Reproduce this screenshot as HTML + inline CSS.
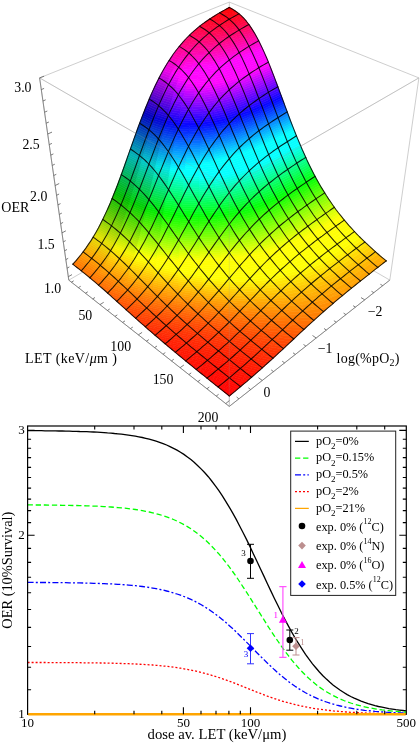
<!DOCTYPE html>
<html><head><meta charset="utf-8"><title>OER</title>
<style>html,body{margin:0;padding:0;background:#fff}svg{display:block}text{font-family:"Liberation Serif",serif}</style>
</head><body>
<svg width="420" height="745" viewBox="0 0 420 745">
<defs><clipPath id="cp"><rect x="27.6" y="426" width="378.7" height="289.3"/></clipPath></defs>
<rect width="420" height="745" fill="#fff"/>
<path d="M229.3 406.4L229.3 187.4M229.3 187.4L39.6 77.9M229.3 187.4L418.9 77.9M68.8 280.1L229.3 406.4M229.3 406.4L389.8 280.1M68.8 280.1L229.3 187.4M229.3 187.4L389.8 280.1M68.8 280.1L39.6 77.9M389.8 280.1L418.9 77.9M229.3 187.4L229.3 2.1M39.6 77.9L229.3 2.1M229.3 2.1L418.9 77.9" stroke="#c2c2c2" stroke-width="0.8" fill="none"/>
<path d="M68.8 280.1L229.3 406.4M229.3 406.4L389.8 280.1M68.8 280.1L39.6 77.9" stroke="#777" stroke-width="0.8" fill="none"/>
<g stroke-width="0.6" stroke-linejoin="round">
<path d="M229.3 396L225 392.3L224.4 392.1Z" fill="#ff0404" stroke="#ff0404"/>
<path d="M229.3 396L225.6 392.5L225 392.3Z" fill="#ff0404" stroke="#ff0404"/>
<path d="M229.3 396L226.1 392.7L225.6 392.5Z" fill="#ff0404" stroke="#ff0404"/>
<path d="M229.3 396L226.7 392.9L226.1 392.7Z" fill="#ff0404" stroke="#ff0404"/>
<path d="M229.3 396L227.3 393.1L226.7 392.9Z" fill="#ff0404" stroke="#ff0404"/>
<path d="M229.3 396L227.9 393.2L227.3 393.1Z" fill="#ff0404" stroke="#ff0404"/>
<path d="M229.3 396L228.4 393.4L227.9 393.2Z" fill="#ff0404" stroke="#ff0404"/>
<path d="M229.3 396L229 393.6L228.4 393.4Z" fill="#ff0404" stroke="#ff0404"/>
<path d="M229.3 396L229.6 393.8L229 393.6Z" fill="#ff0404" stroke="#ff0404"/>
<path d="M229.3 396L230.1 394L229.6 393.8Z" fill="#ff0404" stroke="#ff0404"/>
<path d="M229.3 396L230.7 394.2L230.1 394Z" fill="#ff0404" stroke="#ff0404"/>
<path d="M229.3 396L231.3 394.4L230.7 394.2Z" fill="#ff0404" stroke="#ff0404"/>
<path d="M224.4 392.1L225 392.3L220.8 388.7L219.7 388.4Z" fill="#ff0504" stroke="#ff0504"/>
<path d="M225 392.3L225.6 392.5L222 389.1L220.8 388.7Z" fill="#ff0504" stroke="#ff0504"/>
<path d="M225.6 392.5L226.1 392.7L223.1 389.4L222 389.1Z" fill="#ff0504" stroke="#ff0504"/>
<path d="M226.1 392.7L226.7 392.9L224.2 389.8L223.1 389.4Z" fill="#ff0504" stroke="#ff0504"/>
<path d="M226.7 392.9L227.3 393.1L225.4 390.2L224.2 389.8Z" fill="#ff0504" stroke="#ff0504"/>
<path d="M227.3 393.1L227.9 393.2L226.5 390.5L225.4 390.2Z" fill="#ff0504" stroke="#ff0504"/>
<path d="M227.9 393.2L228.4 393.4L227.6 390.9L226.5 390.5Z" fill="#ff0504" stroke="#ff0504"/>
<path d="M228.4 393.4L229 393.6L228.8 391.2L227.6 390.9Z" fill="#ff0504" stroke="#ff0504"/>
<path d="M229 393.6L229.6 393.8L229.9 391.6L228.8 391.2Z" fill="#ff0504" stroke="#ff0504"/>
<path d="M229.6 393.8L230.1 394L231 392L229.9 391.6Z" fill="#ff0504" stroke="#ff0504"/>
<path d="M230.1 394L230.7 394.2L232.1 392.3L231 392Z" fill="#ff0504" stroke="#ff0504"/>
<path d="M230.7 394.2L231.3 394.4L233.3 392.7L232.1 392.3Z" fill="#ff0504" stroke="#ff0504"/>
<path d="M219.7 388.4L220.8 388.7L216.8 385.2L215.1 384.7Z" fill="#ff0604" stroke="#ff0604"/>
<path d="M220.8 388.7L222 389.1L218.5 385.7L216.8 385.2Z" fill="#ff0604" stroke="#ff0604"/>
<path d="M222 389.1L223.1 389.4L220.1 386.2L218.5 385.7Z" fill="#ff0604" stroke="#ff0604"/>
<path d="M223.1 389.4L224.2 389.8L221.8 386.8L220.1 386.2Z" fill="#ff0604" stroke="#ff0604"/>
<path d="M224.2 389.8L225.4 390.2L223.5 387.3L221.8 386.8Z" fill="#ff0604" stroke="#ff0604"/>
<path d="M225.4 390.2L226.5 390.5L225.2 387.8L223.5 387.3Z" fill="#ff0604" stroke="#ff0604"/>
<path d="M226.5 390.5L227.6 390.9L226.9 388.4L225.2 387.8Z" fill="#ff0604" stroke="#ff0604"/>
<path d="M227.6 390.9L228.8 391.2L228.6 388.9L226.9 388.4Z" fill="#ff0604" stroke="#ff0604"/>
<path d="M228.8 391.2L229.9 391.6L230.2 389.4L228.6 388.9Z" fill="#ff0604" stroke="#ff0604"/>
<path d="M229.9 391.6L231 392L231.9 390L230.2 389.4Z" fill="#ff0604" stroke="#ff0604"/>
<path d="M231 392L232.1 392.3L233.6 390.5L231.9 390Z" fill="#ff0604" stroke="#ff0604"/>
<path d="M232.1 392.3L233.3 392.7L235.3 391L233.6 390.5Z" fill="#ff0604" stroke="#ff0604"/>
<path d="M215.1 384.7L216.8 385.2L212.8 381.7L210.6 381.1Z" fill="#ff0704" stroke="#ff0704"/>
<path d="M216.8 385.2L218.5 385.7L215 382.4L212.8 381.7Z" fill="#ff0704" stroke="#ff0704"/>
<path d="M218.5 385.7L220.1 386.2L217.3 383.1L215 382.4Z" fill="#ff0704" stroke="#ff0704"/>
<path d="M220.1 386.2L221.8 386.8L219.5 383.8L217.3 383.1Z" fill="#ff0704" stroke="#ff0704"/>
<path d="M221.8 386.8L223.5 387.3L221.7 384.5L219.5 383.8Z" fill="#ff0704" stroke="#ff0704"/>
<path d="M223.5 387.3L225.2 387.8L224 385.2L221.7 384.5Z" fill="#ff0704" stroke="#ff0704"/>
<path d="M225.2 387.8L226.9 388.4L226.2 385.9L224 385.2Z" fill="#ff0704" stroke="#ff0704"/>
<path d="M226.9 388.4L228.6 388.9L228.4 386.6L226.2 385.9Z" fill="#ff0704" stroke="#ff0704"/>
<path d="M228.6 388.9L230.2 389.4L230.6 387.3L228.4 386.6Z" fill="#ff0704" stroke="#ff0704"/>
<path d="M230.2 389.4L231.9 390L232.8 388L230.6 387.3Z" fill="#ff0704" stroke="#ff0704"/>
<path d="M231.9 390L233.6 390.5L235.1 388.7L232.8 388Z" fill="#ff0704" stroke="#ff0704"/>
<path d="M233.6 390.5L235.3 391L237.3 389.4L235.1 388.7Z" fill="#ff0704" stroke="#ff0704"/>
<path d="M210.6 381.1L212.8 381.7L209 378.4L206.2 377.5Z" fill="#ff0904" stroke="#ff0904"/>
<path d="M212.8 381.7L215 382.4L211.7 379.2L209 378.4Z" fill="#ff0904" stroke="#ff0904"/>
<path d="M215 382.4L217.3 383.1L214.5 380L211.7 379.2Z" fill="#ff0904" stroke="#ff0904"/>
<path d="M217.3 383.1L219.5 383.8L217.3 380.9L214.5 380Z" fill="#ff0904" stroke="#ff0904"/>
<path d="M219.5 383.8L221.7 384.5L220 381.7L217.3 380.9Z" fill="#ff0904" stroke="#ff0904"/>
<path d="M221.7 384.5L224 385.2L222.8 382.6L220 381.7Z" fill="#ff0904" stroke="#ff0904"/>
<path d="M224 385.2L226.2 385.9L225.5 383.4L222.8 382.6Z" fill="#ff0904" stroke="#ff0904"/>
<path d="M226.2 385.9L228.4 386.6L228.3 384.3L225.5 383.4Z" fill="#ff0904" stroke="#ff0904"/>
<path d="M228.4 386.6L230.6 387.3L231 385.1L228.3 384.3Z" fill="#ff0904" stroke="#ff0904"/>
<path d="M230.6 387.3L232.8 388L233.8 386L231 385.1Z" fill="#ff0904" stroke="#ff0904"/>
<path d="M232.8 388L235.1 388.7L236.6 386.8L233.8 386Z" fill="#ff0904" stroke="#ff0904"/>
<path d="M235.1 388.7L237.3 389.4L239.3 387.7L236.6 386.8Z" fill="#ff0904" stroke="#ff0904"/>
<path d="M206.2 377.5L209 378.4L205.2 375.1L201.9 374.1Z" fill="#ff0a04" stroke="#ff0a04"/>
<path d="M209 378.4L211.7 379.2L208.5 376L205.2 375.1Z" fill="#ff0a04" stroke="#ff0a04"/>
<path d="M211.7 379.2L214.5 380L211.8 377L208.5 376Z" fill="#ff0a04" stroke="#ff0a04"/>
<path d="M214.5 380L217.3 380.9L215.1 378L211.8 377Z" fill="#ff0a04" stroke="#ff0a04"/>
<path d="M217.3 380.9L220 381.7L218.4 379L215.1 378Z" fill="#ff0a04" stroke="#ff0a04"/>
<path d="M220 381.7L222.8 382.6L221.7 380L218.4 379Z" fill="#ff0a04" stroke="#ff0a04"/>
<path d="M222.8 382.6L225.5 383.4L224.9 381L221.7 380Z" fill="#ff0a04" stroke="#ff0a04"/>
<path d="M225.5 383.4L228.3 384.3L228.2 382L224.9 381Z" fill="#ff0a04" stroke="#ff0a04"/>
<path d="M228.3 384.3L231 385.1L231.5 383L228.2 382Z" fill="#ff0a04" stroke="#ff0a04"/>
<path d="M231 385.1L233.8 386L234.8 384L231.5 383Z" fill="#ff0a04" stroke="#ff0a04"/>
<path d="M233.8 386L236.6 386.8L238.1 385L234.8 384Z" fill="#ff0a04" stroke="#ff0a04"/>
<path d="M236.6 386.8L239.3 387.7L241.3 386L238.1 385Z" fill="#ff0a04" stroke="#ff0a04"/>
<path d="M201.9 374.1L205.2 375.1L201.6 371.8L197.7 370.7Z" fill="#ff0b04" stroke="#ff0b04"/>
<path d="M205.2 375.1L208.5 376L205.4 372.9L201.6 371.8Z" fill="#ff0b04" stroke="#ff0b04"/>
<path d="M208.5 376L211.8 377L209.2 374L205.4 372.9Z" fill="#ff0b04" stroke="#ff0b04"/>
<path d="M211.8 377L215.1 378L213 375.1L209.2 374Z" fill="#ff0b04" stroke="#ff0b04"/>
<path d="M215.1 378L218.4 379L216.8 376.3L213 375.1Z" fill="#ff0b04" stroke="#ff0b04"/>
<path d="M218.4 379L221.7 380L220.6 377.4L216.8 376.3Z" fill="#ff0b04" stroke="#ff0b04"/>
<path d="M221.7 380L224.9 381L224.4 378.5L220.6 377.4Z" fill="#ff0b04" stroke="#ff0b04"/>
<path d="M224.9 381L228.2 382L228.2 379.7L224.4 378.5Z" fill="#ff0b04" stroke="#ff0b04"/>
<path d="M228.2 382L231.5 383L232 380.8L228.2 379.7Z" fill="#ff0b04" stroke="#ff0b04"/>
<path d="M231.5 383L234.8 384L235.8 382L232 380.8Z" fill="#ff0b04" stroke="#ff0b04"/>
<path d="M234.8 384L238.1 385L239.6 383.1L235.8 382Z" fill="#ff0b04" stroke="#ff0b04"/>
<path d="M238.1 385L241.3 386L243.4 384.3L239.6 383.1Z" fill="#ff0b04" stroke="#ff0b04"/>
<path d="M197.7 370.7L201.6 371.8L198 368.6L193.7 367.4Z" fill="#ff0d04" stroke="#ff0d04"/>
<path d="M201.6 371.8L205.4 372.9L202.3 369.9L198 368.6Z" fill="#ff0d04" stroke="#ff0d04"/>
<path d="M205.4 372.9L209.2 374L206.6 371.1L202.3 369.9Z" fill="#ff0d04" stroke="#ff0d04"/>
<path d="M209.2 374L213 375.1L211 372.3L206.6 371.1Z" fill="#ff0d04" stroke="#ff0d04"/>
<path d="M213 375.1L216.8 376.3L215.3 373.6L211 372.3Z" fill="#ff0d04" stroke="#ff0d04"/>
<path d="M216.8 376.3L220.6 377.4L219.6 374.8L215.3 373.6Z" fill="#ff0d04" stroke="#ff0d04"/>
<path d="M220.6 377.4L224.4 378.5L223.9 376.1L219.6 374.8Z" fill="#ff0d04" stroke="#ff0d04"/>
<path d="M224.4 378.5L228.2 379.7L228.2 377.4L223.9 376.1Z" fill="#ff0d04" stroke="#ff0d04"/>
<path d="M228.2 379.7L232 380.8L232.5 378.7L228.2 377.4Z" fill="#ff0d04" stroke="#ff0d04"/>
<path d="M232 380.8L235.8 382L236.8 380L232.5 378.7Z" fill="#ff0d04" stroke="#ff0d04"/>
<path d="M235.8 382L239.6 383.1L241.1 381.2L236.8 380Z" fill="#ff0d04" stroke="#ff0d04"/>
<path d="M239.6 383.1L243.4 384.3L245.4 382.6L241.1 381.2Z" fill="#ff0d04" stroke="#ff0d04"/>
<path d="M193.7 367.4L198 368.6L194.5 365.5L189.7 364.2Z" fill="#ff0e04" stroke="#ff0e04"/>
<path d="M198 368.6L202.3 369.9L199.3 366.9L194.5 365.5Z" fill="#ff0e04" stroke="#ff0e04"/>
<path d="M202.3 369.9L206.6 371.1L204.2 368.2L199.3 366.9Z" fill="#ff0e04" stroke="#ff0e04"/>
<path d="M206.6 371.1L211 372.3L209 369.6L204.2 368.2Z" fill="#ff0e04" stroke="#ff0e04"/>
<path d="M211 372.3L215.3 373.6L213.8 370.9L209 369.6Z" fill="#ff0e04" stroke="#ff0e04"/>
<path d="M215.3 373.6L219.6 374.8L218.6 372.3L213.8 370.9Z" fill="#ff0e04" stroke="#ff0e04"/>
<path d="M219.6 374.8L223.9 376.1L223.4 373.7L218.6 372.3Z" fill="#ff0e04" stroke="#ff0e04"/>
<path d="M223.9 376.1L228.2 377.4L228.3 375.1L223.4 373.7Z" fill="#ff0e04" stroke="#ff0e04"/>
<path d="M228.2 377.4L232.5 378.7L233.1 376.5L228.3 375.1Z" fill="#ff0e04" stroke="#ff0e04"/>
<path d="M232.5 378.7L236.8 380L237.9 377.9L233.1 376.5Z" fill="#ff0e04" stroke="#ff0e04"/>
<path d="M236.8 380L241.1 381.2L242.7 379.4L237.9 377.9Z" fill="#ff0e04" stroke="#ff0e04"/>
<path d="M241.1 381.2L245.4 382.6L247.5 380.8L242.7 379.4Z" fill="#ff0e04" stroke="#ff0e04"/>
<path d="M189.7 364.2L194.5 365.5L191.1 362.4L185.8 361Z" fill="#ff1004" stroke="#ff1004"/>
<path d="M194.5 365.5L199.3 366.9L196.5 363.9L191.1 362.4Z" fill="#ff1004" stroke="#ff1004"/>
<path d="M199.3 366.9L204.2 368.2L201.8 365.4L196.5 363.9Z" fill="#ff1004" stroke="#ff1004"/>
<path d="M204.2 368.2L209 369.6L207.1 366.8L201.8 365.4Z" fill="#ff1004" stroke="#ff1004"/>
<path d="M209 369.6L213.8 370.9L212.4 368.3L207.1 366.8Z" fill="#ff1004" stroke="#ff1004"/>
<path d="M213.8 370.9L218.6 372.3L217.7 369.8L212.4 368.3Z" fill="#ff1004" stroke="#ff1004"/>
<path d="M218.6 372.3L223.4 373.7L223 371.3L217.7 369.8Z" fill="#ff1004" stroke="#ff1004"/>
<path d="M223.4 373.7L228.3 375.1L228.3 372.9L223 371.3Z" fill="#ff1004" stroke="#ff1004"/>
<path d="M228.3 375.1L233.1 376.5L233.6 374.4L228.3 372.9Z" fill="#ff1004" stroke="#ff1004"/>
<path d="M233.1 376.5L237.9 377.9L238.9 375.9L233.6 374.4Z" fill="#ff1004" stroke="#ff1004"/>
<path d="M237.9 377.9L242.7 379.4L244.2 377.5L238.9 375.9Z" fill="#ff1004" stroke="#ff1004"/>
<path d="M242.7 379.4L247.5 380.8L249.5 379L244.2 377.5Z" fill="#ff1004" stroke="#ff1004"/>
<path d="M185.8 361L191.1 362.4L187.8 359.4L182 357.9Z" fill="#ff1204" stroke="#ff1204"/>
<path d="M191.1 362.4L196.5 363.9L193.6 361L187.8 359.4Z" fill="#ff1204" stroke="#ff1204"/>
<path d="M196.5 363.9L201.8 365.4L199.4 362.6L193.6 361Z" fill="#ff1204" stroke="#ff1204"/>
<path d="M201.8 365.4L207.1 366.8L205.3 364.1L199.4 362.6Z" fill="#ff1204" stroke="#ff1204"/>
<path d="M207.1 366.8L212.4 368.3L211.1 365.7L205.3 364.1Z" fill="#ff1204" stroke="#ff1204"/>
<path d="M212.4 368.3L217.7 369.8L216.9 367.4L211.1 365.7Z" fill="#ff1204" stroke="#ff1204"/>
<path d="M217.7 369.8L223 371.3L222.7 369L216.9 367.4Z" fill="#ff1204" stroke="#ff1204"/>
<path d="M223 371.3L228.3 372.9L228.5 370.6L222.7 369Z" fill="#ff1204" stroke="#ff1204"/>
<path d="M228.3 372.9L233.6 374.4L234.3 372.3L228.5 370.6Z" fill="#ff1204" stroke="#ff1204"/>
<path d="M233.6 374.4L238.9 375.9L240 373.9L234.3 372.3Z" fill="#ff1204" stroke="#ff1204"/>
<path d="M238.9 375.9L244.2 377.5L245.8 375.6L240 373.9Z" fill="#ff1204" stroke="#ff1204"/>
<path d="M244.2 377.5L249.5 379L251.6 377.3L245.8 375.6Z" fill="#ff1204" stroke="#ff1204"/>
<path d="M182 357.9L187.8 359.4L184.6 356.5L178.3 354.8Z" fill="#ff1404" stroke="#ff1404"/>
<path d="M187.8 359.4L193.6 361L190.9 358.1L184.6 356.5Z" fill="#ff1404" stroke="#ff1404"/>
<path d="M193.6 361L199.4 362.6L197.2 359.8L190.9 358.1Z" fill="#ff1404" stroke="#ff1404"/>
<path d="M199.4 362.6L205.3 364.1L203.5 361.5L197.2 359.8Z" fill="#ff1404" stroke="#ff1404"/>
<path d="M205.3 364.1L211.1 365.7L209.8 363.2L203.5 361.5Z" fill="#ff1404" stroke="#ff1404"/>
<path d="M211.1 365.7L216.9 367.4L216 364.9L209.8 363.2Z" fill="#ff1404" stroke="#ff1404"/>
<path d="M216.9 367.4L222.7 369L222.3 366.6L216 364.9Z" fill="#ff1404" stroke="#ff1404"/>
<path d="M222.7 369L228.5 370.6L228.6 368.4L222.3 366.6Z" fill="#ff1404" stroke="#ff1404"/>
<path d="M228.5 370.6L234.3 372.3L234.9 370.1L228.6 368.4Z" fill="#ff1404" stroke="#ff1404"/>
<path d="M234.3 372.3L240 373.9L241.2 371.9L234.9 370.1Z" fill="#ff1404" stroke="#ff1404"/>
<path d="M240 373.9L245.8 375.6L247.4 373.7L241.2 371.9Z" fill="#ff1404" stroke="#ff1404"/>
<path d="M245.8 375.6L251.6 377.3L253.7 375.4L247.4 373.7Z" fill="#ff1404" stroke="#ff1404"/>
<path d="M178.3 354.8L184.6 356.5L181.4 353.5L174.6 351.8Z" fill="#ff1604" stroke="#ff1604"/>
<path d="M184.6 356.5L190.9 358.1L188.2 355.3L181.4 353.5Z" fill="#ff1604" stroke="#ff1604"/>
<path d="M190.9 358.1L197.2 359.8L195 357.1L188.2 355.3Z" fill="#ff1604" stroke="#ff1604"/>
<path d="M197.2 359.8L203.5 361.5L201.7 358.9L195 357.1Z" fill="#ff1604" stroke="#ff1604"/>
<path d="M203.5 361.5L209.8 363.2L208.5 360.7L201.7 358.9Z" fill="#ff1604" stroke="#ff1604"/>
<path d="M209.8 363.2L216 364.9L215.3 362.5L208.5 360.7Z" fill="#ff1604" stroke="#ff1604"/>
<path d="M216 364.9L222.3 366.6L222 364.3L215.3 362.5Z" fill="#ff1604" stroke="#ff1604"/>
<path d="M222.3 366.6L228.6 368.4L228.8 366.1L222 364.3Z" fill="#ff1604" stroke="#ff1604"/>
<path d="M228.6 368.4L234.9 370.1L235.6 368L228.8 366.1Z" fill="#ff1604" stroke="#ff1604"/>
<path d="M234.9 370.1L241.2 371.9L242.3 369.9L235.6 368Z" fill="#ff1604" stroke="#ff1604"/>
<path d="M241.2 371.9L247.4 373.7L249.1 371.7L242.3 369.9Z" fill="#ff1604" stroke="#ff1604"/>
<path d="M247.4 373.7L253.7 375.4L255.8 373.6L249.1 371.7Z" fill="#ff1604" stroke="#ff1604"/>
<path d="M174.6 351.8L181.4 353.5L178.3 350.7L171 348.8Z" fill="#ff1804" stroke="#ff1804"/>
<path d="M181.4 353.5L188.2 355.3L185.6 352.5L178.3 350.7Z" fill="#ff1804" stroke="#ff1804"/>
<path d="M188.2 355.3L195 357.1L192.8 354.4L185.6 352.5Z" fill="#ff1804" stroke="#ff1804"/>
<path d="M195 357.1L201.7 358.9L200.1 356.3L192.8 354.4Z" fill="#ff1804" stroke="#ff1804"/>
<path d="M201.7 358.9L208.5 360.7L207.3 358.2L200.1 356.3Z" fill="#ff1804" stroke="#ff1804"/>
<path d="M208.5 360.7L215.3 362.5L214.6 360.1L207.3 358.2Z" fill="#ff1804" stroke="#ff1804"/>
<path d="M215.3 362.5L222 364.3L221.8 362L214.6 360.1Z" fill="#ff1804" stroke="#ff1804"/>
<path d="M222 364.3L228.8 366.1L229 363.9L221.8 362Z" fill="#ff1804" stroke="#ff1804"/>
<path d="M228.8 366.1L235.6 368L236.3 365.9L229 363.9Z" fill="#ff1804" stroke="#ff1804"/>
<path d="M235.6 368L242.3 369.9L243.5 367.8L236.3 365.9Z" fill="#ff1804" stroke="#ff1804"/>
<path d="M242.3 369.9L249.1 371.7L250.7 369.8L243.5 367.8Z" fill="#ff1804" stroke="#ff1804"/>
<path d="M249.1 371.7L255.8 373.6L257.9 371.8L250.7 369.8Z" fill="#ff1804" stroke="#ff1804"/>
<path d="M171 348.8L178.3 350.7L175.3 347.8L167.5 345.9Z" fill="#ff1a04" stroke="#ff1a04"/>
<path d="M178.3 350.7L185.6 352.5L183 349.8L175.3 347.8Z" fill="#ff1a04" stroke="#ff1a04"/>
<path d="M185.6 352.5L192.8 354.4L190.7 351.7L183 349.8Z" fill="#ff1a04" stroke="#ff1a04"/>
<path d="M192.8 354.4L200.1 356.3L198.4 353.7L190.7 351.7Z" fill="#ff1a04" stroke="#ff1a04"/>
<path d="M200.1 356.3L207.3 358.2L206.2 355.7L198.4 353.7Z" fill="#ff1a04" stroke="#ff1a04"/>
<path d="M207.3 358.2L214.6 360.1L213.9 357.7L206.2 355.7Z" fill="#ff1a04" stroke="#ff1a04"/>
<path d="M214.6 360.1L221.8 362L221.6 359.7L213.9 357.7Z" fill="#ff1a04" stroke="#ff1a04"/>
<path d="M221.8 362L229 363.9L229.3 361.7L221.6 359.7Z" fill="#ff1a04" stroke="#ff1a04"/>
<path d="M229 363.9L236.3 365.9L237 363.7L229.3 361.7Z" fill="#ff1a04" stroke="#ff1a04"/>
<path d="M236.3 365.9L243.5 367.8L244.7 365.8L237 363.7Z" fill="#ff1a04" stroke="#ff1a04"/>
<path d="M243.5 367.8L250.7 369.8L252.4 367.8L244.7 365.8Z" fill="#ff1a04" stroke="#ff1a04"/>
<path d="M250.7 369.8L257.9 371.8L260.1 369.9L252.4 367.8Z" fill="#ff1a04" stroke="#ff1a04"/>
<path d="M167.5 345.9L175.3 347.8L172.3 345L164.1 343Z" fill="#ff1d04" stroke="#ff1d04"/>
<path d="M175.3 347.8L183 349.8L180.5 347.1L172.3 345Z" fill="#ff1d04" stroke="#ff1d04"/>
<path d="M183 349.8L190.7 351.7L188.7 349.1L180.5 347.1Z" fill="#ff1d04" stroke="#ff1d04"/>
<path d="M190.7 351.7L198.4 353.7L196.9 351.1L188.7 349.1Z" fill="#ff1d04" stroke="#ff1d04"/>
<path d="M198.4 353.7L206.2 355.7L205 353.2L196.9 351.1Z" fill="#ff1d04" stroke="#ff1d04"/>
<path d="M206.2 355.7L213.9 357.7L213.2 355.3L205 353.2Z" fill="#ff1d04" stroke="#ff1d04"/>
<path d="M213.9 357.7L221.6 359.7L221.4 357.4L213.2 355.3Z" fill="#ff1d04" stroke="#ff1d04"/>
<path d="M221.6 359.7L229.3 361.7L229.6 359.5L221.4 357.4Z" fill="#ff1d04" stroke="#ff1d04"/>
<path d="M229.3 361.7L237 363.7L237.7 361.6L229.6 359.5Z" fill="#ff1d04" stroke="#ff1d04"/>
<path d="M237 363.7L244.7 365.8L245.9 363.7L237.7 361.6Z" fill="#ff1d04" stroke="#ff1d04"/>
<path d="M244.7 365.8L252.4 367.8L254.1 365.9L245.9 363.7Z" fill="#ff1d04" stroke="#ff1d04"/>
<path d="M252.4 367.8L260.1 369.9L262.2 368L254.1 365.9Z" fill="#ff1d04" stroke="#ff1d04"/>
<path d="M164.1 343L172.3 345L169.4 342.2L160.7 340.1Z" fill="#ff2004" stroke="#ff2004"/>
<path d="M172.3 345L180.5 347.1L178 344.4L169.4 342.2Z" fill="#ff2004" stroke="#ff2004"/>
<path d="M180.5 347.1L188.7 349.1L186.7 346.5L178 344.4Z" fill="#ff2004" stroke="#ff2004"/>
<path d="M188.7 349.1L196.9 351.1L195.3 348.6L186.7 346.5Z" fill="#ff2004" stroke="#ff2004"/>
<path d="M196.9 351.1L205 353.2L204 350.8L195.3 348.6Z" fill="#ff2004" stroke="#ff2004"/>
<path d="M205 353.2L213.2 355.3L212.6 352.9L204 350.8Z" fill="#ff1f04" stroke="#ff1f04"/>
<path d="M213.2 355.3L221.4 357.4L221.2 355.1L212.6 352.9Z" fill="#ff1f04" stroke="#ff1f04"/>
<path d="M221.4 357.4L229.6 359.5L229.9 357.3L221.2 355.1Z" fill="#ff1f04" stroke="#ff1f04"/>
<path d="M229.6 359.5L237.7 361.6L238.5 359.5L229.9 357.3Z" fill="#ff1f04" stroke="#ff1f04"/>
<path d="M237.7 361.6L245.9 363.7L247.1 361.7L238.5 359.5Z" fill="#ff1f04" stroke="#ff1f04"/>
<path d="M245.9 363.7L254.1 365.9L255.8 363.9L247.1 361.7Z" fill="#ff1f04" stroke="#ff1f04"/>
<path d="M254.1 365.9L262.2 368L264.4 366L255.8 363.9Z" fill="#ff1f04" stroke="#ff1f04"/>
<path d="M160.7 340.1L169.4 342.2L166.5 339.5L157.4 337.3Z" fill="#ff2205" stroke="#ff2205"/>
<path d="M169.4 342.2L178 344.4L175.6 341.7L166.5 339.5Z" fill="#ff2205" stroke="#ff2205"/>
<path d="M178 344.4L186.7 346.5L184.7 343.9L175.6 341.7Z" fill="#ff2205" stroke="#ff2205"/>
<path d="M186.7 346.5L195.3 348.6L193.8 346.1L184.7 343.9Z" fill="#ff2204" stroke="#ff2204"/>
<path d="M195.3 348.6L204 350.8L202.9 348.4L193.8 346.1Z" fill="#ff2204" stroke="#ff2204"/>
<path d="M204 350.8L212.6 352.9L212 350.6L202.9 348.4Z" fill="#ff2204" stroke="#ff2204"/>
<path d="M212.6 352.9L221.2 355.1L221.1 352.8L212 350.6Z" fill="#ff2204" stroke="#ff2204"/>
<path d="M221.2 355.1L229.9 357.3L230.2 355.1L221.1 352.8Z" fill="#ff2204" stroke="#ff2204"/>
<path d="M229.9 357.3L238.5 359.5L239.3 357.3L230.2 355.1Z" fill="#ff2204" stroke="#ff2204"/>
<path d="M238.5 359.5L247.1 361.7L248.4 359.6L239.3 357.3Z" fill="#ff2204" stroke="#ff2204"/>
<path d="M247.1 361.7L255.8 363.9L257.5 361.8L248.4 359.6Z" fill="#ff2204" stroke="#ff2204"/>
<path d="M255.8 363.9L264.4 366L266.6 364.1L257.5 361.8Z" fill="#ff2204" stroke="#ff2204"/>
<path d="M157.4 337.3L166.5 339.5L163.7 336.8L154.1 334.5Z" fill="#ff2505" stroke="#ff2505"/>
<path d="M166.5 339.5L175.6 341.7L173.2 339.1L163.7 336.8Z" fill="#ff2505" stroke="#ff2505"/>
<path d="M175.6 341.7L184.7 343.9L182.8 341.4L173.2 339.1Z" fill="#ff2505" stroke="#ff2505"/>
<path d="M184.7 343.9L193.8 346.1L192.3 343.7L182.8 341.4Z" fill="#ff2505" stroke="#ff2505"/>
<path d="M193.8 346.1L202.9 348.4L201.9 346L192.3 343.7Z" fill="#ff2505" stroke="#ff2505"/>
<path d="M202.9 348.4L212 350.6L211.5 348.3L201.9 346Z" fill="#ff2505" stroke="#ff2505"/>
<path d="M212 350.6L221.1 352.8L221 350.6L211.5 348.3Z" fill="#ff2505" stroke="#ff2505"/>
<path d="M221.1 352.8L230.2 355.1L230.6 352.9L221 350.6Z" fill="#ff2504" stroke="#ff2504"/>
<path d="M230.2 355.1L239.3 357.3L240.1 355.2L230.6 352.9Z" fill="#ff2504" stroke="#ff2504"/>
<path d="M239.3 357.3L248.4 359.6L249.7 357.5L240.1 355.2Z" fill="#ff2504" stroke="#ff2504"/>
<path d="M248.4 359.6L257.5 361.8L259.3 359.8L249.7 357.5Z" fill="#ff2504" stroke="#ff2504"/>
<path d="M257.5 361.8L266.6 364.1L268.8 362.1L259.3 359.8Z" fill="#ff2504" stroke="#ff2504"/>
<path d="M154.1 334.5L163.7 336.8L160.9 334.1L150.9 331.7Z" fill="#ff2905" stroke="#ff2905"/>
<path d="M163.7 336.8L173.2 339.1L170.9 336.5L160.9 334.1Z" fill="#ff2905" stroke="#ff2905"/>
<path d="M173.2 339.1L182.8 341.4L180.9 338.8L170.9 336.5Z" fill="#ff2905" stroke="#ff2905"/>
<path d="M182.8 341.4L192.3 343.7L190.9 341.2L180.9 338.8Z" fill="#ff2905" stroke="#ff2905"/>
<path d="M192.3 343.7L201.9 346L200.9 343.6L190.9 341.2Z" fill="#ff2905" stroke="#ff2905"/>
<path d="M201.9 346L211.5 348.3L210.9 345.9L200.9 343.6Z" fill="#ff2905" stroke="#ff2905"/>
<path d="M211.5 348.3L221 350.6L221 348.3L210.9 345.9Z" fill="#ff2905" stroke="#ff2905"/>
<path d="M221 350.6L230.6 352.9L231 350.7L221 348.3Z" fill="#ff2805" stroke="#ff2805"/>
<path d="M230.6 352.9L240.1 355.2L241 353L231 350.7Z" fill="#ff2805" stroke="#ff2805"/>
<path d="M240.1 355.2L249.7 357.5L251 355.4L241 353Z" fill="#ff2805" stroke="#ff2805"/>
<path d="M249.7 357.5L259.3 359.8L261 357.7L251 355.4Z" fill="#ff2804" stroke="#ff2804"/>
<path d="M259.3 359.8L268.8 362.1L271.1 360L261 357.7Z" fill="#ff2804" stroke="#ff2804"/>
<path d="M150.9 331.7L160.9 334.1L158.1 331.4L147.6 328.9Z" fill="#ff2c05" stroke="#ff2c05"/>
<path d="M160.9 334.1L170.9 336.5L168.6 333.9L158.1 331.4Z" fill="#ff2c05" stroke="#ff2c05"/>
<path d="M170.9 336.5L180.9 338.8L179 336.3L168.6 333.9Z" fill="#ff2c05" stroke="#ff2c05"/>
<path d="M180.9 338.8L190.9 341.2L189.5 338.8L179 336.3Z" fill="#ff2c05" stroke="#ff2c05"/>
<path d="M190.9 341.2L200.9 343.6L200 341.2L189.5 338.8Z" fill="#ff2c05" stroke="#ff2c05"/>
<path d="M200.9 343.6L210.9 345.9L210.5 343.6L200 341.2Z" fill="#ff2c05" stroke="#ff2c05"/>
<path d="M210.9 345.9L221 348.3L220.9 346.1L210.5 343.6Z" fill="#ff2c05" stroke="#ff2c05"/>
<path d="M221 348.3L231 350.7L231.4 348.5L220.9 346.1Z" fill="#ff2c05" stroke="#ff2c05"/>
<path d="M231 350.7L241 353L241.9 350.9L231.4 348.5Z" fill="#ff2c05" stroke="#ff2c05"/>
<path d="M241 353L251 355.4L252.4 353.3L241.9 350.9Z" fill="#ff2c05" stroke="#ff2c05"/>
<path d="M251 355.4L261 357.7L262.9 355.6L252.4 353.3Z" fill="#ff2c05" stroke="#ff2c05"/>
<path d="M261 357.7L271.1 360L273.4 357.9L262.9 355.6Z" fill="#ff2c05" stroke="#ff2c05"/>
<path d="M147.6 328.9L158.1 331.4L155.4 328.8L144.5 326.1Z" fill="#ff3005" stroke="#ff3005"/>
<path d="M158.1 331.4L168.6 333.9L166.3 331.3L155.4 328.8Z" fill="#ff3005" stroke="#ff3005"/>
<path d="M168.6 333.9L179 336.3L177.2 333.9L166.3 331.3Z" fill="#ff3005" stroke="#ff3005"/>
<path d="M179 336.3L189.5 338.8L188.1 336.4L177.2 333.9Z" fill="#ff3005" stroke="#ff3005"/>
<path d="M189.5 338.8L200 341.2L199.1 338.9L188.1 336.4Z" fill="#ff3005" stroke="#ff3005"/>
<path d="M200 341.2L210.5 343.6L210 341.3L199.1 338.9Z" fill="#ff2f05" stroke="#ff2f05"/>
<path d="M210.5 343.6L220.9 346.1L220.9 343.8L210 341.3Z" fill="#ff2f05" stroke="#ff2f05"/>
<path d="M220.9 346.1L231.4 348.5L231.9 346.3L220.9 343.8Z" fill="#ff2f05" stroke="#ff2f05"/>
<path d="M231.4 348.5L241.9 350.9L242.8 348.7L231.9 346.3Z" fill="#ff2f05" stroke="#ff2f05"/>
<path d="M241.9 350.9L252.4 353.3L253.8 351.1L242.8 348.7Z" fill="#ff2f05" stroke="#ff2f05"/>
<path d="M252.4 353.3L262.9 355.6L264.7 353.5L253.8 351.1Z" fill="#ff2f05" stroke="#ff2f05"/>
<path d="M262.9 355.6L273.4 357.9L275.7 355.8L264.7 353.5Z" fill="#ff2f05" stroke="#ff2f05"/>
<path d="M144.5 326.1L155.4 328.8L152.6 326.1L141.3 323.3Z" fill="#ff3305" stroke="#ff3305"/>
<path d="M155.4 328.8L166.3 331.3L164 328.8L152.6 326.1Z" fill="#ff3305" stroke="#ff3305"/>
<path d="M166.3 331.3L177.2 333.9L175.4 331.4L164 328.8Z" fill="#ff3305" stroke="#ff3305"/>
<path d="M177.2 333.9L188.1 336.4L186.8 334L175.4 331.4Z" fill="#ff3305" stroke="#ff3305"/>
<path d="M188.1 336.4L199.1 338.9L198.2 336.5L186.8 334Z" fill="#ff3305" stroke="#ff3305"/>
<path d="M199.1 338.9L210 341.3L209.5 339.1L198.2 336.5Z" fill="#ff3305" stroke="#ff3305"/>
<path d="M210 341.3L220.9 343.8L220.9 341.6L209.5 339.1Z" fill="#ff3305" stroke="#ff3305"/>
<path d="M220.9 343.8L231.9 346.3L232.3 344.1L220.9 341.6Z" fill="#ff3305" stroke="#ff3305"/>
<path d="M231.9 346.3L242.8 348.7L243.8 346.6L232.3 344.1Z" fill="#ff3305" stroke="#ff3305"/>
<path d="M242.8 348.7L253.8 351.1L255.2 349L243.8 346.6Z" fill="#ff3305" stroke="#ff3305"/>
<path d="M253.8 351.1L264.7 353.5L266.6 351.4L255.2 349Z" fill="#ff3305" stroke="#ff3305"/>
<path d="M264.7 353.5L275.7 355.8L278.1 353.6L266.6 351.4Z" fill="#ff3305" stroke="#ff3305"/>
<path d="M141.3 323.3L152.6 326.1L149.9 323.4L138.1 320.5Z" fill="#ff3705" stroke="#ff3705"/>
<path d="M152.6 326.1L164 328.8L161.7 326.2L149.9 323.4Z" fill="#ff3705" stroke="#ff3705"/>
<path d="M164 328.8L175.4 331.4L173.6 328.9L161.7 326.2Z" fill="#ff3705" stroke="#ff3705"/>
<path d="M175.4 331.4L186.8 334L185.4 331.6L173.6 328.9Z" fill="#ff3705" stroke="#ff3705"/>
<path d="M186.8 334L198.2 336.5L197.3 334.2L185.4 331.6Z" fill="#ff3705" stroke="#ff3705"/>
<path d="M198.2 336.5L209.5 339.1L209.1 336.8L197.3 334.2Z" fill="#ff3705" stroke="#ff3705"/>
<path d="M209.5 339.1L220.9 341.6L221 339.4L209.1 336.8Z" fill="#ff3705" stroke="#ff3705"/>
<path d="M220.9 341.6L232.3 344.1L232.9 341.9L221 339.4Z" fill="#ff3705" stroke="#ff3705"/>
<path d="M232.3 344.1L243.8 346.6L244.7 344.4L232.9 341.9Z" fill="#ff3705" stroke="#ff3705"/>
<path d="M243.8 346.6L255.2 349L256.6 346.8L244.7 344.4Z" fill="#ff3705" stroke="#ff3705"/>
<path d="M255.2 349L266.6 351.4L268.5 349.2L256.6 346.8Z" fill="#ff3705" stroke="#ff3705"/>
<path d="M266.6 351.4L278.1 353.6L280.5 351.4L268.5 349.2Z" fill="#ff3705" stroke="#ff3705"/>
<path d="M138.1 320.5L149.9 323.4L147.2 320.8L135 317.7Z" fill="#ff3b05" stroke="#ff3b05"/>
<path d="M149.9 323.4L161.7 326.2L159.5 323.7L147.2 320.8Z" fill="#ff3b05" stroke="#ff3b05"/>
<path d="M161.7 326.2L173.6 328.9L171.8 326.5L159.5 323.7Z" fill="#ff3b05" stroke="#ff3b05"/>
<path d="M173.6 328.9L185.4 331.6L184.1 329.2L171.8 326.5Z" fill="#ff3b05" stroke="#ff3b05"/>
<path d="M185.4 331.6L197.3 334.2L196.4 331.9L184.1 329.2Z" fill="#ff3b05" stroke="#ff3b05"/>
<path d="M197.3 334.2L209.1 336.8L208.7 334.5L196.4 331.9Z" fill="#ff3b05" stroke="#ff3b05"/>
<path d="M209.1 336.8L221 339.4L221.1 337.1L208.7 334.5Z" fill="#ff3b05" stroke="#ff3b05"/>
<path d="M221 339.4L232.9 341.9L233.4 339.7L221.1 337.1Z" fill="#ff3b05" stroke="#ff3b05"/>
<path d="M232.9 341.9L244.7 344.4L245.8 342.2L233.4 339.7Z" fill="#ff3b05" stroke="#ff3b05"/>
<path d="M244.7 344.4L256.6 346.8L258.1 344.6L245.8 342.2Z" fill="#ff3b05" stroke="#ff3b05"/>
<path d="M256.6 346.8L268.5 349.2L270.5 346.9L258.1 344.6Z" fill="#ff3b05" stroke="#ff3b05"/>
<path d="M268.5 349.2L280.5 351.4L282.9 349.1L270.5 346.9Z" fill="#ff3b05" stroke="#ff3b05"/>
<path d="M135 317.7L147.2 320.8L144.5 318.1L131.8 314.9Z" fill="#ff4005" stroke="#ff4005"/>
<path d="M147.2 320.8L159.5 323.7L157.2 321.2L144.5 318.1Z" fill="#ff4005" stroke="#ff4005"/>
<path d="M159.5 323.7L171.8 326.5L170 324.1L157.2 321.2Z" fill="#ff4005" stroke="#ff4005"/>
<path d="M171.8 326.5L184.1 329.2L182.7 326.9L170 324.1Z" fill="#ff4005" stroke="#ff4005"/>
<path d="M184.1 329.2L196.4 331.9L195.5 329.6L182.7 326.9Z" fill="#ff4005" stroke="#ff4005"/>
<path d="M196.4 331.9L208.7 334.5L208.3 332.3L195.5 329.6Z" fill="#ff4005" stroke="#ff4005"/>
<path d="M208.7 334.5L221.1 337.1L221.1 334.9L208.3 332.3Z" fill="#ff4005" stroke="#ff4005"/>
<path d="M221.1 337.1L233.4 339.7L234 337.5L221.1 334.9Z" fill="#ff4005" stroke="#ff4005"/>
<path d="M233.4 339.7L245.8 342.2L246.8 340L234 337.5Z" fill="#ff4005" stroke="#ff4005"/>
<path d="M245.8 342.2L258.1 344.6L259.7 342.4L246.8 340Z" fill="#ff4005" stroke="#ff4005"/>
<path d="M258.1 344.6L270.5 346.9L272.6 344.7L259.7 342.4Z" fill="#ff4005" stroke="#ff4005"/>
<path d="M270.5 346.9L282.9 349.1L285.5 346.7L272.6 344.7Z" fill="#ff4005" stroke="#ff4005"/>
<path d="M131.8 314.9L144.5 318.1L141.7 315.4L128.6 312Z" fill="#ff4405" stroke="#ff4405"/>
<path d="M144.5 318.1L157.2 321.2L154.9 318.6L141.7 315.4Z" fill="#ff4405" stroke="#ff4405"/>
<path d="M157.2 321.2L170 324.1L168.1 321.6L154.9 318.6Z" fill="#ff4405" stroke="#ff4405"/>
<path d="M170 324.1L182.7 326.9L181.4 324.5L168.1 321.6Z" fill="#ff4405" stroke="#ff4405"/>
<path d="M182.7 326.9L195.5 329.6L194.7 327.3L181.4 324.5Z" fill="#ff4405" stroke="#ff4405"/>
<path d="M195.5 329.6L208.3 332.3L207.9 330L194.7 327.3Z" fill="#ff4405" stroke="#ff4405"/>
<path d="M208.3 332.3L221.1 334.9L221.2 332.7L207.9 330Z" fill="#ff4405" stroke="#ff4405"/>
<path d="M221.1 334.9L234 337.5L234.6 335.3L221.2 332.7Z" fill="#ff4405" stroke="#ff4405"/>
<path d="M234 337.5L246.8 340L247.9 337.8L234.6 335.3Z" fill="#ff4405" stroke="#ff4405"/>
<path d="M246.8 340L259.7 342.4L261.3 340.2L247.9 337.8Z" fill="#ff4405" stroke="#ff4405"/>
<path d="M259.7 342.4L272.6 344.7L274.6 342.4L261.3 340.2Z" fill="#ff4405" stroke="#ff4405"/>
<path d="M272.6 344.7L285.5 346.7L288.1 344.3L274.6 342.4Z" fill="#ff4405" stroke="#ff4405"/>
<path d="M128.6 312L141.7 315.4L138.9 312.7L125.3 309Z" fill="#ff4905" stroke="#ff4905"/>
<path d="M141.7 315.4L154.9 318.6L152.5 316.1L138.9 312.7Z" fill="#ff4905" stroke="#ff4905"/>
<path d="M154.9 318.6L168.1 321.6L166.3 319.2L152.5 316.1Z" fill="#ff4905" stroke="#ff4905"/>
<path d="M168.1 321.6L181.4 324.5L180 322.2L166.3 319.2Z" fill="#ff4905" stroke="#ff4905"/>
<path d="M181.4 324.5L194.7 327.3L193.8 325L180 322.2Z" fill="#ff4905" stroke="#ff4905"/>
<path d="M194.7 327.3L207.9 330L207.6 327.8L193.8 325Z" fill="#ff4905" stroke="#ff4905"/>
<path d="M207.9 330L221.2 332.7L221.4 330.5L207.6 327.8Z" fill="#ff4905" stroke="#ff4905"/>
<path d="M221.2 332.7L234.6 335.3L235.2 333.1L221.4 330.5Z" fill="#ff4905" stroke="#ff4905"/>
<path d="M234.6 335.3L247.9 337.8L249 335.6L235.2 333.1Z" fill="#ff4905" stroke="#ff4905"/>
<path d="M247.9 337.8L261.3 340.2L262.9 337.9L249 335.6Z" fill="#ff4905" stroke="#ff4905"/>
<path d="M261.3 340.2L274.6 342.4L276.8 340L262.9 337.9Z" fill="#ff4905" stroke="#ff4905"/>
<path d="M274.6 342.4L288.1 344.3L290.8 341.8L276.8 340Z" fill="#ff4905" stroke="#ff4905"/>
<path d="M125.3 309L138.9 312.7L136 310L122 306Z" fill="#ff4d05" stroke="#ff4d05"/>
<path d="M138.9 312.7L152.5 316.1L150.1 313.5L136 310Z" fill="#ff4e05" stroke="#ff4e05"/>
<path d="M152.5 316.1L166.3 319.2L164.4 316.7L150.1 313.5Z" fill="#ff4e05" stroke="#ff4e05"/>
<path d="M166.3 319.2L180 322.2L178.6 319.8L164.4 316.7Z" fill="#ff4e05" stroke="#ff4e05"/>
<path d="M180 322.2L193.8 325L192.9 322.7L178.6 319.8Z" fill="#ff4e05" stroke="#ff4e05"/>
<path d="M193.8 325L207.6 327.8L207.2 325.6L192.9 322.7Z" fill="#ff4e05" stroke="#ff4e05"/>
<path d="M207.6 327.8L221.4 330.5L221.5 328.3L207.2 325.6Z" fill="#ff4e05" stroke="#ff4e05"/>
<path d="M221.4 330.5L235.2 333.1L235.9 330.9L221.5 328.3Z" fill="#ff4e05" stroke="#ff4e05"/>
<path d="M235.2 333.1L249 335.6L250.2 333.3L235.9 330.9Z" fill="#ff4e05" stroke="#ff4e05"/>
<path d="M249 335.6L262.9 337.9L264.6 335.6L250.2 333.3Z" fill="#ff4e05" stroke="#ff4e05"/>
<path d="M262.9 337.9L276.8 340L279.1 337.6L264.6 335.6Z" fill="#ff4e05" stroke="#ff4e05"/>
<path d="M276.8 340L290.8 341.8L293.6 339.2L279.1 337.6Z" fill="#ff4e05" stroke="#ff4e05"/>
<path d="M122 306L136 310L133 307.2L118.5 302.9Z" fill="#ff5205" stroke="#ff5205"/>
<path d="M136 310L150.1 313.5L147.6 310.9L133 307.2Z" fill="#ff5305" stroke="#ff5305"/>
<path d="M150.1 313.5L164.4 316.7L162.4 314.3L147.6 310.9Z" fill="#ff5305" stroke="#ff5305"/>
<path d="M164.4 316.7L178.6 319.8L177.1 317.5L162.4 314.3Z" fill="#ff5405" stroke="#ff5405"/>
<path d="M178.6 319.8L192.9 322.7L192 320.5L177.1 317.5Z" fill="#ff5405" stroke="#ff5405"/>
<path d="M192.9 322.7L207.2 325.6L206.8 323.3L192 320.5Z" fill="#ff5405" stroke="#ff5405"/>
<path d="M207.2 325.6L221.5 328.3L221.7 326.1L206.8 323.3Z" fill="#ff5405" stroke="#ff5405"/>
<path d="M221.5 328.3L235.9 330.9L236.5 328.7L221.7 326.1Z" fill="#ff5405" stroke="#ff5405"/>
<path d="M235.9 330.9L250.2 333.3L251.5 331.1L236.5 328.7Z" fill="#ff5405" stroke="#ff5405"/>
<path d="M250.2 333.3L264.6 335.6L266.4 333.2L251.5 331.1Z" fill="#ff5305" stroke="#ff5305"/>
<path d="M264.6 335.6L279.1 337.6L281.4 335.1L266.4 333.2Z" fill="#ff5305" stroke="#ff5305"/>
<path d="M279.1 337.6L293.6 339.2L296.5 336.4L281.4 335.1Z" fill="#ff5305" stroke="#ff5305"/>
<path d="M118.5 302.9L133 307.2L129.8 304.3L114.9 299.6Z" fill="#ff5705" stroke="#ff5705"/>
<path d="M133 307.2L147.6 310.9L145 308.3L129.8 304.3Z" fill="#ff5805" stroke="#ff5805"/>
<path d="M147.6 310.9L162.4 314.3L160.3 311.8L145 308.3Z" fill="#ff5905" stroke="#ff5905"/>
<path d="M162.4 314.3L177.1 317.5L175.6 315.1L160.3 311.8Z" fill="#ff5905" stroke="#ff5905"/>
<path d="M177.1 317.5L192 320.5L191 318.2L175.6 315.1Z" fill="#ff5905" stroke="#ff5905"/>
<path d="M192 320.5L206.8 323.3L206.4 321.1L191 318.2Z" fill="#ff5905" stroke="#ff5905"/>
<path d="M206.8 323.3L221.7 326.1L221.8 323.9L206.4 321.1Z" fill="#ff5905" stroke="#ff5905"/>
<path d="M221.7 326.1L236.5 328.7L237.3 326.5L221.8 323.9Z" fill="#ff5905" stroke="#ff5905"/>
<path d="M236.5 328.7L251.5 331.1L252.8 328.8L237.3 326.5Z" fill="#ff5905" stroke="#ff5905"/>
<path d="M251.5 331.1L266.4 333.2L268.3 330.9L252.8 328.8Z" fill="#ff5905" stroke="#ff5905"/>
<path d="M266.4 333.2L281.4 335.1L283.9 332.5L268.3 330.9Z" fill="#ff5905" stroke="#ff5905"/>
<path d="M281.4 335.1L296.5 336.4L299.5 333.6L283.9 332.5Z" fill="#ff5905" stroke="#ff5905"/>
<path d="M114.9 299.6L129.8 304.3L126.4 301.3L111 296.1Z" fill="#ff5d05" stroke="#ff5d05"/>
<path d="M129.8 304.3L145 308.3L142.2 305.6L126.4 301.3Z" fill="#ff5d05" stroke="#ff5d05"/>
<path d="M145 308.3L160.3 311.8L158 309.3L142.2 305.6Z" fill="#ff5e06" stroke="#ff5e06"/>
<path d="M160.3 311.8L175.6 315.1L173.9 312.7L158 309.3Z" fill="#ff5e06" stroke="#ff5e06"/>
<path d="M175.6 315.1L191 318.2L189.9 315.9L173.9 312.7Z" fill="#ff5f06" stroke="#ff5f06"/>
<path d="M191 318.2L206.4 321.1L205.9 318.9L189.9 315.9Z" fill="#ff5f06" stroke="#ff5f06"/>
<path d="M206.4 321.1L221.8 323.9L221.9 321.7L205.9 318.9Z" fill="#ff5f06" stroke="#ff5f06"/>
<path d="M221.8 323.9L237.3 326.5L238 324.2L221.9 321.7Z" fill="#ff5f05" stroke="#ff5f05"/>
<path d="M237.3 326.5L252.8 328.8L254.1 326.5L238 324.2Z" fill="#ff5f05" stroke="#ff5f05"/>
<path d="M252.8 328.8L268.3 330.9L270.3 328.4L254.1 326.5Z" fill="#ff5f05" stroke="#ff5f05"/>
<path d="M268.3 330.9L283.9 332.5L286.5 329.8L270.3 328.4Z" fill="#ff5f05" stroke="#ff5f05"/>
<path d="M283.9 332.5L299.5 333.6L302.8 330.6L286.5 329.8Z" fill="#ff5f05" stroke="#ff5f05"/>
<path d="M111 296.1L126.4 301.3L122.7 298.1L106.8 292.3Z" fill="#ff6205" stroke="#ff6205"/>
<path d="M126.4 301.3L142.2 305.6L139 302.7L122.7 298.1Z" fill="#ff6305" stroke="#ff6305"/>
<path d="M142.2 305.6L158 309.3L155.5 306.7L139 302.7Z" fill="#ff6406" stroke="#ff6406"/>
<path d="M158 309.3L173.9 312.7L172 310.3L155.5 306.7Z" fill="#ff6406" stroke="#ff6406"/>
<path d="M173.9 312.7L189.9 315.9L188.6 313.6L172 310.3Z" fill="#ff6506" stroke="#ff6506"/>
<path d="M189.9 315.9L205.9 318.9L205.3 316.6L188.6 313.6Z" fill="#ff6506" stroke="#ff6506"/>
<path d="M205.9 318.9L221.9 321.7L222 319.4L205.3 316.6Z" fill="#ff6506" stroke="#ff6506"/>
<path d="M221.9 321.7L238 324.2L238.8 322L222 319.4Z" fill="#ff6506" stroke="#ff6506"/>
<path d="M238 324.2L254.1 326.5L255.5 324.2L238.8 322Z" fill="#ff6505" stroke="#ff6505"/>
<path d="M254.1 326.5L270.3 328.4L272.4 326L255.5 324.2Z" fill="#ff6505" stroke="#ff6505"/>
<path d="M270.3 328.4L286.5 329.8L289.3 327.1L272.4 326Z" fill="#ff6505" stroke="#ff6505"/>
<path d="M286.5 329.8L302.8 330.6L306.2 327.3L289.3 327.1Z" fill="#ff6505" stroke="#ff6505"/>
<path d="M106.8 292.3L122.7 298.1L118.4 294.6L102 288.1Z" fill="#ff6705" stroke="#ff6705"/>
<path d="M122.7 298.1L139 302.7L135.3 299.7L118.4 294.6Z" fill="#ff6805" stroke="#ff6805"/>
<path d="M139 302.7L155.5 306.7L152.5 304.1L135.3 299.7Z" fill="#ff6906" stroke="#ff6906"/>
<path d="M155.5 306.7L172 310.3L169.8 307.8L152.5 304.1Z" fill="#ff6a06" stroke="#ff6a06"/>
<path d="M172 310.3L188.6 313.6L187.1 311.2L169.8 307.8Z" fill="#ff6b06" stroke="#ff6b06"/>
<path d="M188.6 313.6L205.3 316.6L204.5 314.3L187.1 311.2Z" fill="#ff6b06" stroke="#ff6b06"/>
<path d="M205.3 316.6L222 319.4L222 317.2L204.5 314.3Z" fill="#ff6b06" stroke="#ff6b06"/>
<path d="M222 319.4L238.8 322L239.5 319.7L222 317.2Z" fill="#ff6b06" stroke="#ff6b06"/>
<path d="M238.8 322L255.5 324.2L257 321.9L239.5 319.7Z" fill="#ff6b06" stroke="#ff6b06"/>
<path d="M255.5 324.2L272.4 326L274.6 323.4L257 321.9Z" fill="#ff6b05" stroke="#ff6b05"/>
<path d="M272.4 326L289.3 327.1L292.3 324.2L274.6 323.4Z" fill="#ff6b05" stroke="#ff6b05"/>
<path d="M289.3 327.1L306.2 327.3L310 323.9L292.3 324.2Z" fill="#ff6b05" stroke="#ff6b05"/>
<path d="M102 288.1L118.4 294.6L113.1 290.6L96.1 283.1Z" fill="#ff6c05" stroke="#ff6c05"/>
<path d="M118.4 294.6L135.3 299.7L130.7 296.4L113.1 290.6Z" fill="#ff6e05" stroke="#ff6e05"/>
<path d="M135.3 299.7L152.5 304.1L148.6 301.1L130.7 296.4Z" fill="#ff6f06" stroke="#ff6f06"/>
<path d="M152.5 304.1L169.8 307.8L166.8 305.2L148.6 301.1Z" fill="#ff7006" stroke="#ff7006"/>
<path d="M169.8 307.8L187.1 311.2L185 308.8L166.8 305.2Z" fill="#ff7106" stroke="#ff7106"/>
<path d="M187.1 311.2L204.5 314.3L203.3 312L185 308.8Z" fill="#ff7206" stroke="#ff7206"/>
<path d="M204.5 314.3L222 317.2L221.6 314.9L203.3 312Z" fill="#ff7206" stroke="#ff7206"/>
<path d="M222 317.2L239.5 319.7L240 317.4L221.6 314.9Z" fill="#ff7206" stroke="#ff7206"/>
<path d="M239.5 319.7L257 321.9L258.4 319.5L240 317.4Z" fill="#ff7206" stroke="#ff7206"/>
<path d="M257 321.9L274.6 323.4L277 320.8L258.4 319.5Z" fill="#ff7206" stroke="#ff7206"/>
<path d="M274.6 323.4L292.3 324.2L295.5 321.2L277 320.8Z" fill="#ff7205" stroke="#ff7205"/>
<path d="M292.3 324.2L310 323.9L314 320.2L295.5 321.2Z" fill="#ff7205" stroke="#ff7205"/>
<path d="M96.1 283.1L113.1 290.6L105 285.1L87.6 275.9Z" fill="#ff7005" stroke="#ff7005"/>
<path d="M113.1 290.6L130.7 296.4L123.5 292.2L105 285.1Z" fill="#ff7305" stroke="#ff7305"/>
<path d="M130.7 296.4L148.6 301.1L142.5 297.6L123.5 292.2Z" fill="#ff7506" stroke="#ff7506"/>
<path d="M148.6 301.1L166.8 305.2L161.8 302.1L142.5 297.6Z" fill="#ff7606" stroke="#ff7606"/>
<path d="M166.8 305.2L185 308.8L181.1 306L161.8 302.1Z" fill="#ff7706" stroke="#ff7706"/>
<path d="M185 308.8L203.3 312L200.6 309.4L181.1 306Z" fill="#ff7806" stroke="#ff7806"/>
<path d="M203.3 312L221.6 314.9L220.2 312.5L200.6 309.4Z" fill="#ff7806" stroke="#ff7806"/>
<path d="M221.6 314.9L240 317.4L239.8 315L220.2 312.5Z" fill="#ff7806" stroke="#ff7806"/>
<path d="M240 317.4L258.4 319.5L259.4 317L239.8 315Z" fill="#ff7806" stroke="#ff7806"/>
<path d="M258.4 319.5L277 320.8L279.2 318.1L259.4 317Z" fill="#ff7806" stroke="#ff7806"/>
<path d="M277 320.8L295.5 321.2L298.9 318L279.2 318.1Z" fill="#ff7806" stroke="#ff7806"/>
<path d="M295.5 321.2L314 320.2L318.6 316.1L298.9 318Z" fill="#ff7805" stroke="#ff7805"/>
<path d="M87.6 275.9L105 285.1L91.3 275.8L73.3 263.7L72.8 264.2Z" fill="#ff7404" stroke="#ff7404"/>
<path d="M105 285.1L123.5 292.2L110.7 285.4L91.3 275.8Z" fill="#ff7805" stroke="#ff7805"/>
<path d="M123.5 292.2L142.5 297.6L131.1 292.5L110.7 285.4Z" fill="#ff7b05" stroke="#ff7b05"/>
<path d="M142.5 297.6L161.8 302.1L152.1 298L131.1 292.5Z" fill="#ff7c06" stroke="#ff7c06"/>
<path d="M161.8 302.1L181.1 306L173.3 302.5L152.1 298Z" fill="#ff7e06" stroke="#ff7e06"/>
<path d="M181.1 306L200.6 309.4L194.6 306.3L173.3 302.5Z" fill="#ff7f06" stroke="#ff7f06"/>
<path d="M200.6 309.4L220.2 312.5L216 309.6L194.6 306.3Z" fill="#ff7f06" stroke="#ff7f06"/>
<path d="M220.2 312.5L239.8 315L237.5 312.4L216 309.6Z" fill="#ff7f06" stroke="#ff7f06"/>
<path d="M239.8 315L259.4 317L259.1 314.4L237.5 312.4Z" fill="#ff8006" stroke="#ff8006"/>
<path d="M259.4 317L279.2 318.1L280.8 315.3L259.1 314.4Z" fill="#ff8006" stroke="#ff8006"/>
<path d="M279.2 318.1L298.9 318L302.4 314.5L280.8 315.3Z" fill="#ff8006" stroke="#ff8006"/>
<path d="M298.9 318L318.6 316.1L323.8 311.5L302.4 314.5Z" fill="#ff8005" stroke="#ff8005"/>
<path d="M73.3 263.7L91.3 275.8L93 274.5L74.6 262.2Z" fill="#ff7704" stroke="#ff7704"/>
<path d="M91.3 275.8L110.7 285.4L112.8 284.1L93 274.5Z" fill="#ff7c05" stroke="#ff7c05"/>
<path d="M110.7 285.4L131.1 292.5L133.7 291.2L112.8 284.1Z" fill="#ff8005" stroke="#ff8005"/>
<path d="M131.1 292.5L152.1 298L155.1 296.7L133.7 291.2Z" fill="#ff8206" stroke="#ff8206"/>
<path d="M152.1 298L173.3 302.5L176.8 301.1L155.1 296.7Z" fill="#ff8406" stroke="#ff8406"/>
<path d="M173.3 302.5L194.6 306.3L198.5 304.8L176.8 301.1Z" fill="#ff8606" stroke="#ff8606"/>
<path d="M194.6 306.3L216 309.6L220.4 308L198.5 304.8Z" fill="#ff8706" stroke="#ff8706"/>
<path d="M216 309.6L237.5 312.4L242.3 310.6L220.4 308Z" fill="#ff8706" stroke="#ff8706"/>
<path d="M237.5 312.4L259.1 314.4L264.4 312.1L242.3 310.6Z" fill="#ff8706" stroke="#ff8706"/>
<path d="M259.1 314.4L280.8 315.3L286.4 312.3L264.4 312.1Z" fill="#ff8706" stroke="#ff8706"/>
<path d="M280.8 315.3L302.4 314.5L308.5 310.6L286.4 312.3Z" fill="#ff8706" stroke="#ff8706"/>
<path d="M302.4 314.5L323.8 311.5L330.1 306.1L308.5 310.6Z" fill="#ff8705" stroke="#ff8705"/>
<path d="M74.6 262.2L93 274.5L94.8 273.2L76 260.7Z" fill="#ff7d04" stroke="#ff7d04"/>
<path d="M93 274.5L112.8 284.1L115.3 283L94.8 273.2Z" fill="#ff8205" stroke="#ff8205"/>
<path d="M112.8 284.1L133.7 291.2L136.8 290.1L115.3 283Z" fill="#ff8705" stroke="#ff8705"/>
<path d="M133.7 291.2L155.1 296.7L158.8 295.5L136.8 290.1Z" fill="#ff8906" stroke="#ff8906"/>
<path d="M155.1 296.7L176.8 301.1L181.1 299.8L158.8 295.5Z" fill="#ff8b06" stroke="#ff8b06"/>
<path d="M176.8 301.1L198.5 304.8L203.4 303.5L181.1 299.8Z" fill="#ff8d06" stroke="#ff8d06"/>
<path d="M198.5 304.8L220.4 308L225.9 306.5L203.4 303.5Z" fill="#ff8e06" stroke="#ff8e06"/>
<path d="M220.4 308L242.3 310.6L248.5 308.7L225.9 306.5Z" fill="#ff8e06" stroke="#ff8e06"/>
<path d="M242.3 310.6L264.4 312.1L271.1 309.7L248.5 308.7Z" fill="#ff8f06" stroke="#ff8f06"/>
<path d="M264.4 312.1L286.4 312.3L293.7 308.9L271.1 309.7Z" fill="#ff8f06" stroke="#ff8f06"/>
<path d="M286.4 312.3L308.5 310.6L316.2 305.7L293.7 308.9Z" fill="#ff8f06" stroke="#ff8f06"/>
<path d="M308.5 310.6L330.1 306.1L337.9 299.4L316.2 305.7Z" fill="#ff8f05" stroke="#ff8f05"/>
<path d="M76 260.7L94.8 273.2L97 272.1L77.3 259.2Z" fill="#ff8304" stroke="#ff8304"/>
<path d="M94.8 273.2L115.3 283L118.3 282L97 272.1Z" fill="#ff8905" stroke="#ff8905"/>
<path d="M115.3 283L136.8 290.1L140.8 289.1L118.3 282Z" fill="#ff8e05" stroke="#ff8e05"/>
<path d="M136.8 290.1L158.8 295.5L163.8 294.5L140.8 289.1Z" fill="#ff9106" stroke="#ff9106"/>
<path d="M158.8 295.5L181.1 299.8L186.9 298.8L163.8 294.5Z" fill="#ff9306" stroke="#ff9306"/>
<path d="M181.1 299.8L203.4 303.5L210.3 302.3L186.9 298.8Z" fill="#ff9506" stroke="#ff9506"/>
<path d="M203.4 303.5L225.9 306.5L233.7 305L210.3 302.3Z" fill="#ff9606" stroke="#ff9606"/>
<path d="M225.9 306.5L248.5 308.7L257.2 306.7L233.7 305Z" fill="#ff9606" stroke="#ff9606"/>
<path d="M248.5 308.7L271.1 309.7L280.8 306.7L257.2 306.7Z" fill="#ff9606" stroke="#ff9606"/>
<path d="M271.1 309.7L293.7 308.9L304.2 304.5L280.8 306.7Z" fill="#ff9706" stroke="#ff9706"/>
<path d="M293.7 308.9L316.2 305.7L327.1 299.1L304.2 304.5Z" fill="#ff9706" stroke="#ff9706"/>
<path d="M316.2 305.7L337.9 299.4L349 290.2L327.1 299.1Z" fill="#ff9605" stroke="#ff9605"/>
<path d="M77.3 259.2L97 272.1L99.9 271.5L78.5 257.7Z" fill="#ff8904" stroke="#ff8904"/>
<path d="M97 272.1L118.3 282L123.3 281.7L99.9 271.5Z" fill="#ff9005" stroke="#ff9005"/>
<path d="M118.3 282L140.8 289.1L147.7 288.9L123.3 281.7Z" fill="#ff9506" stroke="#ff9506"/>
<path d="M140.8 289.1L163.8 294.5L172.7 294.2L147.7 288.9Z" fill="#ff9806" stroke="#ff9806"/>
<path d="M163.8 294.5L186.9 298.8L197.8 298.4L172.7 294.2Z" fill="#ff9b06" stroke="#ff9b06"/>
<path d="M186.9 298.8L210.3 302.3L223.1 301.7L197.8 298.4Z" fill="#ff9e06" stroke="#ff9e06"/>
<path d="M210.3 302.3L233.7 305L248.5 303.8L223.1 301.7Z" fill="#ff9e06" stroke="#ff9e06"/>
<path d="M233.7 305L257.2 306.7L274 304.2L248.5 303.8Z" fill="#ff9f06" stroke="#ff9f06"/>
<path d="M257.2 306.7L280.8 306.7L299.4 302L274 304.2Z" fill="#ff9f06" stroke="#ff9f06"/>
<path d="M280.8 306.7L304.2 304.5L324.2 296.2L299.4 302Z" fill="#ffa006" stroke="#ffa006"/>
<path d="M304.2 304.5L327.1 299.1L347.7 286.4L324.2 296.2Z" fill="#ff9f06" stroke="#ff9f06"/>
<path d="M327.1 299.1L349 290.2L369.8 273.7L347.7 286.4Z" fill="#ff9f05" stroke="#ff9f05"/>
<path d="M78.5 257.7L99.9 271.5L102.4 270.6L79.8 256.1Z" fill="#ff8f04" stroke="#ff8f04"/>
<path d="M99.9 271.5L123.3 281.7L127.2 281L102.4 270.6Z" fill="#ff9705" stroke="#ff9705"/>
<path d="M123.3 281.7L147.7 288.9L153.1 288.2L127.2 281Z" fill="#ff9d06" stroke="#ff9d06"/>
<path d="M147.7 288.9L172.7 294.2L179.4 293.4L153.1 288.2Z" fill="#ffa106" stroke="#ffa106"/>
<path d="M172.7 294.2L197.8 298.4L206 297.4L179.4 293.4Z" fill="#ffa406" stroke="#ffa406"/>
<path d="M197.8 298.4L223.1 301.7L232.7 300.3L206 297.4Z" fill="#ffa606" stroke="#ffa606"/>
<path d="M223.1 301.7L248.5 303.8L259.6 301.6L232.7 300.3Z" fill="#ffa706" stroke="#ffa706"/>
<path d="M248.5 303.8L274 304.2L286.4 300.5L259.6 301.6Z" fill="#ffa706" stroke="#ffa706"/>
<path d="M274 304.2L299.4 302L312.8 295.8L286.4 300.5Z" fill="#ffa806" stroke="#ffa806"/>
<path d="M299.4 302L324.2 296.2L338.1 286.8L312.8 295.8Z" fill="#ffa706" stroke="#ffa706"/>
<path d="M324.2 296.2L347.7 286.4L361.8 274L338.1 286.8Z" fill="#ffa605" stroke="#ffa605"/>
<path d="M347.7 286.4L369.8 273.7L386.3 260.9L384.2 259.2L361.8 274Z" fill="#ffa605" stroke="#ffa605"/>
<path d="M79.8 256.1L102.4 270.6L103.4 268.8L81 254.6Z" fill="#ff9504" stroke="#ff9504"/>
<path d="M102.4 270.6L127.2 281L127.8 279.1L103.4 268.8Z" fill="#ff9e05" stroke="#ff9e05"/>
<path d="M127.2 281L153.1 288.2L153.3 286.2L127.8 279.1Z" fill="#ffa406" stroke="#ffa406"/>
<path d="M153.1 288.2L179.4 293.4L179.3 291.3L153.3 286.2Z" fill="#ffa806" stroke="#ffa806"/>
<path d="M179.4 293.4L206 297.4L205.5 295.2L179.3 291.3Z" fill="#ffac06" stroke="#ffac06"/>
<path d="M206 297.4L232.7 300.3L231.8 297.9L205.5 295.2Z" fill="#ffaf06" stroke="#ffaf06"/>
<path d="M232.7 300.3L259.6 301.6L258.3 299L231.8 297.9Z" fill="#ffaf06" stroke="#ffaf06"/>
<path d="M259.6 301.6L286.4 300.5L284.8 297.7L258.3 299Z" fill="#ffaf06" stroke="#ffaf06"/>
<path d="M286.4 300.5L312.8 295.8L310.8 292.9L284.8 297.7Z" fill="#ffaf06" stroke="#ffaf06"/>
<path d="M312.8 295.8L338.1 286.8L335.7 283.8L310.8 292.9Z" fill="#ffaf06" stroke="#ffaf06"/>
<path d="M338.1 286.8L361.8 274L359 271.2L335.7 283.8Z" fill="#ffae06" stroke="#ffae06"/>
<path d="M361.8 274L384.2 259.2L381.1 256.6L359 271.2Z" fill="#ffad05" stroke="#ffad05"/>
<path d="M81 254.6L103.4 268.8L104.3 267.1L82.2 253.1Z" fill="#ff9b04" stroke="#ff9b04"/>
<path d="M103.4 268.8L127.8 279.1L128.3 277.2L104.3 267.1Z" fill="#ffa405" stroke="#ffa405"/>
<path d="M127.8 279.1L153.3 286.2L153.5 284.2L128.3 277.2Z" fill="#ffab06" stroke="#ffab06"/>
<path d="M153.3 286.2L179.3 291.3L179.1 289.3L153.5 284.2Z" fill="#ffb006" stroke="#ffb006"/>
<path d="M179.3 291.3L205.5 295.2L205 293L179.1 289.3Z" fill="#ffb406" stroke="#ffb406"/>
<path d="M205.5 295.2L231.8 297.9L231 295.6L205 293Z" fill="#ffb706" stroke="#ffb706"/>
<path d="M231.8 297.9L258.3 299L257.1 296.5L231 295.6Z" fill="#ffb806" stroke="#ffb806"/>
<path d="M258.3 299L284.8 297.7L283.2 295L257.1 296.5Z" fill="#ffb806" stroke="#ffb806"/>
<path d="M284.8 297.7L310.8 292.9L308.8 290L283.2 295Z" fill="#ffb806" stroke="#ffb806"/>
<path d="M310.8 292.9L335.7 283.8L333.3 280.9L308.8 290Z" fill="#ffb706" stroke="#ffb706"/>
<path d="M335.7 283.8L359 271.2L356.3 268.4L333.3 280.9Z" fill="#ffb706" stroke="#ffb706"/>
<path d="M359 271.2L381.1 256.6L378.1 254L356.3 268.4Z" fill="#ffb605" stroke="#ffb605"/>
<path d="M82.2 253.1L104.3 267.1L105.2 265.3L83.4 251.5Z" fill="#ffa104" stroke="#ffa104"/>
<path d="M104.3 267.1L128.3 277.2L128.9 275.4L105.2 265.3Z" fill="#ffab05" stroke="#ffab05"/>
<path d="M128.3 277.2L153.5 284.2L153.7 282.3L128.9 275.4Z" fill="#ffb206" stroke="#ffb206"/>
<path d="M153.5 284.2L179.1 289.3L179 287.2L153.7 282.3Z" fill="#ffb806" stroke="#ffb806"/>
<path d="M179.1 289.3L205 293L204.5 290.8L179 287.2Z" fill="#ffbc06" stroke="#ffbc06"/>
<path d="M205 293L231 295.6L230.2 293.2L204.5 290.8Z" fill="#ffc006" stroke="#ffc006"/>
<path d="M231 295.6L257.1 296.5L256 293.9L230.2 293.2Z" fill="#ffc107" stroke="#ffc107"/>
<path d="M257.1 296.5L283.2 295L281.7 292.2L256 293.9Z" fill="#ffc106" stroke="#ffc106"/>
<path d="M283.2 295L308.8 290L306.9 287.1L281.7 292.2Z" fill="#ffc106" stroke="#ffc106"/>
<path d="M308.8 290L333.3 280.9L331 278L306.9 287.1Z" fill="#ffc006" stroke="#ffc006"/>
<path d="M333.3 280.9L356.3 268.4L353.7 265.7L331 278Z" fill="#ffbf06" stroke="#ffbf06"/>
<path d="M356.3 268.4L378.1 254L375.2 251.5L353.7 265.7Z" fill="#ffbf06" stroke="#ffbf06"/>
<path d="M83.4 251.5L105.2 265.3L106.1 263.5L84.6 249.9Z" fill="#fca604" stroke="#fca604"/>
<path d="M105.2 265.3L128.9 275.4L129.4 273.5L106.1 263.5Z" fill="#ffb105" stroke="#ffb105"/>
<path d="M128.9 275.4L153.7 282.3L153.9 280.3L129.4 273.5Z" fill="#ffba06" stroke="#ffba06"/>
<path d="M153.7 282.3L179 287.2L178.9 285.2L153.9 280.3Z" fill="#ffbf06" stroke="#ffbf06"/>
<path d="M179 287.2L204.5 290.8L204.1 288.7L178.9 285.2Z" fill="#ffc406" stroke="#ffc406"/>
<path d="M204.5 290.8L230.2 293.2L229.5 290.9L204.1 288.7Z" fill="#ffc907" stroke="#ffc907"/>
<path d="M230.2 293.2L256 293.9L254.9 291.4L229.5 290.9Z" fill="#ffca07" stroke="#ffca07"/>
<path d="M256 293.9L281.7 292.2L280.2 289.5L254.9 291.4Z" fill="#ffca07" stroke="#ffca07"/>
<path d="M281.7 292.2L306.9 287.1L305.1 284.3L280.2 289.5Z" fill="#ffca06" stroke="#ffca06"/>
<path d="M306.9 287.1L331 278L328.8 275.2L305.1 284.3Z" fill="#ffc906" stroke="#ffc906"/>
<path d="M331 278L353.7 265.7L351.2 263L328.8 275.2Z" fill="#ffc806" stroke="#ffc806"/>
<path d="M353.7 265.7L375.2 251.5L372.5 249.1L351.2 263Z" fill="#ffc806" stroke="#ffc806"/>
<path d="M84.6 249.9L106.1 263.5L106.9 261.8L85.7 248.4Z" fill="#faac04" stroke="#faac04"/>
<path d="M106.1 263.5L129.4 273.5L130 271.6L106.9 261.8Z" fill="#ffb805" stroke="#ffb805"/>
<path d="M129.4 273.5L153.9 280.3L154.2 278.3L130 271.6Z" fill="#ffc106" stroke="#ffc106"/>
<path d="M153.9 280.3L178.9 285.2L178.8 283.1L154.2 278.3Z" fill="#ffc706" stroke="#ffc706"/>
<path d="M178.9 285.2L204.1 288.7L203.7 286.5L178.8 283.1Z" fill="#ffcd06" stroke="#ffcd06"/>
<path d="M204.1 288.7L229.5 290.9L228.7 288.6L203.7 286.5Z" fill="#ffd307" stroke="#ffd307"/>
<path d="M229.5 290.9L254.9 291.4L253.8 288.9L228.7 288.6Z" fill="#ffd307" stroke="#ffd307"/>
<path d="M254.9 291.4L280.2 289.5L278.9 286.9L253.8 288.9Z" fill="#ffd307" stroke="#ffd307"/>
<path d="M280.2 289.5L305.1 284.3L303.4 281.5L278.9 286.9Z" fill="#ffd306" stroke="#ffd306"/>
<path d="M305.1 284.3L328.8 275.2L326.7 272.4L303.4 281.5Z" fill="#ffd306" stroke="#ffd306"/>
<path d="M328.8 275.2L351.2 263L348.8 260.3L326.7 272.4Z" fill="#ffd206" stroke="#ffd206"/>
<path d="M351.2 263L372.5 249.1L369.8 246.7L348.8 260.3Z" fill="#ffd106" stroke="#ffd106"/>
<path d="M85.7 248.4L106.9 261.8L107.8 260L86.8 246.8Z" fill="#f7b204" stroke="#f7b204"/>
<path d="M106.9 261.8L130 271.6L130.6 269.7L107.8 260Z" fill="#ffbe05" stroke="#ffbe05"/>
<path d="M130 271.6L154.2 278.3L154.4 276.4L130.6 269.7Z" fill="#ffc806" stroke="#ffc806"/>
<path d="M154.2 278.3L178.8 283.1L178.8 281L154.4 276.4Z" fill="#ffcf06" stroke="#ffcf06"/>
<path d="M178.8 283.1L203.7 286.5L203.3 284.3L178.8 281Z" fill="#ffd506" stroke="#ffd506"/>
<path d="M203.7 286.5L228.7 288.6L228.1 286.2L203.3 284.3Z" fill="#ffdc07" stroke="#ffdc07"/>
<path d="M228.7 288.6L253.8 288.9L252.8 286.5L228.1 286.2Z" fill="#ffdc07" stroke="#ffdc07"/>
<path d="M253.8 288.9L278.9 286.9L277.5 284.2L252.8 286.5Z" fill="#ffdd07" stroke="#ffdd07"/>
<path d="M278.9 286.9L303.4 281.5L301.7 278.7L277.5 284.2Z" fill="#ffdd07" stroke="#ffdd07"/>
<path d="M303.4 281.5L326.7 272.4L324.7 269.6L301.7 278.7Z" fill="#ffdc06" stroke="#ffdc06"/>
<path d="M326.7 272.4L348.8 260.3L346.4 257.7L324.7 269.6Z" fill="#ffdb06" stroke="#ffdb06"/>
<path d="M348.8 260.3L369.8 246.7L367.3 244.3L346.4 257.7Z" fill="#ffda06" stroke="#ffda06"/>
<path d="M86.8 246.8L107.8 260L108.6 258.2L87.9 245.2Z" fill="#f5b804" stroke="#f5b804"/>
<path d="M107.8 260L130.6 269.7L131.1 267.8L108.6 258.2Z" fill="#ffc505" stroke="#ffc505"/>
<path d="M130.6 269.7L154.4 276.4L154.7 274.4L131.1 267.8Z" fill="#ffcf06" stroke="#ffcf06"/>
<path d="M154.4 276.4L178.8 281L178.7 279L154.7 274.4Z" fill="#ffd706" stroke="#ffd706"/>
<path d="M178.8 281L203.3 284.3L203 282.1L178.7 279Z" fill="#ffde06" stroke="#ffde06"/>
<path d="M203.3 284.3L228.1 286.2L227.4 283.9L203 282.1Z" fill="#ffe507" stroke="#ffe507"/>
<path d="M228.1 286.2L252.8 286.5L251.9 284L227.4 283.9Z" fill="#ffe607" stroke="#ffe607"/>
<path d="M252.8 286.5L277.5 284.2L276.2 281.6L251.9 284Z" fill="#ffe707" stroke="#ffe707"/>
<path d="M277.5 284.2L301.7 278.7L300 276L276.2 281.6Z" fill="#ffe607" stroke="#ffe607"/>
<path d="M301.7 278.7L324.7 269.6L322.7 266.9L300 276Z" fill="#ffe606" stroke="#ffe606"/>
<path d="M324.7 269.6L346.4 257.7L344.2 255.2L322.7 266.9Z" fill="#ffe506" stroke="#ffe506"/>
<path d="M346.4 257.7L367.3 244.3L364.8 241.9L344.2 255.2Z" fill="#ffe406" stroke="#ffe406"/>
<path d="M87.9 245.2L108.6 258.2L109.5 256.4L89 243.6Z" fill="#f2be04" stroke="#f2be04"/>
<path d="M108.6 258.2L131.1 267.8L131.7 265.9L109.5 256.4Z" fill="#ffcb05" stroke="#ffcb05"/>
<path d="M131.1 267.8L154.7 274.4L154.9 272.4L131.7 265.9Z" fill="#ffd705" stroke="#ffd705"/>
<path d="M154.7 274.4L178.7 279L178.7 276.9L154.9 272.4Z" fill="#ffdf06" stroke="#ffdf06"/>
<path d="M178.7 279L203 282.1L202.7 280L178.7 276.9Z" fill="#ffe706" stroke="#ffe706"/>
<path d="M203 282.1L227.4 283.9L226.8 281.6L202.7 280Z" fill="#ffef07" stroke="#ffef07"/>
<path d="M227.4 283.9L251.9 284L251 281.6L226.8 281.6Z" fill="#fff007" stroke="#fff007"/>
<path d="M251.9 284L276.2 281.6L275 279L251 281.6Z" fill="#fff007" stroke="#fff007"/>
<path d="M276.2 281.6L300 276L298.5 273.3L275 279Z" fill="#fff007" stroke="#fff007"/>
<path d="M300 276L322.7 266.9L320.8 264.3L298.5 273.3Z" fill="#fff006" stroke="#fff006"/>
<path d="M322.7 266.9L344.2 255.2L342 252.7L320.8 264.3Z" fill="#ffef06" stroke="#ffef06"/>
<path d="M344.2 255.2L364.8 241.9L362.4 239.6L342 252.7Z" fill="#ffee06" stroke="#ffee06"/>
<path d="M89 243.6L109.5 256.4L110.3 254.7L90.1 242Z" fill="#f0c404" stroke="#f0c404"/>
<path d="M109.5 256.4L131.7 265.9L132.2 264.1L110.3 254.7Z" fill="#ffd205" stroke="#ffd205"/>
<path d="M131.7 265.9L154.9 272.4L155.2 270.5L132.2 264.1Z" fill="#ffde05" stroke="#ffde05"/>
<path d="M154.9 272.4L178.7 276.9L178.7 274.9L155.2 270.5Z" fill="#ffe706" stroke="#ffe706"/>
<path d="M178.7 276.9L202.7 280L202.4 277.8L178.7 274.9Z" fill="#fff006" stroke="#fff006"/>
<path d="M202.7 280L226.8 281.6L226.2 279.4L202.4 277.8Z" fill="#fff807" stroke="#fff807"/>
<path d="M226.8 281.6L251 281.6L250.1 279.1L226.2 279.4Z" fill="#fffa07" stroke="#fffa07"/>
<path d="M251 281.6L275 279L273.8 276.5L250.1 279.1Z" fill="#fffb07" stroke="#fffb07"/>
<path d="M275 279L298.5 273.3L296.9 270.7L273.8 276.5Z" fill="#fffa07" stroke="#fffa07"/>
<path d="M298.5 273.3L320.8 264.3L319 261.6L296.9 270.7Z" fill="#fffa07" stroke="#fffa07"/>
<path d="M320.8 264.3L342 252.7L340 250.2L319 261.6Z" fill="#fff906" stroke="#fff906"/>
<path d="M342 252.7L362.4 239.6L360.1 237.3L340 250.2Z" fill="#fff806" stroke="#fff806"/>
<path d="M90.1 242L110.3 254.7L111.1 252.9L91.1 240.4Z" fill="#edca04" stroke="#edca04"/>
<path d="M110.3 254.7L132.2 264.1L132.8 262.2L111.1 252.9Z" fill="#fed905" stroke="#fed905"/>
<path d="M132.2 264.1L155.2 270.5L155.5 268.5L132.8 262.2Z" fill="#ffe605" stroke="#ffe605"/>
<path d="M155.2 270.5L178.7 274.9L178.7 272.8L155.5 268.5Z" fill="#fff006" stroke="#fff006"/>
<path d="M178.7 274.9L202.4 277.8L202.1 275.7L178.7 272.8Z" fill="#fff906" stroke="#fff906"/>
<path d="M202.4 277.8L226.2 279.4L225.6 277.1L202.1 275.7Z" fill="#ffff07" stroke="#ffff07"/>
<path d="M226.2 279.4L250.1 279.1L249.2 276.7L225.6 277.1Z" fill="#ffff07" stroke="#ffff07"/>
<path d="M250.1 279.1L273.8 276.5L272.6 273.9L249.2 276.7Z" fill="#ffff07" stroke="#ffff07"/>
<path d="M273.8 276.5L296.9 270.7L295.5 268L272.6 273.9Z" fill="#ffff07" stroke="#ffff07"/>
<path d="M296.9 270.7L319 261.6L317.3 259.1L295.5 268Z" fill="#ffff07" stroke="#ffff07"/>
<path d="M319 261.6L340 250.2L337.9 247.7L317.3 259.1Z" fill="#ffff06" stroke="#ffff06"/>
<path d="M340 250.2L360.1 237.3L357.9 235L337.9 247.7Z" fill="#ffff06" stroke="#ffff06"/>
<path d="M91.1 240.4L111.1 252.9L111.9 251.1L92.1 238.8Z" fill="#ebd004" stroke="#ebd004"/>
<path d="M111.1 252.9L132.8 262.2L133.3 260.3L111.9 251.1Z" fill="#fcdf04" stroke="#fcdf04"/>
<path d="M132.8 262.2L155.5 268.5L155.7 266.5L133.3 260.3Z" fill="#ffed05" stroke="#ffed05"/>
<path d="M155.5 268.5L178.7 272.8L178.7 270.8L155.7 266.5Z" fill="#fff806" stroke="#fff806"/>
<path d="M178.7 272.8L202.1 275.7L201.8 273.5L178.7 270.8Z" fill="#ffff06" stroke="#ffff06"/>
<path d="M202.1 275.7L225.6 277.1L225.1 274.8L201.8 273.5Z" fill="#ffff07" stroke="#ffff07"/>
<path d="M225.6 277.1L249.2 276.7L248.4 274.3L225.1 274.8Z" fill="#ffff07" stroke="#ffff07"/>
<path d="M249.2 276.7L272.6 273.9L271.5 271.4L248.4 274.3Z" fill="#ffff07" stroke="#ffff07"/>
<path d="M272.6 273.9L295.5 268L294.1 265.5L271.5 271.4Z" fill="#ffff07" stroke="#ffff07"/>
<path d="M295.5 268L317.3 259.1L315.6 256.5L294.1 265.5Z" fill="#ffff07" stroke="#ffff07"/>
<path d="M317.3 259.1L337.9 247.7L336 245.3L315.6 256.5Z" fill="#ffff07" stroke="#ffff07"/>
<path d="M337.9 247.7L357.9 235L355.7 232.8L336 245.3Z" fill="#ffff06" stroke="#ffff06"/>
<path d="M92.1 238.8L111.9 251.1L112.7 249.3L93.1 237.1Z" fill="#e9d504" stroke="#e9d504"/>
<path d="M111.9 251.1L133.3 260.3L133.8 258.4L112.7 249.3Z" fill="#f9e604" stroke="#f9e604"/>
<path d="M133.3 260.3L155.7 266.5L156 264.6L133.8 258.4Z" fill="#fff505" stroke="#fff505"/>
<path d="M155.7 266.5L178.7 270.8L178.7 268.7L156 264.6Z" fill="#ffff06" stroke="#ffff06"/>
<path d="M178.7 270.8L201.8 273.5L201.6 271.4L178.7 268.7Z" fill="#ffff06" stroke="#ffff06"/>
<path d="M201.8 273.5L225.1 274.8L224.6 272.6L201.6 271.4Z" fill="#ffff07" stroke="#ffff07"/>
<path d="M225.1 274.8L248.4 274.3L247.6 271.9L224.6 272.6Z" fill="#ffff07" stroke="#ffff07"/>
<path d="M248.4 274.3L271.5 271.4L270.4 268.9L247.6 271.9Z" fill="#ffff07" stroke="#ffff07"/>
<path d="M271.5 271.4L294.1 265.5L292.7 262.9L270.4 268.9Z" fill="#ffff07" stroke="#ffff07"/>
<path d="M294.1 265.5L315.6 256.5L313.9 254L292.7 262.9Z" fill="#ffff07" stroke="#ffff07"/>
<path d="M315.6 256.5L336 245.3L334.1 242.9L313.9 254Z" fill="#ffff07" stroke="#ffff07"/>
<path d="M336 245.3L355.7 232.8L353.6 230.6L334.1 242.9Z" fill="#ffff06" stroke="#ffff06"/>
<path d="M93.1 237.1L112.7 249.3L113.5 247.5L94.1 235.5Z" fill="#e6db04" stroke="#e6db04"/>
<path d="M112.7 249.3L133.8 258.4L134.4 256.5L113.5 247.5Z" fill="#f7ed04" stroke="#f7ed04"/>
<path d="M133.8 258.4L156 264.6L156.3 262.6L134.4 256.5Z" fill="#fffc05" stroke="#fffc05"/>
<path d="M156 264.6L178.7 268.7L178.7 266.7L156.3 262.6Z" fill="#ffff06" stroke="#ffff06"/>
<path d="M178.7 268.7L201.6 271.4L201.3 269.2L178.7 266.7Z" fill="#ffff06" stroke="#ffff06"/>
<path d="M201.6 271.4L224.6 272.6L224.1 270.3L201.3 269.2Z" fill="#ffff07" stroke="#ffff07"/>
<path d="M224.6 272.6L247.6 271.9L246.9 269.5L224.1 270.3Z" fill="#ffff07" stroke="#ffff07"/>
<path d="M247.6 271.9L270.4 268.9L269.4 266.4L246.9 269.5Z" fill="#ffff07" stroke="#ffff07"/>
<path d="M270.4 268.9L292.7 262.9L291.4 260.3L269.4 266.4Z" fill="#ffff07" stroke="#ffff07"/>
<path d="M292.7 262.9L313.9 254L312.3 251.5L291.4 260.3Z" fill="#ffff07" stroke="#ffff07"/>
<path d="M313.9 254L334.1 242.9L332.3 240.5L312.3 251.5Z" fill="#ffff07" stroke="#ffff07"/>
<path d="M334.1 242.9L353.6 230.6L351.6 228.4L332.3 240.5Z" fill="#ffff07" stroke="#ffff07"/>
<path d="M94.1 235.5L113.5 247.5L114.2 245.7L95.1 233.9Z" fill="#e4e103" stroke="#e4e103"/>
<path d="M113.5 247.5L134.4 256.5L134.9 254.6L114.2 245.7Z" fill="#f5f304" stroke="#f5f304"/>
<path d="M134.4 256.5L156.3 262.6L156.6 260.6L134.9 254.6Z" fill="#ffff05" stroke="#ffff05"/>
<path d="M156.3 262.6L178.7 266.7L178.7 264.6L156.6 260.6Z" fill="#ffff06" stroke="#ffff06"/>
<path d="M178.7 266.7L201.3 269.2L201.1 267.1L178.7 264.6Z" fill="#ffff06" stroke="#ffff06"/>
<path d="M201.3 269.2L224.1 270.3L223.6 268L201.1 267.1Z" fill="#ffff07" stroke="#ffff07"/>
<path d="M224.1 270.3L246.9 269.5L246.1 267.2L223.6 268Z" fill="#ffff07" stroke="#ffff07"/>
<path d="M246.9 269.5L269.4 266.4L268.4 263.9L246.1 267.2Z" fill="#ffff07" stroke="#ffff07"/>
<path d="M269.4 266.4L291.4 260.3L290.1 257.8L268.4 263.9Z" fill="#ffff07" stroke="#ffff07"/>
<path d="M291.4 260.3L312.3 251.5L310.8 249L290.1 257.8Z" fill="#ffff07" stroke="#ffff07"/>
<path d="M312.3 251.5L332.3 240.5L330.5 238.2L310.8 249Z" fill="#ffff07" stroke="#ffff07"/>
<path d="M332.3 240.5L351.6 228.4L349.6 226.2L330.5 238.2Z" fill="#ffff07" stroke="#ffff07"/>
<path d="M95.1 233.9L114.2 245.7L115 243.9L96 232.2Z" fill="#dce103" stroke="#dce103"/>
<path d="M114.2 245.7L134.9 254.6L135.4 252.7L115 243.9Z" fill="#ecf304" stroke="#ecf304"/>
<path d="M134.9 254.6L156.6 260.6L156.9 258.6L135.4 252.7Z" fill="#ffff05" stroke="#ffff05"/>
<path d="M156.6 260.6L178.7 264.6L178.8 262.6L156.9 258.6Z" fill="#ffff06" stroke="#ffff06"/>
<path d="M178.7 264.6L201.1 267.1L200.9 265L178.8 262.6Z" fill="#ffff06" stroke="#ffff06"/>
<path d="M201.1 267.1L223.6 268L223.2 265.8L200.9 265Z" fill="#ffff07" stroke="#ffff07"/>
<path d="M223.6 268L246.1 267.2L245.4 264.8L223.2 265.8Z" fill="#ffff07" stroke="#ffff07"/>
<path d="M246.1 267.2L268.4 263.9L267.4 261.5L245.4 264.8Z" fill="#ffff07" stroke="#ffff07"/>
<path d="M268.4 263.9L290.1 257.8L288.8 255.3L267.4 261.5Z" fill="#ffff07" stroke="#ffff07"/>
<path d="M290.1 257.8L310.8 249L309.3 246.5L288.8 255.3Z" fill="#ffff07" stroke="#ffff07"/>
<path d="M310.8 249L330.5 238.2L328.8 235.8L309.3 246.5Z" fill="#ffff07" stroke="#ffff07"/>
<path d="M330.5 238.2L349.6 226.2L347.7 224.1L328.8 235.8Z" fill="#ffff07" stroke="#ffff07"/>
<path d="M96 232.2L115 243.9L115.7 242.1L96.9 230.5Z" fill="#d2df03" stroke="#d2df03"/>
<path d="M115 243.9L135.4 252.7L135.9 250.7L115.7 242.1Z" fill="#e1f104" stroke="#e1f104"/>
<path d="M135.4 252.7L156.9 258.6L157.2 256.7L135.9 250.7Z" fill="#f4ff05" stroke="#f4ff05"/>
<path d="M156.9 258.6L178.8 262.6L178.8 260.5L157.2 256.7Z" fill="#ffff06" stroke="#ffff06"/>
<path d="M178.8 262.6L200.9 265L200.7 262.8L178.8 260.5Z" fill="#ffff06" stroke="#ffff06"/>
<path d="M200.9 265L223.2 265.8L222.8 263.6L200.7 262.8Z" fill="#ffff07" stroke="#ffff07"/>
<path d="M223.2 265.8L245.4 264.8L244.8 262.5L222.8 263.6Z" fill="#ffff07" stroke="#ffff07"/>
<path d="M245.4 264.8L267.4 261.5L266.5 259L244.8 262.5Z" fill="#ffff08" stroke="#ffff08"/>
<path d="M267.4 261.5L288.8 255.3L287.6 252.8L266.5 259Z" fill="#ffff07" stroke="#ffff07"/>
<path d="M288.8 255.3L309.3 246.5L307.9 244.1L287.6 252.8Z" fill="#ffff07" stroke="#ffff07"/>
<path d="M309.3 246.5L328.8 235.8L327.2 233.5L307.9 244.1Z" fill="#ffff07" stroke="#ffff07"/>
<path d="M328.8 235.8L347.7 224.1L345.9 221.9L327.2 233.5Z" fill="#ffff07" stroke="#ffff07"/>
<path d="M96.9 230.5L115.7 242.1L116.4 240.3L97.9 228.9Z" fill="#c7dd03" stroke="#c7dd03"/>
<path d="M115.7 242.1L135.9 250.7L136.5 248.8L116.4 240.3Z" fill="#d6ef04" stroke="#d6ef04"/>
<path d="M135.9 250.7L157.2 256.7L157.4 254.7L136.5 248.8Z" fill="#e8ff05" stroke="#e8ff05"/>
<path d="M157.2 256.7L178.8 260.5L178.9 258.5L157.4 254.7Z" fill="#f8ff06" stroke="#f8ff06"/>
<path d="M178.8 260.5L200.7 262.8L200.6 260.7L178.9 258.5Z" fill="#ffff06" stroke="#ffff06"/>
<path d="M200.7 262.8L222.8 263.6L222.4 261.3L200.6 260.7Z" fill="#ffff07" stroke="#ffff07"/>
<path d="M222.8 263.6L244.8 262.5L244.1 260.1L222.4 261.3Z" fill="#ffff07" stroke="#ffff07"/>
<path d="M244.8 262.5L266.5 259L265.6 256.6L244.1 260.1Z" fill="#ffff08" stroke="#ffff08"/>
<path d="M266.5 259L287.6 252.8L286.5 250.4L265.6 256.6Z" fill="#ffff07" stroke="#ffff07"/>
<path d="M287.6 252.8L307.9 244.1L306.5 241.7L286.5 250.4Z" fill="#ffff07" stroke="#ffff07"/>
<path d="M307.9 244.1L327.2 233.5L325.6 231.2L306.5 241.7Z" fill="#ffff07" stroke="#ffff07"/>
<path d="M327.2 233.5L345.9 221.9L344.1 219.8L325.6 231.2Z" fill="#ffff07" stroke="#ffff07"/>
<path d="M97.9 228.9L116.4 240.3L117.2 238.4L98.8 227.2Z" fill="#bddb03" stroke="#bddb03"/>
<path d="M116.4 240.3L136.5 248.8L137 246.9L117.2 238.4Z" fill="#cced04" stroke="#cced04"/>
<path d="M136.5 248.8L157.4 254.7L157.7 252.7L137 246.9Z" fill="#ddff05" stroke="#ddff05"/>
<path d="M157.4 254.7L178.9 258.5L179 256.4L157.7 252.7Z" fill="#ecff06" stroke="#ecff06"/>
<path d="M178.9 258.5L200.6 260.7L200.4 258.5L179 256.4Z" fill="#f9ff06" stroke="#f9ff06"/>
<path d="M200.6 260.7L222.4 261.3L222 259.1L200.4 258.5Z" fill="#ffff07" stroke="#ffff07"/>
<path d="M222.4 261.3L244.1 260.1L243.5 257.8L222 259.1Z" fill="#ffff07" stroke="#ffff07"/>
<path d="M244.1 260.1L265.6 256.6L264.7 254.2L243.5 257.8Z" fill="#ffff08" stroke="#ffff08"/>
<path d="M265.6 256.6L286.5 250.4L285.3 247.9L264.7 254.2Z" fill="#ffff07" stroke="#ffff07"/>
<path d="M286.5 250.4L306.5 241.7L305.1 239.3L285.3 247.9Z" fill="#ffff07" stroke="#ffff07"/>
<path d="M306.5 241.7L325.6 231.2L324 229L305.1 239.3Z" fill="#ffff07" stroke="#ffff07"/>
<path d="M325.6 231.2L344.1 219.8L342.4 217.7L324 229Z" fill="#ffff07" stroke="#ffff07"/>
<path d="M98.8 227.2L117.2 238.4L117.9 236.6L99.7 225.5Z" fill="#b3d903" stroke="#b3d903"/>
<path d="M117.2 238.4L137 246.9L137.5 245L117.9 236.6Z" fill="#c1eb04" stroke="#c1eb04"/>
<path d="M137 246.9L157.7 252.7L158 250.7L137.5 245Z" fill="#d2fe05" stroke="#d2fe05"/>
<path d="M157.7 252.7L179 256.4L179 254.4L158 250.7Z" fill="#e1ff06" stroke="#e1ff06"/>
<path d="M179 256.4L200.4 258.5L200.3 256.4L179 254.4Z" fill="#eeff06" stroke="#eeff06"/>
<path d="M200.4 258.5L222 259.1L221.6 256.9L200.3 256.4Z" fill="#faff07" stroke="#faff07"/>
<path d="M222 259.1L243.5 257.8L242.9 255.5L221.6 256.9Z" fill="#ffff07" stroke="#ffff07"/>
<path d="M243.5 257.8L264.7 254.2L263.9 251.8L242.9 255.5Z" fill="#ffff08" stroke="#ffff08"/>
<path d="M264.7 254.2L285.3 247.9L284.3 245.5L263.9 251.8Z" fill="#ffff08" stroke="#ffff08"/>
<path d="M285.3 247.9L305.1 239.3L303.8 236.9L284.3 245.5Z" fill="#ffff07" stroke="#ffff07"/>
<path d="M305.1 239.3L324 229L322.5 226.7L303.8 236.9Z" fill="#ffff07" stroke="#ffff07"/>
<path d="M324 229L342.4 217.7L340.7 215.6L322.5 226.7Z" fill="#ffff07" stroke="#ffff07"/>
<path d="M99.7 225.5L117.9 236.6L118.6 234.8L100.5 223.8Z" fill="#a9d703" stroke="#a9d703"/>
<path d="M117.9 236.6L137.5 245L138 243.1L118.6 234.8Z" fill="#b6e904" stroke="#b6e904"/>
<path d="M137.5 245L158 250.7L158.3 248.7L138 243.1Z" fill="#c7fd05" stroke="#c7fd05"/>
<path d="M158 250.7L179 254.4L179.1 252.3L158.3 248.7Z" fill="#d5ff06" stroke="#d5ff06"/>
<path d="M179 254.4L200.3 256.4L200.1 254.3L179.1 252.3Z" fill="#e2ff06" stroke="#e2ff06"/>
<path d="M200.3 256.4L221.6 256.9L221.2 254.6L200.1 254.3Z" fill="#eeff07" stroke="#eeff07"/>
<path d="M221.6 256.9L242.9 255.5L242.3 253.1L221.2 254.6Z" fill="#f4ff07" stroke="#f4ff07"/>
<path d="M242.9 255.5L263.9 251.8L263 249.4L242.3 253.1Z" fill="#f4ff08" stroke="#f4ff08"/>
<path d="M263.9 251.8L284.3 245.5L283.2 243.1L263 249.4Z" fill="#f4ff08" stroke="#f4ff08"/>
<path d="M284.3 245.5L303.8 236.9L302.5 234.6L283.2 243.1Z" fill="#f5ff07" stroke="#f5ff07"/>
<path d="M303.8 236.9L322.5 226.7L321 224.5L302.5 234.6Z" fill="#f5ff07" stroke="#f5ff07"/>
<path d="M322.5 226.7L340.7 215.6L339.1 213.5L321 224.5Z" fill="#f6ff07" stroke="#f6ff07"/>
<path d="M100.5 223.8L118.6 234.8L119.3 232.9L101.4 222.1Z" fill="#9fd503" stroke="#9fd503"/>
<path d="M118.6 234.8L138 243.1L138.5 241.1L119.3 232.9Z" fill="#ace704" stroke="#ace704"/>
<path d="M138 243.1L158.3 248.7L158.6 246.7L138.5 241.1Z" fill="#bcfb05" stroke="#bcfb05"/>
<path d="M158.3 248.7L179.1 252.3L179.2 250.2L158.6 246.7Z" fill="#caff06" stroke="#caff06"/>
<path d="M179.1 252.3L200.1 254.3L200 252.1L179.2 250.2Z" fill="#d6ff06" stroke="#d6ff06"/>
<path d="M200.1 254.3L221.2 254.6L220.9 252.4L200 252.1Z" fill="#e2ff07" stroke="#e2ff07"/>
<path d="M221.2 254.6L242.3 253.1L241.7 250.8L220.9 252.4Z" fill="#e8ff07" stroke="#e8ff07"/>
<path d="M242.3 253.1L263 249.4L262.3 247L241.7 250.8Z" fill="#e8ff08" stroke="#e8ff08"/>
<path d="M263 249.4L283.2 243.1L282.2 240.7L262.3 247Z" fill="#e9ff08" stroke="#e9ff08"/>
<path d="M283.2 243.1L302.5 234.6L301.3 232.3L282.2 240.7Z" fill="#e9ff07" stroke="#e9ff07"/>
<path d="M302.5 234.6L321 224.5L319.6 222.3L301.3 232.3Z" fill="#eaff07" stroke="#eaff07"/>
<path d="M321 224.5L339.1 213.5L337.5 211.4L319.6 222.3Z" fill="#eaff07" stroke="#eaff07"/>
<path d="M101.4 222.1L119.3 232.9L120 231.1L102.3 220.4Z" fill="#95d303" stroke="#95d303"/>
<path d="M119.3 232.9L138.5 241.1L139 239.2L120 231.1Z" fill="#a2e504" stroke="#a2e504"/>
<path d="M138.5 241.1L158.6 246.7L158.9 244.7L139 239.2Z" fill="#b1fa05" stroke="#b1fa05"/>
<path d="M158.6 246.7L179.2 250.2L179.3 248.2L158.9 244.7Z" fill="#beff06" stroke="#beff06"/>
<path d="M179.2 250.2L200 252.1L199.9 250L179.3 248.2Z" fill="#caff06" stroke="#caff06"/>
<path d="M200 252.1L220.9 252.4L220.6 250.2L199.9 250Z" fill="#d6ff07" stroke="#d6ff07"/>
<path d="M220.9 252.4L241.7 250.8L241.2 248.5L220.6 250.2Z" fill="#dcff07" stroke="#dcff07"/>
<path d="M241.7 250.8L262.3 247L261.5 244.6L241.2 248.5Z" fill="#dcff08" stroke="#dcff08"/>
<path d="M262.3 247L282.2 240.7L281.2 238.4L261.5 244.6Z" fill="#dcff08" stroke="#dcff08"/>
<path d="M282.2 240.7L301.3 232.3L300.1 230L281.2 238.4Z" fill="#ddff07" stroke="#ddff07"/>
<path d="M301.3 232.3L319.6 222.3L318.2 220.1L300.1 230Z" fill="#ddff07" stroke="#ddff07"/>
<path d="M319.6 222.3L337.5 211.4L335.9 209.4L318.2 220.1Z" fill="#deff07" stroke="#deff07"/>
<path d="M102.3 220.4L120 231.1L120.7 229.3L103.1 218.7Z" fill="#8cd103" stroke="#8cd103"/>
<path d="M120 231.1L139 239.2L139.5 237.3L120.7 229.3Z" fill="#97e404" stroke="#97e404"/>
<path d="M139 239.2L158.9 244.7L159.2 242.7L139.5 237.3Z" fill="#a6f805" stroke="#a6f805"/>
<path d="M158.9 244.7L179.3 248.2L179.4 246.1L159.2 242.7Z" fill="#b3ff06" stroke="#b3ff06"/>
<path d="M179.3 248.2L199.9 250L199.8 247.9L179.4 246.1Z" fill="#bfff06" stroke="#bfff06"/>
<path d="M199.9 250L220.6 250.2L220.3 248L199.8 247.9Z" fill="#caff07" stroke="#caff07"/>
<path d="M220.6 250.2L241.2 248.5L240.6 246.2L220.3 248Z" fill="#d0ff07" stroke="#d0ff07"/>
<path d="M241.2 248.5L261.5 244.6L260.7 242.3L240.6 246.2Z" fill="#d0ff08" stroke="#d0ff08"/>
<path d="M261.5 244.6L281.2 238.4L280.2 236L260.7 242.3Z" fill="#d0ff08" stroke="#d0ff08"/>
<path d="M281.2 238.4L300.1 230L298.9 227.7L280.2 236Z" fill="#d1ff07" stroke="#d1ff07"/>
<path d="M300.1 230L318.2 220.1L316.9 217.9L298.9 227.7Z" fill="#d1ff07" stroke="#d1ff07"/>
<path d="M318.2 220.1L335.9 209.4L334.4 207.3L316.9 217.9Z" fill="#d2ff07" stroke="#d2ff07"/>
<path d="M103.1 218.7L120.7 229.3L121.3 227.4L103.9 217Z" fill="#82cf03" stroke="#82cf03"/>
<path d="M120.7 229.3L139.5 237.3L140 235.3L121.3 227.4Z" fill="#8de204" stroke="#8de204"/>
<path d="M139.5 237.3L159.2 242.7L159.5 240.7L140 235.3Z" fill="#9bf705" stroke="#9bf705"/>
<path d="M159.2 242.7L179.4 246.1L179.5 244L159.5 240.7Z" fill="#a8ff06" stroke="#a8ff06"/>
<path d="M179.4 246.1L199.8 247.9L199.7 245.7L179.5 244Z" fill="#b3ff06" stroke="#b3ff06"/>
<path d="M199.8 247.9L220.3 248L219.9 245.8L199.7 245.7Z" fill="#beff07" stroke="#beff07"/>
<path d="M220.3 248L240.6 246.2L240.1 243.9L219.9 245.8Z" fill="#c4ff07" stroke="#c4ff07"/>
<path d="M240.6 246.2L260.7 242.3L260 239.9L240.1 243.9Z" fill="#c4ff08" stroke="#c4ff08"/>
<path d="M260.7 242.3L280.2 236L279.3 233.6L260 239.9Z" fill="#c4ff08" stroke="#c4ff08"/>
<path d="M280.2 236L298.9 227.7L297.8 225.4L279.3 233.6Z" fill="#c4ff07" stroke="#c4ff07"/>
<path d="M298.9 227.7L316.9 217.9L315.6 215.7L297.8 225.4Z" fill="#c5ff07" stroke="#c5ff07"/>
<path d="M316.9 217.9L334.4 207.3L332.9 205.3L315.6 215.7Z" fill="#c5ff07" stroke="#c5ff07"/>
<path d="M103.9 217L121.3 227.4L122 225.6L104.8 215.3Z" fill="#79ce03" stroke="#79ce03"/>
<path d="M121.3 227.4L140 235.3L140.4 233.4L122 225.6Z" fill="#83e004" stroke="#83e004"/>
<path d="M140 235.3L159.5 240.7L159.8 238.7L140.4 233.4Z" fill="#90f505" stroke="#90f505"/>
<path d="M159.5 240.7L179.5 244L179.6 242L159.8 238.7Z" fill="#9cff06" stroke="#9cff06"/>
<path d="M179.5 244L199.7 245.7L199.6 243.6L179.6 242Z" fill="#a7ff06" stroke="#a7ff06"/>
<path d="M199.7 245.7L219.9 245.8L219.7 243.5L199.6 243.6Z" fill="#b1ff07" stroke="#b1ff07"/>
<path d="M219.9 245.8L240.1 243.9L239.6 241.6L219.7 243.5Z" fill="#b7ff08" stroke="#b7ff08"/>
<path d="M240.1 243.9L260 239.9L259.3 237.6L239.6 241.6Z" fill="#b7ff08" stroke="#b7ff08"/>
<path d="M260 239.9L279.3 233.6L278.3 231.3L259.3 237.6Z" fill="#b8ff08" stroke="#b8ff08"/>
<path d="M279.3 233.6L297.8 225.4L296.6 223.1L278.3 231.3Z" fill="#b8ff07" stroke="#b8ff07"/>
<path d="M297.8 225.4L315.6 215.7L314.3 213.6L296.6 223.1Z" fill="#b9ff07" stroke="#b9ff07"/>
<path d="M315.6 215.7L332.9 205.3L331.5 203.2L314.3 213.6Z" fill="#b9ff07" stroke="#b9ff07"/>
<path d="M104.8 215.3L122 225.6L122.6 223.7L105.6 213.5Z" fill="#6fcc03" stroke="#6fcc03"/>
<path d="M122 225.6L140.4 233.4L140.9 231.4L122.6 223.7Z" fill="#79df04" stroke="#79df04"/>
<path d="M140.4 233.4L159.8 238.7L160.1 236.7L140.9 231.4Z" fill="#85f405" stroke="#85f405"/>
<path d="M159.8 238.7L179.6 242L179.7 239.9L160.1 236.7Z" fill="#91ff05" stroke="#91ff05"/>
<path d="M179.6 242L199.6 243.6L199.5 241.4L179.7 239.9Z" fill="#9bff06" stroke="#9bff06"/>
<path d="M199.6 243.6L219.7 243.5L219.4 241.3L199.5 241.4Z" fill="#a5ff07" stroke="#a5ff07"/>
<path d="M219.7 243.5L239.6 241.6L239.2 239.4L219.4 241.3Z" fill="#aaff08" stroke="#aaff08"/>
<path d="M239.6 241.6L259.3 237.6L258.6 235.3L239.2 239.4Z" fill="#abff08" stroke="#abff08"/>
<path d="M259.3 237.6L278.3 231.3L277.4 229L258.6 235.3Z" fill="#abff08" stroke="#abff08"/>
<path d="M278.3 231.3L296.6 223.1L295.6 220.8L277.4 229Z" fill="#acff07" stroke="#acff07"/>
<path d="M296.6 223.1L314.3 213.6L313.1 211.4L295.6 220.8Z" fill="#acff07" stroke="#acff07"/>
<path d="M314.3 213.6L331.5 203.2L330.1 201.2L313.1 211.4Z" fill="#acff07" stroke="#acff07"/>
<path d="M105.6 213.5L122.6 223.7L123.3 221.8L106.4 211.8Z" fill="#66ca03" stroke="#66ca03"/>
<path d="M122.6 223.7L140.9 231.4L141.4 229.5L123.3 221.8Z" fill="#6fdd04" stroke="#6fdd04"/>
<path d="M140.9 231.4L160.1 236.7L160.4 234.7L141.4 229.5Z" fill="#7af305" stroke="#7af305"/>
<path d="M160.1 236.7L179.7 239.9L179.8 237.8L160.4 234.7Z" fill="#85ff05" stroke="#85ff05"/>
<path d="M179.7 239.9L199.5 241.4L199.4 239.3L179.8 237.8Z" fill="#8fff06" stroke="#8fff06"/>
<path d="M199.5 241.4L219.4 241.3L219.1 239.1L199.4 239.3Z" fill="#98ff07" stroke="#98ff07"/>
<path d="M219.4 241.3L239.2 239.4L238.7 237.1L219.1 239.1Z" fill="#9eff08" stroke="#9eff08"/>
<path d="M239.2 239.4L258.6 235.3L257.9 233L238.7 237.1Z" fill="#9eff08" stroke="#9eff08"/>
<path d="M258.6 235.3L277.4 229L276.6 226.7L257.9 233Z" fill="#9eff08" stroke="#9eff08"/>
<path d="M277.4 229L295.6 220.8L294.5 218.6L276.6 226.7Z" fill="#9fff07" stroke="#9fff07"/>
<path d="M295.6 220.8L313.1 211.4L311.8 209.3L294.5 218.6Z" fill="#9fff07" stroke="#9fff07"/>
<path d="M313.1 211.4L330.1 201.2L328.8 199.2L311.8 209.3Z" fill="#a0ff07" stroke="#a0ff07"/>
<path d="M106.4 211.8L123.3 221.8L123.9 220L107.2 210.1Z" fill="#5dc903" stroke="#5dc903"/>
<path d="M123.3 221.8L141.4 229.5L141.9 227.5L123.9 220Z" fill="#65dc04" stroke="#65dc04"/>
<path d="M141.4 229.5L160.4 234.7L160.7 232.7L141.9 227.5Z" fill="#70f205" stroke="#70f205"/>
<path d="M160.4 234.7L179.8 237.8L179.9 235.8L160.7 232.7Z" fill="#7aff05" stroke="#7aff05"/>
<path d="M179.8 237.8L199.4 239.3L199.4 237.2L179.9 235.8Z" fill="#83ff06" stroke="#83ff06"/>
<path d="M199.4 239.3L219.1 239.1L218.9 236.9L199.4 237.2Z" fill="#8cff07" stroke="#8cff07"/>
<path d="M219.1 239.1L238.7 237.1L238.2 234.8L218.9 236.9Z" fill="#91ff08" stroke="#91ff08"/>
<path d="M238.7 237.1L257.9 233L257.3 230.6L238.2 234.8Z" fill="#91ff08" stroke="#91ff08"/>
<path d="M257.9 233L276.6 226.7L275.7 224.4L257.3 230.6Z" fill="#92ff08" stroke="#92ff08"/>
<path d="M276.6 226.7L294.5 218.6L293.5 216.4L275.7 224.4Z" fill="#92ff07" stroke="#92ff07"/>
<path d="M294.5 218.6L311.8 209.3L310.7 207.1L293.5 216.4Z" fill="#93ff07" stroke="#93ff07"/>
<path d="M311.8 209.3L328.8 199.2L327.4 197.2L310.7 207.1Z" fill="#93ff07" stroke="#93ff07"/>
<path d="M107.2 210.1L123.9 220L124.6 218.1L107.9 208.3Z" fill="#54c703" stroke="#54c703"/>
<path d="M123.9 220L141.9 227.5L142.4 225.6L124.6 218.1Z" fill="#5bda03" stroke="#5bda03"/>
<path d="M141.9 227.5L160.7 232.7L161 230.6L142.4 225.6Z" fill="#65f004" stroke="#65f004"/>
<path d="M160.7 232.7L179.9 235.8L180.1 233.7L161 230.6Z" fill="#6eff05" stroke="#6eff05"/>
<path d="M179.9 235.8L199.4 237.2L199.3 235L180.1 233.7Z" fill="#77ff06" stroke="#77ff06"/>
<path d="M199.4 237.2L218.9 236.9L218.6 234.7L199.3 235Z" fill="#7fff07" stroke="#7fff07"/>
<path d="M218.9 236.9L238.2 234.8L237.8 232.5L218.6 234.7Z" fill="#84ff08" stroke="#84ff08"/>
<path d="M238.2 234.8L257.3 230.6L256.6 228.3L237.8 232.5Z" fill="#84ff08" stroke="#84ff08"/>
<path d="M257.3 230.6L275.7 224.4L274.9 222.1L256.6 228.3Z" fill="#85ff08" stroke="#85ff08"/>
<path d="M275.7 224.4L293.5 216.4L292.5 214.1L274.9 222.1Z" fill="#85ff07" stroke="#85ff07"/>
<path d="M293.5 216.4L310.7 207.1L309.5 205L292.5 214.1Z" fill="#86ff07" stroke="#86ff07"/>
<path d="M310.7 207.1L327.4 197.2L326.2 195.2L309.5 205Z" fill="#86ff07" stroke="#86ff07"/>
<path d="M107.9 208.3L124.6 218.1L125.2 216.2L108.7 206.5Z" fill="#4ac603" stroke="#4ac603"/>
<path d="M124.6 218.1L142.4 225.6L142.8 223.6L125.2 216.2Z" fill="#51d903" stroke="#51d903"/>
<path d="M142.4 225.6L161 230.6L161.3 228.6L142.8 223.6Z" fill="#5aef04" stroke="#5aef04"/>
<path d="M161 230.6L180.1 233.7L180.2 231.6L161.3 228.6Z" fill="#63ff05" stroke="#63ff05"/>
<path d="M180.1 233.7L199.3 235L199.3 232.9L180.2 231.6Z" fill="#6bff06" stroke="#6bff06"/>
<path d="M199.3 235L218.6 234.7L218.4 232.5L199.3 232.9Z" fill="#72ff07" stroke="#72ff07"/>
<path d="M218.6 234.7L237.8 232.5L237.4 230.3L218.4 232.5Z" fill="#77ff07" stroke="#77ff07"/>
<path d="M237.8 232.5L256.6 228.3L256 226L237.4 230.3Z" fill="#77ff08" stroke="#77ff08"/>
<path d="M256.6 228.3L274.9 222.1L274.1 219.8L256 226Z" fill="#78ff08" stroke="#78ff08"/>
<path d="M274.9 222.1L292.5 214.1L291.5 211.9L274.1 219.8Z" fill="#78ff07" stroke="#78ff07"/>
<path d="M292.5 214.1L309.5 205L308.4 202.9L291.5 211.9Z" fill="#79ff07" stroke="#79ff07"/>
<path d="M309.5 205L326.2 195.2L324.9 193.2L308.4 202.9Z" fill="#79ff07" stroke="#79ff07"/>
<path d="M108.7 206.5L125.2 216.2L125.8 214.3L109.5 204.8Z" fill="#42c403" stroke="#42c403"/>
<path d="M125.2 216.2L142.8 223.6L143.3 221.7L125.8 214.3Z" fill="#47d803" stroke="#47d803"/>
<path d="M142.8 223.6L161.3 228.6L161.6 226.6L143.3 221.7Z" fill="#50ee04" stroke="#50ee04"/>
<path d="M161.3 228.6L180.2 231.6L180.3 229.5L161.6 226.6Z" fill="#58ff05" stroke="#58ff05"/>
<path d="M180.2 231.6L199.3 232.9L199.2 230.7L180.3 229.5Z" fill="#5fff06" stroke="#5fff06"/>
<path d="M199.3 232.9L218.4 232.5L218.2 230.3L199.2 230.7Z" fill="#66ff07" stroke="#66ff07"/>
<path d="M218.4 232.5L237.4 230.3L237 228L218.2 230.3Z" fill="#6aff07" stroke="#6aff07"/>
<path d="M237.4 230.3L256 226L255.4 223.7L237 228Z" fill="#6aff08" stroke="#6aff08"/>
<path d="M256 226L274.1 219.8L273.3 217.5L255.4 223.7Z" fill="#6bff08" stroke="#6bff08"/>
<path d="M274.1 219.8L291.5 211.9L290.6 209.7L273.3 217.5Z" fill="#6bff07" stroke="#6bff07"/>
<path d="M291.5 211.9L308.4 202.9L307.3 200.8L290.6 209.7Z" fill="#6cff07" stroke="#6cff07"/>
<path d="M308.4 202.9L324.9 193.2L323.7 191.2L307.3 200.8Z" fill="#6cff07" stroke="#6cff07"/>
<path d="M109.5 204.8L125.8 214.3L126.4 212.4L110.2 203Z" fill="#39c303" stroke="#39c303"/>
<path d="M125.8 214.3L143.3 221.7L143.8 219.7L126.4 212.4Z" fill="#3ed603" stroke="#3ed603"/>
<path d="M143.3 221.7L161.6 226.6L161.9 224.5L143.8 219.7Z" fill="#45ed04" stroke="#45ed04"/>
<path d="M161.6 226.6L180.3 229.5L180.4 227.4L161.9 224.5Z" fill="#4cff05" stroke="#4cff05"/>
<path d="M180.3 229.5L199.2 230.7L199.2 228.6L180.4 227.4Z" fill="#53ff06" stroke="#53ff06"/>
<path d="M199.2 230.7L218.2 230.3L217.9 228.1L199.2 228.6Z" fill="#59ff07" stroke="#59ff07"/>
<path d="M218.2 230.3L237 228L236.6 225.7L217.9 228.1Z" fill="#5dff07" stroke="#5dff07"/>
<path d="M237 228L255.4 223.7L254.8 221.5L236.6 225.7Z" fill="#5dff08" stroke="#5dff08"/>
<path d="M255.4 223.7L273.3 217.5L272.6 215.3L254.8 221.5Z" fill="#5dff08" stroke="#5dff08"/>
<path d="M273.3 217.5L290.6 209.7L289.6 207.5L272.6 215.3Z" fill="#5eff07" stroke="#5eff07"/>
<path d="M290.6 209.7L307.3 200.8L306.2 198.7L289.6 207.5Z" fill="#5eff07" stroke="#5eff07"/>
<path d="M307.3 200.8L323.7 191.2L322.4 189.2L306.2 198.7Z" fill="#5fff07" stroke="#5fff07"/>
<path d="M110.2 203L126.4 212.4L127.1 210.6L111 201.2Z" fill="#30c203" stroke="#30c203"/>
<path d="M126.4 212.4L143.8 219.7L144.2 217.7L127.1 210.6Z" fill="#34d503" stroke="#34d503"/>
<path d="M143.8 219.7L161.9 224.5L162.2 222.5L144.2 217.7Z" fill="#3aec04" stroke="#3aec04"/>
<path d="M161.9 224.5L180.4 227.4L180.6 225.3L162.2 222.5Z" fill="#41ff05" stroke="#41ff05"/>
<path d="M180.4 227.4L199.2 228.6L199.1 226.4L180.6 225.3Z" fill="#47ff06" stroke="#47ff06"/>
<path d="M199.2 228.6L217.9 228.1L217.7 225.9L199.1 226.4Z" fill="#4cff07" stroke="#4cff07"/>
<path d="M217.9 228.1L236.6 225.7L236.2 223.5L217.7 225.9Z" fill="#4fff07" stroke="#4fff07"/>
<path d="M236.6 225.7L254.8 221.5L254.3 219.2L236.2 223.5Z" fill="#50ff08" stroke="#50ff08"/>
<path d="M254.8 221.5L272.6 215.3L271.8 213L254.3 219.2Z" fill="#50ff08" stroke="#50ff08"/>
<path d="M272.6 215.3L289.6 207.5L288.7 205.3L271.8 213Z" fill="#51ff07" stroke="#51ff07"/>
<path d="M289.6 207.5L306.2 198.7L305.2 196.6L288.7 205.3Z" fill="#51ff07" stroke="#51ff07"/>
<path d="M306.2 198.7L322.4 189.2L321.3 187.3L305.2 196.6Z" fill="#52ff07" stroke="#52ff07"/>
<path d="M111 201.2L127.1 210.6L127.7 208.7L111.7 199.4Z" fill="#27c103" stroke="#27c103"/>
<path d="M127.1 210.6L144.2 217.7L144.7 215.7L127.7 208.7Z" fill="#2ad403" stroke="#2ad403"/>
<path d="M144.2 217.7L162.2 222.5L162.5 220.5L144.7 215.7Z" fill="#30eb04" stroke="#30eb04"/>
<path d="M162.2 222.5L180.6 225.3L180.7 223.2L162.5 220.5Z" fill="#35ff05" stroke="#35ff05"/>
<path d="M180.6 225.3L199.1 226.4L199.1 224.3L180.7 223.2Z" fill="#3aff06" stroke="#3aff06"/>
<path d="M199.1 226.4L217.7 225.9L217.5 223.6L199.1 224.3Z" fill="#3fff07" stroke="#3fff07"/>
<path d="M217.7 225.9L236.2 223.5L235.8 221.2L217.5 223.6Z" fill="#42ff07" stroke="#42ff07"/>
<path d="M236.2 223.5L254.3 219.2L253.7 216.9L235.8 221.2Z" fill="#42ff08" stroke="#42ff08"/>
<path d="M254.3 219.2L271.8 213L271.1 210.8L253.7 216.9Z" fill="#43ff08" stroke="#43ff08"/>
<path d="M271.8 213L288.7 205.3L287.9 203.1L271.1 210.8Z" fill="#43ff07" stroke="#43ff07"/>
<path d="M288.7 205.3L305.2 196.6L304.1 194.5L287.9 203.1Z" fill="#44ff07" stroke="#44ff07"/>
<path d="M305.2 196.6L321.3 187.3L320.1 185.3L304.1 194.5Z" fill="#44ff07" stroke="#44ff07"/>
<path d="M111.7 199.4L127.7 208.7L128.3 206.8L112.5 197.6Z" fill="#1ebf02" stroke="#1ebf02"/>
<path d="M127.7 208.7L144.7 215.7L145.1 213.7L128.3 206.8Z" fill="#21d303" stroke="#21d303"/>
<path d="M144.7 215.7L162.5 220.5L162.8 218.4L145.1 213.7Z" fill="#25ea04" stroke="#25ea04"/>
<path d="M162.5 220.5L180.7 223.2L180.8 221.1L162.8 218.4Z" fill="#2aff05" stroke="#2aff05"/>
<path d="M180.7 223.2L199.1 224.3L199.1 222.1L180.8 221.1Z" fill="#2eff06" stroke="#2eff06"/>
<path d="M199.1 224.3L217.5 223.6L217.3 221.4L199.1 222.1Z" fill="#32ff07" stroke="#32ff07"/>
<path d="M217.5 223.6L235.8 221.2L235.4 219L217.3 221.4Z" fill="#34ff07" stroke="#34ff07"/>
<path d="M235.8 221.2L253.7 216.9L253.2 214.6L235.4 219Z" fill="#35ff08" stroke="#35ff08"/>
<path d="M253.7 216.9L271.1 210.8L270.4 208.5L253.2 214.6Z" fill="#35ff08" stroke="#35ff08"/>
<path d="M271.1 210.8L287.9 203.1L287 201L270.4 208.5Z" fill="#36ff07" stroke="#36ff07"/>
<path d="M287.9 203.1L304.1 194.5L303.1 192.4L287 201Z" fill="#36ff07" stroke="#36ff07"/>
<path d="M304.1 194.5L320.1 185.3L319 183.3L303.1 192.4Z" fill="#37ff07" stroke="#37ff07"/>
<path d="M112.5 197.6L128.3 206.8L128.9 204.9L113.2 195.8Z" fill="#16be02" stroke="#16be02"/>
<path d="M128.3 206.8L145.1 213.7L145.6 211.8L128.9 204.9Z" fill="#17d203" stroke="#17d203"/>
<path d="M145.1 213.7L162.8 218.4L163.1 216.4L145.6 211.8Z" fill="#1be904" stroke="#1be904"/>
<path d="M162.8 218.4L180.8 221.1L181 219L163.1 216.4Z" fill="#1fff05" stroke="#1fff05"/>
<path d="M180.8 221.1L199.1 222.1L199.1 220L181 219Z" fill="#22ff06" stroke="#22ff06"/>
<path d="M199.1 222.1L217.3 221.4L217.1 219.2L199.1 220Z" fill="#25ff07" stroke="#25ff07"/>
<path d="M217.3 221.4L235.4 219L235.1 216.7L217.1 219.2Z" fill="#27ff07" stroke="#27ff07"/>
<path d="M235.4 219L253.2 214.6L252.6 212.4L235.1 216.7Z" fill="#27ff08" stroke="#27ff08"/>
<path d="M253.2 214.6L270.4 208.5L269.7 206.3L252.6 212.4Z" fill="#28ff08" stroke="#28ff08"/>
<path d="M270.4 208.5L287 201L286.1 198.8L269.7 206.3Z" fill="#28ff07" stroke="#28ff07"/>
<path d="M287 201L303.1 192.4L302.2 190.3L286.1 198.8Z" fill="#29ff07" stroke="#29ff07"/>
<path d="M303.1 192.4L319 183.3L317.9 181.3L302.2 190.3Z" fill="#29ff07" stroke="#29ff07"/>
<path d="M113.2 195.8L128.9 204.9L129.5 202.9L113.9 194Z" fill="#0dbd02" stroke="#0dbd02"/>
<path d="M128.9 204.9L145.6 211.8L146.1 209.8L129.5 202.9Z" fill="#0ed103" stroke="#0ed103"/>
<path d="M145.6 211.8L163.1 216.4L163.4 214.3L146.1 209.8Z" fill="#10e904" stroke="#10e904"/>
<path d="M163.1 216.4L181 219L181.1 216.9L163.4 214.3Z" fill="#13ff05" stroke="#13ff05"/>
<path d="M181 219L199.1 220L199 217.8L181.1 216.9Z" fill="#16ff06" stroke="#16ff06"/>
<path d="M199.1 220L217.1 219.2L217 217L199 217.8Z" fill="#18ff07" stroke="#18ff07"/>
<path d="M217.1 219.2L235.1 216.7L234.7 214.5L217 217Z" fill="#19ff07" stroke="#19ff07"/>
<path d="M235.1 216.7L252.6 212.4L252.1 210.1L234.7 214.5Z" fill="#1aff08" stroke="#1aff08"/>
<path d="M252.6 212.4L269.7 206.3L269 204.1L252.1 210.1Z" fill="#1aff08" stroke="#1aff08"/>
<path d="M269.7 206.3L286.1 198.8L285.3 196.6L269 204.1Z" fill="#1bff07" stroke="#1bff07"/>
<path d="M286.1 198.8L302.2 190.3L301.2 188.3L285.3 196.6Z" fill="#1bff07" stroke="#1bff07"/>
<path d="M302.2 190.3L317.9 181.3L316.8 179.4L301.2 188.3Z" fill="#1cff07" stroke="#1cff07"/>
<path d="M113.9 194L129.5 202.9L130.1 201L114.6 192.2Z" fill="#05bc02" stroke="#05bc02"/>
<path d="M129.5 202.9L146.1 209.8L146.5 207.8L130.1 201Z" fill="#05d003" stroke="#05d003"/>
<path d="M146.1 209.8L163.4 214.3L163.7 212.3L146.5 207.8Z" fill="#06e804" stroke="#06e804"/>
<path d="M163.4 214.3L181.1 216.9L181.3 214.8L163.7 212.3Z" fill="#08fe05" stroke="#08fe05"/>
<path d="M181.1 216.9L199 217.8L199 215.6L181.3 214.8Z" fill="#09ff06" stroke="#09ff06"/>
<path d="M199 217.8L217 217L216.8 214.8L199 215.6Z" fill="#0bff07" stroke="#0bff07"/>
<path d="M217 217L234.7 214.5L234.4 212.2L216.8 214.8Z" fill="#0bff07" stroke="#0bff07"/>
<path d="M234.7 214.5L252.1 210.1L251.6 207.9L234.4 212.2Z" fill="#0cff08" stroke="#0cff08"/>
<path d="M252.1 210.1L269 204.1L268.3 201.8L251.6 207.9Z" fill="#0cff08" stroke="#0cff08"/>
<path d="M269 204.1L285.3 196.6L284.5 194.5L268.3 201.8Z" fill="#0dff07" stroke="#0dff07"/>
<path d="M285.3 196.6L301.2 188.3L300.3 186.2L284.5 194.5Z" fill="#0dff07" stroke="#0dff07"/>
<path d="M301.2 188.3L316.8 179.4L315.7 177.4L300.3 186.2Z" fill="#0eff07" stroke="#0eff07"/>
<path d="M114.6 192.2L130.1 201L130.7 199.1L115.3 190.4Z" fill="#02bb09" stroke="#02bb09"/>
<path d="M130.1 201L146.5 207.8L147 205.8L130.7 199.1Z" fill="#03cf0b" stroke="#03cf0b"/>
<path d="M146.5 207.8L163.7 212.3L164 210.2L147 205.8Z" fill="#04e70d" stroke="#04e70d"/>
<path d="M163.7 212.3L181.3 214.8L181.4 212.7L164 210.2Z" fill="#05fe0e" stroke="#05fe0e"/>
<path d="M181.3 214.8L199 215.6L199 213.5L181.4 212.7Z" fill="#06ff0f" stroke="#06ff0f"/>
<path d="M199 215.6L216.8 214.8L216.6 212.6L199 213.5Z" fill="#07ff10" stroke="#07ff10"/>
<path d="M216.8 214.8L234.4 212.2L234 210L216.6 212.6Z" fill="#07ff11" stroke="#07ff11"/>
<path d="M234.4 212.2L251.6 207.9L251.1 205.6L234 210Z" fill="#08ff11" stroke="#08ff11"/>
<path d="M251.6 207.9L268.3 201.8L267.7 199.6L251.1 205.6Z" fill="#07ff10" stroke="#07ff10"/>
<path d="M268.3 201.8L284.5 194.5L283.7 192.3L267.7 199.6Z" fill="#07ff0f" stroke="#07ff0f"/>
<path d="M284.5 194.5L300.3 186.2L299.3 184.2L283.7 192.3Z" fill="#07ff0f" stroke="#07ff0f"/>
<path d="M300.3 186.2L315.7 177.4L314.7 175.5L299.3 184.2Z" fill="#07ff0e" stroke="#07ff0e"/>
<path d="M115.3 190.4L130.7 199.1L131.2 197.2L116 188.6Z" fill="#02bb11" stroke="#02bb11"/>
<path d="M130.7 199.1L147 205.8L147.4 203.8L131.2 197.2Z" fill="#03ce14" stroke="#03ce14"/>
<path d="M147 205.8L164 210.2L164.3 208.1L147.4 203.8Z" fill="#04e717" stroke="#04e717"/>
<path d="M164 210.2L181.4 212.7L181.6 210.6L164.3 208.1Z" fill="#05fe19" stroke="#05fe19"/>
<path d="M181.4 212.7L199 213.5L199 211.3L181.6 210.6Z" fill="#06ff1c" stroke="#06ff1c"/>
<path d="M199 213.5L216.6 212.6L216.5 210.4L199 211.3Z" fill="#07ff1e" stroke="#07ff1e"/>
<path d="M216.6 212.6L234 210L233.7 207.7L216.5 210.4Z" fill="#07ff1f" stroke="#07ff1f"/>
<path d="M234 210L251.1 205.6L250.6 203.4L233.7 207.7Z" fill="#08ff1f" stroke="#08ff1f"/>
<path d="M251.1 205.6L267.7 199.6L267 197.4L250.6 203.4Z" fill="#07ff1e" stroke="#07ff1e"/>
<path d="M267.7 199.6L283.7 192.3L282.9 190.2L267 197.4Z" fill="#07ff1d" stroke="#07ff1d"/>
<path d="M283.7 192.3L299.3 184.2L298.4 182.1L282.9 190.2Z" fill="#07ff1c" stroke="#07ff1c"/>
<path d="M299.3 184.2L314.7 175.5L313.6 173.5L298.4 182.1Z" fill="#07ff1c" stroke="#07ff1c"/>
<path d="M116 188.6L131.2 197.2L131.8 195.3L116.7 186.8Z" fill="#02ba1a" stroke="#02ba1a"/>
<path d="M131.2 197.2L147.4 203.8L147.9 201.8L131.8 195.3Z" fill="#03ce1e" stroke="#03ce1e"/>
<path d="M147.4 203.8L164.3 208.1L164.6 206.1L147.9 201.8Z" fill="#04e622" stroke="#04e622"/>
<path d="M164.3 208.1L181.6 210.6L181.7 208.5L164.6 206.1Z" fill="#05fd25" stroke="#05fd25"/>
<path d="M181.6 210.6L199 211.3L199 209.1L181.7 208.5Z" fill="#06ff28" stroke="#06ff28"/>
<path d="M199 211.3L216.5 210.4L216.3 208.2L199 209.1Z" fill="#07ff2b" stroke="#07ff2b"/>
<path d="M216.5 210.4L233.7 207.7L233.4 205.5L216.3 208.2Z" fill="#07ff2d" stroke="#07ff2d"/>
<path d="M233.7 207.7L250.6 203.4L250.2 201.1L233.4 205.5Z" fill="#08ff2d" stroke="#08ff2d"/>
<path d="M250.6 203.4L267 197.4L266.4 195.2L250.2 201.1Z" fill="#07ff2c" stroke="#07ff2c"/>
<path d="M267 197.4L282.9 190.2L282.2 188L266.4 195.2Z" fill="#07ff2b" stroke="#07ff2b"/>
<path d="M282.9 190.2L298.4 182.1L297.5 180L282.2 188Z" fill="#07ff2a" stroke="#07ff2a"/>
<path d="M298.4 182.1L313.6 173.5L312.6 171.6L297.5 180Z" fill="#07ff2a" stroke="#07ff2a"/>
<path d="M116.7 186.8L131.8 195.3L132.4 193.3L117.4 184.9Z" fill="#02b922" stroke="#02b922"/>
<path d="M131.8 195.3L147.9 201.8L148.3 199.7L132.4 193.3Z" fill="#03cd27" stroke="#03cd27"/>
<path d="M147.9 201.8L164.6 206.1L164.9 204L148.3 199.7Z" fill="#04e52c" stroke="#04e52c"/>
<path d="M164.6 206.1L181.7 208.5L181.9 206.3L164.9 204Z" fill="#05fd30" stroke="#05fd30"/>
<path d="M181.7 208.5L199 209.1L199 207L181.9 206.3Z" fill="#06ff34" stroke="#06ff34"/>
<path d="M199 209.1L216.3 208.2L216.2 206L199 207Z" fill="#07ff38" stroke="#07ff38"/>
<path d="M216.3 208.2L233.4 205.5L233.1 203.3L216.2 206Z" fill="#07ff3b" stroke="#07ff3b"/>
<path d="M233.4 205.5L250.2 201.1L249.7 198.9L233.1 203.3Z" fill="#08ff3b" stroke="#08ff3b"/>
<path d="M250.2 201.1L266.4 195.2L265.8 193L249.7 198.9Z" fill="#07ff3a" stroke="#07ff3a"/>
<path d="M266.4 195.2L282.2 188L281.4 185.9L265.8 193Z" fill="#07ff39" stroke="#07ff39"/>
<path d="M282.2 188L297.5 180L296.7 178L281.4 185.9Z" fill="#07ff38" stroke="#07ff38"/>
<path d="M297.5 180L312.6 171.6L311.6 169.6L296.7 178Z" fill="#07ff37" stroke="#07ff37"/>
<path d="M117.4 184.9L132.4 193.3L133 191.4L118.1 183.1Z" fill="#02b82a" stroke="#02b82a"/>
<path d="M132.4 193.3L148.3 199.7L148.7 197.7L133 191.4Z" fill="#03cc30" stroke="#03cc30"/>
<path d="M148.3 199.7L164.9 204L165.2 201.9L148.7 197.7Z" fill="#04e536" stroke="#04e536"/>
<path d="M164.9 204L181.9 206.3L182.1 204.2L165.2 201.9Z" fill="#05fd3c" stroke="#05fd3c"/>
<path d="M181.9 206.3L199 207L199.1 204.8L182.1 204.2Z" fill="#06ff41" stroke="#06ff41"/>
<path d="M199 207L216.2 206L216 203.8L199.1 204.8Z" fill="#07ff46" stroke="#07ff46"/>
<path d="M216.2 206L233.1 203.3L232.8 201L216 203.8Z" fill="#07ff49" stroke="#07ff49"/>
<path d="M233.1 203.3L249.7 198.9L249.2 196.6L232.8 201Z" fill="#07ff49" stroke="#07ff49"/>
<path d="M249.7 198.9L265.8 193L265.2 190.8L249.2 196.6Z" fill="#07ff48" stroke="#07ff48"/>
<path d="M265.8 193L281.4 185.9L280.7 183.8L265.2 190.8Z" fill="#07ff47" stroke="#07ff47"/>
<path d="M281.4 185.9L296.7 178L295.8 175.9L280.7 183.8Z" fill="#07ff46" stroke="#07ff46"/>
<path d="M296.7 178L311.6 169.6L310.7 167.7L295.8 175.9Z" fill="#07ff45" stroke="#07ff45"/>
<path d="M118.1 183.1L133 191.4L133.6 189.4L118.8 181.3Z" fill="#02b833" stroke="#02b833"/>
<path d="M133 191.4L148.7 197.7L149.2 195.7L133.6 189.4Z" fill="#03cc39" stroke="#03cc39"/>
<path d="M148.7 197.7L165.2 201.9L165.5 199.9L149.2 195.7Z" fill="#04e441" stroke="#04e441"/>
<path d="M165.2 201.9L182.1 204.2L182.2 202.1L165.5 199.9Z" fill="#05fc47" stroke="#05fc47"/>
<path d="M182.1 204.2L199.1 204.8L199.1 202.6L182.2 202.1Z" fill="#06ff4d" stroke="#06ff4d"/>
<path d="M199.1 204.8L216 203.8L215.9 201.5L199.1 202.6Z" fill="#07ff53" stroke="#07ff53"/>
<path d="M216 203.8L232.8 201L232.5 198.8L215.9 201.5Z" fill="#07ff57" stroke="#07ff57"/>
<path d="M232.8 201L249.2 196.6L248.8 194.4L232.5 198.8Z" fill="#07ff57" stroke="#07ff57"/>
<path d="M249.2 196.6L265.2 190.8L264.6 188.6L248.8 194.4Z" fill="#07ff56" stroke="#07ff56"/>
<path d="M265.2 190.8L280.7 183.8L280 181.6L264.6 188.6Z" fill="#07ff55" stroke="#07ff55"/>
<path d="M280.7 183.8L295.8 175.9L295 173.9L280 181.6Z" fill="#07ff54" stroke="#07ff54"/>
<path d="M295.8 175.9L310.7 167.7L309.7 165.7L295 173.9Z" fill="#07ff54" stroke="#07ff54"/>
<path d="M118.8 181.3L133.6 189.4L134.1 187.5L119.5 179.4Z" fill="#02b73b" stroke="#02b73b"/>
<path d="M133.6 189.4L149.2 195.7L149.6 193.7L134.1 187.5Z" fill="#03cb43" stroke="#03cb43"/>
<path d="M149.2 195.7L165.5 199.9L165.8 197.8L149.6 193.7Z" fill="#04e44b" stroke="#04e44b"/>
<path d="M165.5 199.9L182.2 202.1L182.4 200L165.8 197.8Z" fill="#05fc53" stroke="#05fc53"/>
<path d="M182.2 202.1L199.1 202.6L199.1 200.5L182.4 200Z" fill="#06ff5a" stroke="#06ff5a"/>
<path d="M199.1 202.6L215.9 201.5L215.8 199.3L199.1 200.5Z" fill="#07ff61" stroke="#07ff61"/>
<path d="M215.9 201.5L232.5 198.8L232.2 196.6L215.8 199.3Z" fill="#07ff65" stroke="#07ff65"/>
<path d="M232.5 198.8L248.8 194.4L248.4 192.2L232.2 196.6Z" fill="#07ff65" stroke="#07ff65"/>
<path d="M248.8 194.4L264.6 188.6L264 186.4L248.4 192.2Z" fill="#07ff64" stroke="#07ff64"/>
<path d="M264.6 188.6L280 181.6L279.3 179.5L264 186.4Z" fill="#07ff63" stroke="#07ff63"/>
<path d="M280 181.6L295 173.9L294.1 171.9L279.3 179.5Z" fill="#07ff62" stroke="#07ff62"/>
<path d="M295 173.9L309.7 165.7L308.8 163.8L294.1 171.9Z" fill="#07ff62" stroke="#07ff62"/>
<path d="M119.5 179.4L134.1 187.5L134.7 185.5L120.2 177.5Z" fill="#02b643" stroke="#02b643"/>
<path d="M134.1 187.5L149.6 193.7L150.1 191.7L134.7 185.5Z" fill="#03cb4c" stroke="#03cb4c"/>
<path d="M149.6 193.7L165.8 197.8L166.1 195.7L150.1 191.7Z" fill="#04e456" stroke="#04e456"/>
<path d="M165.8 197.8L182.4 200L182.6 197.8L166.1 195.7Z" fill="#05fc5f" stroke="#05fc5f"/>
<path d="M182.4 200L199.1 200.5L199.1 198.3L182.6 197.8Z" fill="#06ff67" stroke="#06ff67"/>
<path d="M199.1 200.5L215.8 199.3L215.6 197.1L199.1 198.3Z" fill="#07ff6e" stroke="#07ff6e"/>
<path d="M215.8 199.3L232.2 196.6L232 194.3L215.6 197.1Z" fill="#07ff73" stroke="#07ff73"/>
<path d="M232.2 196.6L248.4 192.2L247.9 190L232 194.3Z" fill="#07ff73" stroke="#07ff73"/>
<path d="M248.4 192.2L264 186.4L263.5 184.2L247.9 190Z" fill="#07ff72" stroke="#07ff72"/>
<path d="M264 186.4L279.3 179.5L278.6 177.4L263.5 184.2Z" fill="#07ff71" stroke="#07ff71"/>
<path d="M279.3 179.5L294.1 171.9L293.3 169.8L278.6 177.4Z" fill="#07ff70" stroke="#07ff70"/>
<path d="M294.1 171.9L308.8 163.8L307.8 161.8L293.3 169.8Z" fill="#07ff70" stroke="#07ff70"/>
<path d="M120.2 177.5L134.7 185.5L135.3 183.6L120.9 175.7Z" fill="#02b64b" stroke="#02b64b"/>
<path d="M134.7 185.5L150.1 191.7L150.5 189.6L135.3 183.6Z" fill="#03ca55" stroke="#03ca55"/>
<path d="M150.1 191.7L166.1 195.7L166.5 193.6L150.5 189.6Z" fill="#04e360" stroke="#04e360"/>
<path d="M166.1 195.7L182.6 197.8L182.7 195.7L166.5 193.6Z" fill="#05fc6a" stroke="#05fc6a"/>
<path d="M182.6 197.8L199.1 198.3L199.1 196.1L182.7 195.7Z" fill="#06ff73" stroke="#06ff73"/>
<path d="M199.1 198.3L215.6 197.1L215.5 194.9L199.1 196.1Z" fill="#07ff7c" stroke="#07ff7c"/>
<path d="M215.6 197.1L232 194.3L231.7 192.1L215.5 194.9Z" fill="#07ff82" stroke="#07ff82"/>
<path d="M232 194.3L247.9 190L247.5 187.7L231.7 192.1Z" fill="#07ff81" stroke="#07ff81"/>
<path d="M247.9 190L263.5 184.2L262.9 182L247.5 187.7Z" fill="#07ff80" stroke="#07ff80"/>
<path d="M263.5 184.2L278.6 177.4L277.9 175.3L262.9 182Z" fill="#07ff7f" stroke="#07ff7f"/>
<path d="M278.6 177.4L293.3 169.8L292.5 167.8L277.9 175.3Z" fill="#07ff7f" stroke="#07ff7f"/>
<path d="M293.3 169.8L307.8 161.8L306.9 159.9L292.5 167.8Z" fill="#07ff7e" stroke="#07ff7e"/>
<path d="M120.9 175.7L135.3 183.6L135.8 181.6L121.6 173.8Z" fill="#02b554" stroke="#02b554"/>
<path d="M135.3 183.6L150.5 189.6L151 187.6L135.8 181.6Z" fill="#03ca5e" stroke="#03ca5e"/>
<path d="M150.5 189.6L166.5 193.6L166.8 191.5L151 187.6Z" fill="#04e36b" stroke="#04e36b"/>
<path d="M166.5 193.6L182.7 195.7L182.9 193.5L166.8 191.5Z" fill="#05fc76" stroke="#05fc76"/>
<path d="M182.7 195.7L199.1 196.1L199.2 193.9L182.9 193.5Z" fill="#06ff80" stroke="#06ff80"/>
<path d="M199.1 196.1L215.5 194.9L215.4 192.7L199.2 193.9Z" fill="#07ff89" stroke="#07ff89"/>
<path d="M215.5 194.9L231.7 192.1L231.4 189.8L215.4 192.7Z" fill="#07ff90" stroke="#07ff90"/>
<path d="M231.7 192.1L247.5 187.7L247.1 185.5L231.4 189.8Z" fill="#07ff90" stroke="#07ff90"/>
<path d="M247.5 187.7L262.9 182L262.4 179.8L247.1 185.5Z" fill="#07ff8f" stroke="#07ff8f"/>
<path d="M262.9 182L277.9 175.3L277.2 173.1L262.4 179.8Z" fill="#07ff8e" stroke="#07ff8e"/>
<path d="M277.9 175.3L292.5 167.8L291.7 165.8L277.2 173.1Z" fill="#07ff8d" stroke="#07ff8d"/>
<path d="M292.5 167.8L306.9 159.9L306 158L291.7 165.8Z" fill="#07ff8c" stroke="#07ff8c"/>
<path d="M121.6 173.8L135.8 181.6L136.4 179.7L122.2 171.9Z" fill="#02b55c" stroke="#02b55c"/>
<path d="M135.8 181.6L151 187.6L151.4 185.5L136.4 179.7Z" fill="#03c968" stroke="#03c968"/>
<path d="M151 187.6L166.8 191.5L167.1 189.4L151.4 185.5Z" fill="#04e375" stroke="#04e375"/>
<path d="M166.8 191.5L182.9 193.5L183.1 191.4L167.1 189.4Z" fill="#05fc82" stroke="#05fc82"/>
<path d="M182.9 193.5L199.2 193.9L199.2 191.7L183.1 191.4Z" fill="#06ff8d" stroke="#06ff8d"/>
<path d="M199.2 193.9L215.4 192.7L215.3 190.4L199.2 191.7Z" fill="#07ff97" stroke="#07ff97"/>
<path d="M215.4 192.7L231.4 189.8L231.2 187.6L215.3 190.4Z" fill="#07ff9e" stroke="#07ff9e"/>
<path d="M231.4 189.8L247.1 185.5L246.7 183.3L231.2 187.6Z" fill="#07ff9e" stroke="#07ff9e"/>
<path d="M247.1 185.5L262.4 179.8L261.8 177.6L246.7 183.3Z" fill="#07ff9d" stroke="#07ff9d"/>
<path d="M262.4 179.8L277.2 173.1L276.5 171L261.8 177.6Z" fill="#07ff9c" stroke="#07ff9c"/>
<path d="M277.2 173.1L291.7 165.8L290.9 163.7L276.5 171Z" fill="#07ff9b" stroke="#07ff9b"/>
<path d="M291.7 165.8L306 158L305.1 156L290.9 163.7Z" fill="#07ff9b" stroke="#07ff9b"/>
<path d="M122.2 171.9L136.4 179.7L137 177.7L122.9 170.1Z" fill="#02b564" stroke="#02b564"/>
<path d="M136.4 179.7L151.4 185.5L151.9 183.5L137 177.7Z" fill="#03c971" stroke="#03c971"/>
<path d="M151.4 185.5L167.1 189.4L167.4 187.3L151.9 183.5Z" fill="#04e380" stroke="#04e380"/>
<path d="M167.1 189.4L183.1 191.4L183.3 189.2L167.4 187.3Z" fill="#05fc8d" stroke="#05fc8d"/>
<path d="M183.1 191.4L199.2 191.7L199.3 189.5L183.3 189.2Z" fill="#06ff9a" stroke="#06ff9a"/>
<path d="M199.2 191.7L215.3 190.4L215.2 188.2L199.3 189.5Z" fill="#07ffa5" stroke="#07ffa5"/>
<path d="M215.3 190.4L231.2 187.6L230.9 185.4L215.2 188.2Z" fill="#07ffad" stroke="#07ffad"/>
<path d="M231.2 187.6L246.7 183.3L246.3 181.1L230.9 185.4Z" fill="#07ffac" stroke="#07ffac"/>
<path d="M246.7 183.3L261.8 177.6L261.3 175.5L246.3 181.1Z" fill="#07ffab" stroke="#07ffab"/>
<path d="M261.8 177.6L276.5 171L275.9 168.9L261.3 175.5Z" fill="#07ffaa" stroke="#07ffaa"/>
<path d="M276.5 171L290.9 163.7L290.2 161.7L275.9 168.9Z" fill="#07ffaa" stroke="#07ffaa"/>
<path d="M290.9 163.7L305.1 156L304.2 154.1L290.2 161.7Z" fill="#07ffa9" stroke="#07ffa9"/>
<path d="M122.9 170.1L137 177.7L137.5 175.7L123.6 168.2Z" fill="#02b46d" stroke="#02b46d"/>
<path d="M137 177.7L151.9 183.5L152.3 181.5L137.5 175.7Z" fill="#03c97a" stroke="#03c97a"/>
<path d="M151.9 183.5L167.4 187.3L167.7 185.2L152.3 181.5Z" fill="#04e28a" stroke="#04e28a"/>
<path d="M167.4 187.3L183.3 189.2L183.4 187.1L167.7 185.2Z" fill="#05fc99" stroke="#05fc99"/>
<path d="M183.3 189.2L199.3 189.5L199.3 187.3L183.4 187.1Z" fill="#06ffa7" stroke="#06ffa7"/>
<path d="M199.3 189.5L215.2 188.2L215.1 186L199.3 187.3Z" fill="#07ffb3" stroke="#07ffb3"/>
<path d="M215.2 188.2L230.9 185.4L230.7 183.1L215.1 186Z" fill="#07ffbb" stroke="#07ffbb"/>
<path d="M230.9 185.4L246.3 181.1L245.9 178.8L230.7 183.1Z" fill="#07ffbb" stroke="#07ffbb"/>
<path d="M246.3 181.1L261.3 175.5L260.8 173.3L245.9 178.8Z" fill="#07ffba" stroke="#07ffba"/>
<path d="M261.3 175.5L275.9 168.9L275.3 166.8L260.8 173.3Z" fill="#07ffb9" stroke="#07ffb9"/>
<path d="M275.9 168.9L290.2 161.7L289.4 159.7L275.3 166.8Z" fill="#07ffb8" stroke="#07ffb8"/>
<path d="M290.2 161.7L304.2 154.1L303.4 152.2L289.4 159.7Z" fill="#07ffb7" stroke="#07ffb7"/>
<path d="M123.6 168.2L137.5 175.7L138.1 173.7L124.3 166.3Z" fill="#02b475" stroke="#02b475"/>
<path d="M137.5 175.7L152.3 181.5L152.8 179.4L138.1 173.7Z" fill="#03c984" stroke="#03c984"/>
<path d="M152.3 181.5L167.7 185.2L168 183.1L152.8 179.4Z" fill="#04e295" stroke="#04e295"/>
<path d="M167.7 185.2L183.4 187.1L183.6 184.9L168 183.1Z" fill="#05fca5" stroke="#05fca5"/>
<path d="M183.4 187.1L199.3 187.3L199.3 185.1L183.6 184.9Z" fill="#06ffb4" stroke="#06ffb4"/>
<path d="M199.3 187.3L215.1 186L215 183.8L199.3 185.1Z" fill="#07ffc1" stroke="#07ffc1"/>
<path d="M215.1 186L230.7 183.1L230.4 180.9L215 183.8Z" fill="#07ffc9" stroke="#07ffc9"/>
<path d="M230.7 183.1L245.9 178.8L245.6 176.6L230.4 180.9Z" fill="#07ffc9" stroke="#07ffc9"/>
<path d="M245.9 178.8L260.8 173.3L260.3 171.1L245.6 176.6Z" fill="#07ffc8" stroke="#07ffc8"/>
<path d="M260.8 173.3L275.3 166.8L274.6 164.7L260.3 171.1Z" fill="#07ffc7" stroke="#07ffc7"/>
<path d="M275.3 166.8L289.4 159.7L288.7 157.6L274.6 164.7Z" fill="#07ffc6" stroke="#07ffc6"/>
<path d="M289.4 159.7L303.4 152.2L302.5 150.2L288.7 157.6Z" fill="#07ffc6" stroke="#07ffc6"/>
<path d="M124.3 166.3L138.1 173.7L138.7 171.7L124.9 164.4Z" fill="#02b47d" stroke="#02b47d"/>
<path d="M138.1 173.7L152.8 179.4L153.2 177.3L138.7 171.7Z" fill="#03c88d" stroke="#03c88d"/>
<path d="M152.8 179.4L168 183.1L168.4 181L153.2 177.3Z" fill="#04e29f" stroke="#04e29f"/>
<path d="M168 183.1L183.6 184.9L183.8 182.8L168.4 181Z" fill="#05fcb1" stroke="#05fcb1"/>
<path d="M183.6 184.9L199.3 185.1L199.4 182.9L183.8 182.8Z" fill="#06ffc1" stroke="#06ffc1"/>
<path d="M199.3 185.1L215 183.8L214.9 181.6L199.4 182.9Z" fill="#07ffcf" stroke="#07ffcf"/>
<path d="M215 183.8L230.4 180.9L230.2 178.7L214.9 181.6Z" fill="#07ffd8" stroke="#07ffd8"/>
<path d="M230.4 180.9L245.6 176.6L245.2 174.4L230.2 178.7Z" fill="#07ffd7" stroke="#07ffd7"/>
<path d="M245.6 176.6L260.3 171.1L259.8 168.9L245.2 174.4Z" fill="#07ffd7" stroke="#07ffd7"/>
<path d="M260.3 171.1L274.6 164.7L274 162.6L259.8 168.9Z" fill="#07ffd6" stroke="#07ffd6"/>
<path d="M274.6 164.7L288.7 157.6L287.9 155.6L274 162.6Z" fill="#07ffd5" stroke="#07ffd5"/>
<path d="M288.7 157.6L302.5 150.2L301.7 148.3L287.9 155.6Z" fill="#07ffd4" stroke="#07ffd4"/>
<path d="M124.9 164.4L138.7 171.7L139.3 169.8L125.6 162.5Z" fill="#02b486" stroke="#02b486"/>
<path d="M138.7 171.7L153.2 177.3L153.7 175.3L139.3 169.8Z" fill="#03c896" stroke="#03c896"/>
<path d="M153.2 177.3L168.4 181L168.7 178.8L153.7 175.3Z" fill="#04e2aa" stroke="#04e2aa"/>
<path d="M168.4 181L183.8 182.8L184 180.6L168.7 178.8Z" fill="#05fcbd" stroke="#05fcbd"/>
<path d="M183.8 182.8L199.4 182.9L199.4 180.7L184 180.6Z" fill="#06ffce" stroke="#06ffce"/>
<path d="M199.4 182.9L214.9 181.6L214.8 179.3L199.4 180.7Z" fill="#07ffdd" stroke="#07ffdd"/>
<path d="M214.9 181.6L230.2 178.7L230 176.4L214.8 179.3Z" fill="#07ffe6" stroke="#07ffe6"/>
<path d="M230.2 178.7L245.2 174.4L244.8 172.2L230 176.4Z" fill="#07ffe6" stroke="#07ffe6"/>
<path d="M245.2 174.4L259.8 168.9L259.3 166.8L244.8 172.2Z" fill="#07ffe5" stroke="#07ffe5"/>
<path d="M259.8 168.9L274 162.6L273.4 160.5L259.3 166.8Z" fill="#07ffe4" stroke="#07ffe4"/>
<path d="M274 162.6L287.9 155.6L287.2 153.6L273.4 160.5Z" fill="#07ffe3" stroke="#07ffe3"/>
<path d="M287.9 155.6L301.7 148.3L300.8 146.3L287.2 153.6Z" fill="#06ffe3" stroke="#06ffe3"/>
<path d="M125.6 162.5L139.3 169.8L139.8 167.8L126.3 160.6Z" fill="#02b38e" stroke="#02b38e"/>
<path d="M139.3 169.8L153.7 175.3L154.1 173.2L139.8 167.8Z" fill="#03c8a0" stroke="#03c8a0"/>
<path d="M153.7 175.3L168.7 178.8L169 176.7L154.1 173.2Z" fill="#04e2b5" stroke="#04e2b5"/>
<path d="M168.7 178.8L184 180.6L184.2 178.4L169 176.7Z" fill="#05fcc9" stroke="#05fcc9"/>
<path d="M184 180.6L199.4 180.7L199.5 178.5L184.2 178.4Z" fill="#06ffdb" stroke="#06ffdb"/>
<path d="M199.4 180.7L214.8 179.3L214.7 177.1L199.5 178.5Z" fill="#07ffeb" stroke="#07ffeb"/>
<path d="M214.8 179.3L230 176.4L229.8 174.2L214.7 177.1Z" fill="#07fff5" stroke="#07fff5"/>
<path d="M230 176.4L244.8 172.2L244.5 170L229.8 174.2Z" fill="#07fff4" stroke="#07fff4"/>
<path d="M244.8 172.2L259.3 166.8L258.8 164.6L244.5 170Z" fill="#07fff4" stroke="#07fff4"/>
<path d="M259.3 166.8L273.4 160.5L272.8 158.4L258.8 164.6Z" fill="#07fff3" stroke="#07fff3"/>
<path d="M273.4 160.5L287.2 153.6L286.5 151.6L272.8 158.4Z" fill="#07fff2" stroke="#07fff2"/>
<path d="M287.2 153.6L300.8 146.3L300 144.4L286.5 151.6Z" fill="#06fff1" stroke="#06fff1"/>
<path d="M126.3 160.6L139.8 167.8L140.4 165.8L127 158.7Z" fill="#02b397" stroke="#02b397"/>
<path d="M139.8 167.8L154.1 173.2L154.6 171.1L140.4 165.8Z" fill="#03c8a9" stroke="#03c8a9"/>
<path d="M154.1 173.2L169 176.7L169.3 174.6L154.6 171.1Z" fill="#04e2c0" stroke="#04e2c0"/>
<path d="M169 176.7L184.2 178.4L184.4 176.3L169.3 174.6Z" fill="#05fcd5" stroke="#05fcd5"/>
<path d="M184.2 178.4L199.5 178.5L199.6 176.3L184.4 176.3Z" fill="#06ffe8" stroke="#06ffe8"/>
<path d="M199.5 178.5L214.7 177.1L214.7 174.9L199.6 176.3Z" fill="#07fff9" stroke="#07fff9"/>
<path d="M214.7 177.1L229.8 174.2L229.5 172L214.7 174.9Z" fill="#07ffff" stroke="#07ffff"/>
<path d="M229.8 174.2L244.5 170L244.1 167.8L229.5 172Z" fill="#07ffff" stroke="#07ffff"/>
<path d="M244.5 170L258.8 164.6L258.3 162.4L244.1 167.8Z" fill="#07ffff" stroke="#07ffff"/>
<path d="M258.8 164.6L272.8 158.4L272.2 156.3L258.3 162.4Z" fill="#07ffff" stroke="#07ffff"/>
<path d="M272.8 158.4L286.5 151.6L285.8 149.6L272.2 156.3Z" fill="#07ffff" stroke="#07ffff"/>
<path d="M286.5 151.6L300 144.4L299.2 142.5L285.8 149.6Z" fill="#06ffff" stroke="#06ffff"/>
<path d="M127 158.7L140.4 165.8L141 163.8L127.6 156.8Z" fill="#02b39f" stroke="#02b39f"/>
<path d="M140.4 165.8L154.6 171.1L155 169.1L141 163.8Z" fill="#03c8b3" stroke="#03c8b3"/>
<path d="M154.6 171.1L169.3 174.6L169.7 172.5L155 169.1Z" fill="#04e2cb" stroke="#04e2cb"/>
<path d="M169.3 174.6L184.4 176.3L184.6 174.1L169.7 172.5Z" fill="#05fce1" stroke="#05fce1"/>
<path d="M184.4 176.3L199.6 176.3L199.6 174.1L184.6 174.1Z" fill="#06fff6" stroke="#06fff6"/>
<path d="M199.6 176.3L214.7 174.9L214.6 172.6L199.6 174.1Z" fill="#07ffff" stroke="#07ffff"/>
<path d="M214.7 174.9L229.5 172L229.3 169.7L214.6 172.6Z" fill="#07ffff" stroke="#07ffff"/>
<path d="M229.5 172L244.1 167.8L243.8 165.5L229.3 169.7Z" fill="#07ffff" stroke="#07ffff"/>
<path d="M244.1 167.8L258.3 162.4L257.8 160.3L243.8 165.5Z" fill="#07ffff" stroke="#07ffff"/>
<path d="M258.3 162.4L272.2 156.3L271.6 154.2L257.8 160.3Z" fill="#07ffff" stroke="#07ffff"/>
<path d="M272.2 156.3L285.8 149.6L285.1 147.5L271.6 154.2Z" fill="#07ffff" stroke="#07ffff"/>
<path d="M285.8 149.6L299.2 142.5L298.4 140.5L285.1 147.5Z" fill="#06ffff" stroke="#06ffff"/>
<path d="M127.6 156.8L141 163.8L141.5 161.8L128.3 154.9Z" fill="#02b3a8" stroke="#02b3a8"/>
<path d="M141 163.8L155 169.1L155.5 167L141.5 161.8Z" fill="#03c8bd" stroke="#03c8bd"/>
<path d="M155 169.1L169.7 172.5L170 170.3L155.5 167Z" fill="#04e3d6" stroke="#04e3d6"/>
<path d="M169.7 172.5L184.6 174.1L184.8 171.9L170 170.3Z" fill="#05fdee" stroke="#05fdee"/>
<path d="M184.6 174.1L199.6 174.1L199.7 171.9L184.8 171.9Z" fill="#06ffff" stroke="#06ffff"/>
<path d="M199.6 174.1L214.6 172.6L214.5 170.4L199.7 171.9Z" fill="#07ffff" stroke="#07ffff"/>
<path d="M214.6 172.6L229.3 169.7L229.1 167.5L214.5 170.4Z" fill="#07ffff" stroke="#07ffff"/>
<path d="M229.3 169.7L243.8 165.5L243.4 163.3L229.1 167.5Z" fill="#07ffff" stroke="#07ffff"/>
<path d="M243.8 165.5L257.8 160.3L257.4 158.1L243.4 163.3Z" fill="#07ffff" stroke="#07ffff"/>
<path d="M257.8 160.3L271.6 154.2L271 152.1L257.4 158.1Z" fill="#07ffff" stroke="#07ffff"/>
<path d="M271.6 154.2L285.1 147.5L284.4 145.5L271 152.1Z" fill="#07ffff" stroke="#07ffff"/>
<path d="M285.1 147.5L298.4 140.5L297.6 138.6L284.4 145.5Z" fill="#06ffff" stroke="#06ffff"/>
<path d="M128.3 154.9L141.5 161.8L142.1 159.8L129 153Z" fill="#02b3b1" stroke="#02b3b1"/>
<path d="M141.5 161.8L155.5 167L155.9 164.9L142.1 159.8Z" fill="#03c8c6" stroke="#03c8c6"/>
<path d="M155.5 167L170 170.3L170.3 168.2L155.9 164.9Z" fill="#04e3e1" stroke="#04e3e1"/>
<path d="M170 170.3L184.8 171.9L185 169.7L170.3 168.2Z" fill="#05fdfa" stroke="#05fdfa"/>
<path d="M184.8 171.9L199.7 171.9L199.8 169.7L185 169.7Z" fill="#06ffff" stroke="#06ffff"/>
<path d="M199.7 171.9L214.5 170.4L214.5 168.2L199.8 169.7Z" fill="#07ffff" stroke="#07ffff"/>
<path d="M214.5 170.4L229.1 167.5L228.9 165.3L214.5 168.2Z" fill="#07ffff" stroke="#07ffff"/>
<path d="M229.1 167.5L243.4 163.3L243.1 161.1L228.9 165.3Z" fill="#07ffff" stroke="#07ffff"/>
<path d="M243.4 163.3L257.4 158.1L256.9 155.9L243.1 161.1Z" fill="#07ffff" stroke="#07ffff"/>
<path d="M257.4 158.1L271 152.1L270.4 150L256.9 155.9Z" fill="#07ffff" stroke="#07ffff"/>
<path d="M271 152.1L284.4 145.5L283.7 143.5L270.4 150Z" fill="#06ffff" stroke="#06ffff"/>
<path d="M284.4 145.5L297.6 138.6L296.8 136.7L283.7 143.5Z" fill="#06ffff" stroke="#06ffff"/>
<path d="M129 153L142.1 159.8L142.7 157.7L129.7 151Z" fill="#02adb3" stroke="#02adb3"/>
<path d="M142.1 159.8L155.9 164.9L156.4 162.8L142.7 157.7Z" fill="#03c1c8" stroke="#03c1c8"/>
<path d="M155.9 164.9L170.3 168.2L170.7 166.1L156.4 162.8Z" fill="#04dae3" stroke="#04dae3"/>
<path d="M170.3 168.2L185 169.7L185.2 167.6L170.7 166.1Z" fill="#05f4fd" stroke="#05f4fd"/>
<path d="M185 169.7L199.8 169.7L199.8 167.5L185.2 167.6Z" fill="#06ffff" stroke="#06ffff"/>
<path d="M199.8 169.7L214.5 168.2L214.4 165.9L199.8 167.5Z" fill="#07ffff" stroke="#07ffff"/>
<path d="M214.5 168.2L228.9 165.3L228.7 163L214.4 165.9Z" fill="#07ffff" stroke="#07ffff"/>
<path d="M228.9 165.3L243.1 161.1L242.8 158.9L228.7 163Z" fill="#07ffff" stroke="#07ffff"/>
<path d="M243.1 161.1L256.9 155.9L256.5 153.8L242.8 158.9Z" fill="#07ffff" stroke="#07ffff"/>
<path d="M256.9 155.9L270.4 150L269.9 147.9L256.5 153.8Z" fill="#07ffff" stroke="#07ffff"/>
<path d="M270.4 150L283.7 143.5L283 141.5L269.9 147.9Z" fill="#06ffff" stroke="#06ffff"/>
<path d="M283.7 143.5L296.8 136.7L296 134.8L283 141.5Z" fill="#06ffff" stroke="#06ffff"/>
<path d="M129.7 151L142.7 157.7L143.2 155.7L130.4 149.1Z" fill="#02a5b3" stroke="#02a5b3"/>
<path d="M142.7 157.7L156.4 162.8L156.8 160.7L143.2 155.7Z" fill="#03b7c8" stroke="#03b7c8"/>
<path d="M156.4 162.8L170.7 166.1L171 163.9L156.8 160.7Z" fill="#04d0e3" stroke="#04d0e3"/>
<path d="M170.7 166.1L185.2 167.6L185.4 165.4L171 163.9Z" fill="#05e8fe" stroke="#05e8fe"/>
<path d="M185.2 167.6L199.8 167.5L199.9 165.3L185.4 165.4Z" fill="#06feff" stroke="#06feff"/>
<path d="M199.8 167.5L214.4 165.9L214.3 163.7L199.9 165.3Z" fill="#07ffff" stroke="#07ffff"/>
<path d="M214.4 165.9L228.7 163L228.5 160.8L214.3 163.7Z" fill="#07ffff" stroke="#07ffff"/>
<path d="M228.7 163L242.8 158.9L242.4 156.7L228.5 160.8Z" fill="#07ffff" stroke="#07ffff"/>
<path d="M242.8 158.9L256.5 153.8L256 151.6L242.4 156.7Z" fill="#07ffff" stroke="#07ffff"/>
<path d="M256.5 153.8L269.9 147.9L269.3 145.8L256 151.6Z" fill="#07ffff" stroke="#07ffff"/>
<path d="M269.9 147.9L283 141.5L282.4 139.5L269.3 145.8Z" fill="#06ffff" stroke="#06ffff"/>
<path d="M283 141.5L296 134.8L295.3 132.8L282.4 139.5Z" fill="#06ffff" stroke="#06ffff"/>
<path d="M130.4 149.1L143.2 155.7L143.8 153.7L131 147.2Z" fill="#029cb3" stroke="#029cb3"/>
<path d="M143.2 155.7L156.8 160.7L157.3 158.6L143.8 153.7Z" fill="#03aec9" stroke="#03aec9"/>
<path d="M156.8 160.7L171 163.9L171.3 161.8L157.3 158.6Z" fill="#04c5e4" stroke="#04c5e4"/>
<path d="M171 163.9L185.4 165.4L185.6 163.2L171.3 161.8Z" fill="#05ddfe" stroke="#05ddfe"/>
<path d="M185.4 165.4L199.9 165.3L200 163L185.6 163.2Z" fill="#06f1ff" stroke="#06f1ff"/>
<path d="M199.9 165.3L214.3 163.7L214.3 161.5L200 163Z" fill="#07ffff" stroke="#07ffff"/>
<path d="M214.3 163.7L228.5 160.8L228.4 158.6L214.3 161.5Z" fill="#07ffff" stroke="#07ffff"/>
<path d="M228.5 160.8L242.4 156.7L242.1 154.5L228.4 158.6Z" fill="#07ffff" stroke="#07ffff"/>
<path d="M242.4 156.7L256 151.6L255.6 149.5L242.1 154.5Z" fill="#07ffff" stroke="#07ffff"/>
<path d="M256 151.6L269.3 145.8L268.8 143.7L255.6 149.5Z" fill="#07ffff" stroke="#07ffff"/>
<path d="M269.3 145.8L282.4 139.5L281.7 137.5L268.8 143.7Z" fill="#06ffff" stroke="#06ffff"/>
<path d="M282.4 139.5L295.3 132.8L294.5 130.9L281.7 137.5Z" fill="#06ffff" stroke="#06ffff"/>
<path d="M131 147.2L143.8 153.7L144.4 151.7L131.7 145.2Z" fill="#0294b4" stroke="#0294b4"/>
<path d="M143.8 153.7L157.3 158.6L157.8 156.5L144.4 151.7Z" fill="#03a4c9" stroke="#03a4c9"/>
<path d="M157.3 158.6L171.3 161.8L171.7 159.6L157.8 156.5Z" fill="#04bae4" stroke="#04bae4"/>
<path d="M171.3 161.8L185.6 163.2L185.8 161L171.7 159.6Z" fill="#05d1ff" stroke="#05d1ff"/>
<path d="M185.6 163.2L200 163L200.1 160.8L185.8 161Z" fill="#06e4ff" stroke="#06e4ff"/>
<path d="M200 163L214.3 161.5L214.2 159.2L200.1 160.8Z" fill="#07f4ff" stroke="#07f4ff"/>
<path d="M214.3 161.5L228.4 158.6L228.2 156.3L214.2 159.2Z" fill="#07feff" stroke="#07feff"/>
<path d="M228.4 158.6L242.1 154.5L241.8 152.3L228.2 156.3Z" fill="#07feff" stroke="#07feff"/>
<path d="M242.1 154.5L255.6 149.5L255.2 147.3L241.8 152.3Z" fill="#07ffff" stroke="#07ffff"/>
<path d="M255.6 149.5L268.8 143.7L268.2 141.6L255.2 147.3Z" fill="#07ffff" stroke="#07ffff"/>
<path d="M268.8 143.7L281.7 137.5L281 135.4L268.2 141.6Z" fill="#06ffff" stroke="#06ffff"/>
<path d="M281.7 137.5L294.5 130.9L293.7 129L281 135.4Z" fill="#06ffff" stroke="#06ffff"/>
<path d="M131.7 145.2L144.4 151.7L145 149.6L132.4 143.3Z" fill="#028bb4" stroke="#028bb4"/>
<path d="M144.4 151.7L157.8 156.5L158.3 154.4L145 149.6Z" fill="#039bc9" stroke="#039bc9"/>
<path d="M157.8 156.5L171.7 159.6L172 157.4L158.3 154.4Z" fill="#04b0e4" stroke="#04b0e4"/>
<path d="M171.7 159.6L185.8 161L186.1 158.8L172 157.4Z" fill="#05c5ff" stroke="#05c5ff"/>
<path d="M185.8 161L200.1 160.8L200.2 158.6L186.1 158.8Z" fill="#06d7ff" stroke="#06d7ff"/>
<path d="M200.1 160.8L214.2 159.2L214.2 157L200.2 158.6Z" fill="#07e6ff" stroke="#07e6ff"/>
<path d="M214.2 159.2L228.2 156.3L228 154.1L214.2 157Z" fill="#07efff" stroke="#07efff"/>
<path d="M228.2 156.3L241.8 152.3L241.5 150.1L228 154.1Z" fill="#07f0ff" stroke="#07f0ff"/>
<path d="M241.8 152.3L255.2 147.3L254.7 145.1L241.5 150.1Z" fill="#07f0ff" stroke="#07f0ff"/>
<path d="M255.2 147.3L268.2 141.6L267.7 139.5L254.7 145.1Z" fill="#07f0ff" stroke="#07f0ff"/>
<path d="M268.2 141.6L281 135.4L280.4 133.4L267.7 139.5Z" fill="#06f1ff" stroke="#06f1ff"/>
<path d="M281 135.4L293.7 129L293 127L280.4 133.4Z" fill="#06f1ff" stroke="#06f1ff"/>
<path d="M132.4 143.3L145 149.6L145.6 147.6L133.1 141.3Z" fill="#0283b4" stroke="#0283b4"/>
<path d="M145 149.6L158.3 154.4L158.7 152.3L145.6 147.6Z" fill="#0391ca" stroke="#0391ca"/>
<path d="M158.3 154.4L172 157.4L172.4 155.3L158.7 152.3Z" fill="#04a5e5" stroke="#04a5e5"/>
<path d="M172 157.4L186.1 158.8L186.3 156.6L172.4 155.3Z" fill="#05b9ff" stroke="#05b9ff"/>
<path d="M186.1 158.8L200.2 158.6L200.3 156.3L186.3 156.6Z" fill="#06caff" stroke="#06caff"/>
<path d="M200.2 158.6L214.2 157L214.1 154.7L200.3 156.3Z" fill="#07d8ff" stroke="#07d8ff"/>
<path d="M214.2 157L228 154.1L227.8 151.9L214.1 154.7Z" fill="#07e0ff" stroke="#07e0ff"/>
<path d="M228 154.1L241.5 150.1L241.2 147.9L227.8 151.9Z" fill="#07e1ff" stroke="#07e1ff"/>
<path d="M241.5 150.1L254.7 145.1L254.3 143L241.2 147.9Z" fill="#07e1ff" stroke="#07e1ff"/>
<path d="M254.7 145.1L267.7 139.5L267.1 137.4L254.3 143Z" fill="#07e2ff" stroke="#07e2ff"/>
<path d="M267.7 139.5L280.4 133.4L279.8 131.4L267.1 137.4Z" fill="#06e2ff" stroke="#06e2ff"/>
<path d="M280.4 133.4L293 127L292.2 125.1L279.8 131.4Z" fill="#06e2ff" stroke="#06e2ff"/>
<path d="M133.1 141.3L145.6 147.6L146.2 145.6L133.8 139.4Z" fill="#027ab5" stroke="#027ab5"/>
<path d="M145.6 147.6L158.7 152.3L159.2 150.2L146.2 145.6Z" fill="#0388ca" stroke="#0388ca"/>
<path d="M158.7 152.3L172.4 155.3L172.7 153.1L159.2 150.2Z" fill="#049be5" stroke="#049be5"/>
<path d="M172.4 155.3L186.3 156.6L186.5 154.4L172.7 153.1Z" fill="#05adff" stroke="#05adff"/>
<path d="M186.3 156.6L200.3 156.3L200.4 154.1L186.5 154.4Z" fill="#06bdff" stroke="#06bdff"/>
<path d="M200.3 156.3L214.1 154.7L214.1 152.5L200.4 154.1Z" fill="#07caff" stroke="#07caff"/>
<path d="M214.1 154.7L227.8 151.9L227.6 149.6L214.1 152.5Z" fill="#07d2ff" stroke="#07d2ff"/>
<path d="M227.8 151.9L241.2 147.9L240.9 145.7L227.6 149.6Z" fill="#07d2ff" stroke="#07d2ff"/>
<path d="M241.2 147.9L254.3 143L253.9 140.8L240.9 145.7Z" fill="#07d3ff" stroke="#07d3ff"/>
<path d="M254.3 143L267.1 137.4L266.6 135.3L253.9 140.8Z" fill="#07d3ff" stroke="#07d3ff"/>
<path d="M267.1 137.4L279.8 131.4L279.1 129.4L266.6 135.3Z" fill="#06d3ff" stroke="#06d3ff"/>
<path d="M279.8 131.4L292.2 125.1L291.5 123.2L279.1 129.4Z" fill="#06d4ff" stroke="#06d4ff"/>
<path d="M133.8 139.4L146.2 145.6L146.8 143.5L134.5 137.4Z" fill="#0272b5" stroke="#0272b5"/>
<path d="M146.2 145.6L159.2 150.2L159.7 148.1L146.8 143.5Z" fill="#037fcb" stroke="#037fcb"/>
<path d="M159.2 150.2L172.7 153.1L173.1 150.9L159.7 148.1Z" fill="#0490e6" stroke="#0490e6"/>
<path d="M172.7 153.1L186.5 154.4L186.7 152.2L173.1 150.9Z" fill="#05a1ff" stroke="#05a1ff"/>
<path d="M186.5 154.4L200.4 154.1L200.5 151.9L186.7 152.2Z" fill="#06b0ff" stroke="#06b0ff"/>
<path d="M200.4 154.1L214.1 152.5L214.1 150.2L200.5 151.9Z" fill="#07bcff" stroke="#07bcff"/>
<path d="M214.1 152.5L227.6 149.6L227.5 147.4L214.1 150.2Z" fill="#07c3ff" stroke="#07c3ff"/>
<path d="M227.6 149.6L240.9 145.7L240.6 143.5L227.5 147.4Z" fill="#07c3ff" stroke="#07c3ff"/>
<path d="M240.9 145.7L253.9 140.8L253.5 138.7L240.6 143.5Z" fill="#07c4ff" stroke="#07c4ff"/>
<path d="M253.9 140.8L266.6 135.3L266.1 133.2L253.5 138.7Z" fill="#06c4ff" stroke="#06c4ff"/>
<path d="M266.6 135.3L279.1 129.4L278.5 127.4L266.1 133.2Z" fill="#06c4ff" stroke="#06c4ff"/>
<path d="M279.1 129.4L291.5 123.2L290.7 121.2L278.5 127.4Z" fill="#06c5ff" stroke="#06c5ff"/>
<path d="M134.5 137.4L146.8 143.5L147.4 141.5L135.2 135.5Z" fill="#0269b5" stroke="#0269b5"/>
<path d="M146.8 143.5L159.7 148.1L160.2 146L147.4 141.5Z" fill="#0375cb" stroke="#0375cb"/>
<path d="M159.7 148.1L173.1 150.9L173.5 148.8L160.2 146Z" fill="#0485e6" stroke="#0485e6"/>
<path d="M173.1 150.9L186.7 152.2L187 149.9L173.5 148.8Z" fill="#0595ff" stroke="#0595ff"/>
<path d="M186.7 152.2L200.5 151.9L200.6 149.6L187 149.9Z" fill="#06a3ff" stroke="#06a3ff"/>
<path d="M200.5 151.9L214.1 150.2L214 148L200.6 149.6Z" fill="#07aeff" stroke="#07aeff"/>
<path d="M214.1 150.2L227.5 147.4L227.3 145.1L214 148Z" fill="#07b4ff" stroke="#07b4ff"/>
<path d="M227.5 147.4L240.6 143.5L240.3 141.2L227.3 145.1Z" fill="#07b5ff" stroke="#07b5ff"/>
<path d="M240.6 143.5L253.5 138.7L253.1 136.5L240.3 141.2Z" fill="#07b5ff" stroke="#07b5ff"/>
<path d="M253.5 138.7L266.1 133.2L265.6 131.2L253.1 136.5Z" fill="#06b5ff" stroke="#06b5ff"/>
<path d="M266.1 133.2L278.5 127.4L277.8 125.4L265.6 131.2Z" fill="#06b6ff" stroke="#06b6ff"/>
<path d="M278.5 127.4L290.7 121.2L290 119.3L277.8 125.4Z" fill="#06b6ff" stroke="#06b6ff"/>
<path d="M135.2 135.5L147.4 141.5L148 139.4L135.9 133.5Z" fill="#0261b6" stroke="#0261b6"/>
<path d="M147.4 141.5L160.2 146L160.7 143.9L148 139.4Z" fill="#036ccc" stroke="#036ccc"/>
<path d="M160.2 146L173.5 148.8L173.8 146.6L160.7 143.9Z" fill="#047ae7" stroke="#047ae7"/>
<path d="M173.5 148.8L187 149.9L187.2 147.7L173.8 146.6Z" fill="#0589ff" stroke="#0589ff"/>
<path d="M187 149.9L200.6 149.6L200.7 147.4L187.2 147.7Z" fill="#0696ff" stroke="#0696ff"/>
<path d="M200.6 149.6L214 148L214 145.7L200.7 147.4Z" fill="#07a0ff" stroke="#07a0ff"/>
<path d="M214 148L227.3 145.1L227.2 142.9L214 145.7Z" fill="#07a5ff" stroke="#07a5ff"/>
<path d="M227.3 145.1L240.3 141.2L240 139L227.2 142.9Z" fill="#07a6ff" stroke="#07a6ff"/>
<path d="M240.3 141.2L253.1 136.5L252.7 134.4L240 139Z" fill="#07a6ff" stroke="#07a6ff"/>
<path d="M253.1 136.5L265.6 131.2L265 129.1L252.7 134.4Z" fill="#06a7ff" stroke="#06a7ff"/>
<path d="M265.6 131.2L277.8 125.4L277.2 123.4L265 129.1Z" fill="#06a7ff" stroke="#06a7ff"/>
<path d="M277.8 125.4L290 119.3L289.3 117.4L277.2 123.4Z" fill="#06a7ff" stroke="#06a7ff"/>
<path d="M135.9 133.5L148 139.4L148.6 137.4L136.6 131.5Z" fill="#0258b6" stroke="#0258b6"/>
<path d="M148 139.4L160.7 143.9L161.2 141.7L148.6 137.4Z" fill="#0362cc" stroke="#0362cc"/>
<path d="M160.7 143.9L173.8 146.6L174.2 144.4L161.2 141.7Z" fill="#0470e8" stroke="#0470e8"/>
<path d="M173.8 146.6L187.2 147.7L187.5 145.5L174.2 144.4Z" fill="#057dff" stroke="#057dff"/>
<path d="M187.2 147.7L200.7 147.4L200.8 145.1L187.5 145.5Z" fill="#0689ff" stroke="#0689ff"/>
<path d="M200.7 147.4L214 145.7L214 143.5L200.8 145.1Z" fill="#0792ff" stroke="#0792ff"/>
<path d="M214 145.7L227.2 142.9L227 140.7L214 143.5Z" fill="#0797ff" stroke="#0797ff"/>
<path d="M227.2 142.9L240 139L239.8 136.8L227 140.7Z" fill="#0797ff" stroke="#0797ff"/>
<path d="M240 139L252.7 134.4L252.3 132.2L239.8 136.8Z" fill="#0797ff" stroke="#0797ff"/>
<path d="M252.7 134.4L265 129.1L264.5 127L252.3 132.2Z" fill="#0698ff" stroke="#0698ff"/>
<path d="M265 129.1L277.2 123.4L276.6 121.3L264.5 127Z" fill="#0698ff" stroke="#0698ff"/>
<path d="M277.2 123.4L289.3 117.4L288.5 115.4L276.6 121.3Z" fill="#0698ff" stroke="#0698ff"/>
<path d="M136.6 131.5L148.6 137.4L149.2 135.3L137.3 129.5Z" fill="#024fb7" stroke="#024fb7"/>
<path d="M148.6 137.4L161.2 141.7L161.7 139.6L149.2 135.3Z" fill="#0358cd" stroke="#0358cd"/>
<path d="M161.2 141.7L174.2 144.4L174.6 142.2L161.7 139.6Z" fill="#0465e8" stroke="#0465e8"/>
<path d="M174.2 144.4L187.5 145.5L187.7 143.3L174.6 142.2Z" fill="#0571ff" stroke="#0571ff"/>
<path d="M187.5 145.5L200.8 145.1L200.9 142.9L187.7 143.3Z" fill="#067cff" stroke="#067cff"/>
<path d="M200.8 145.1L214 143.5L214 141.2L200.9 142.9Z" fill="#0784ff" stroke="#0784ff"/>
<path d="M214 143.5L227 140.7L226.9 138.4L214 141.2Z" fill="#0788ff" stroke="#0788ff"/>
<path d="M227 140.7L239.8 136.8L239.5 134.6L226.9 138.4Z" fill="#0788ff" stroke="#0788ff"/>
<path d="M239.8 136.8L252.3 132.2L251.9 130L239.5 134.6Z" fill="#0789ff" stroke="#0789ff"/>
<path d="M252.3 132.2L264.5 127L264 124.9L251.9 130Z" fill="#0689ff" stroke="#0689ff"/>
<path d="M264.5 127L276.6 121.3L276 119.3L264 124.9Z" fill="#0689ff" stroke="#0689ff"/>
<path d="M276.6 121.3L288.5 115.4L287.8 113.5L276 119.3Z" fill="#0689ff" stroke="#0689ff"/>
<path d="M137.3 129.5L149.2 135.3L149.8 133.2L138 127.6Z" fill="#0247b8" stroke="#0247b8"/>
<path d="M149.2 135.3L161.7 139.6L162.2 137.5L149.8 133.2Z" fill="#034fce" stroke="#034fce"/>
<path d="M161.7 139.6L174.6 142.2L175 140L162.2 137.5Z" fill="#045ae9" stroke="#045ae9"/>
<path d="M174.6 142.2L187.7 143.3L188 141L175 140Z" fill="#0565ff" stroke="#0565ff"/>
<path d="M187.7 143.3L200.9 142.9L201 140.6L188 141Z" fill="#066eff" stroke="#066eff"/>
<path d="M200.9 142.9L214 141.2L214 139L201 140.6Z" fill="#0775ff" stroke="#0775ff"/>
<path d="M214 141.2L226.9 138.4L226.7 136.2L214 139Z" fill="#0779ff" stroke="#0779ff"/>
<path d="M226.9 138.4L239.5 134.6L239.2 132.4L226.7 136.2Z" fill="#077aff" stroke="#077aff"/>
<path d="M239.5 134.6L251.9 130L251.5 127.9L239.2 132.4Z" fill="#077aff" stroke="#077aff"/>
<path d="M251.9 130L264 124.9L263.5 122.8L251.5 127.9Z" fill="#067aff" stroke="#067aff"/>
<path d="M264 124.9L276 119.3L275.4 117.3L263.5 122.8Z" fill="#067aff" stroke="#067aff"/>
<path d="M276 119.3L287.8 113.5L287.1 111.6L275.4 117.3Z" fill="#067bff" stroke="#067bff"/>
<path d="M138 127.6L149.8 133.2L150.4 131.2L138.8 125.6Z" fill="#023eb8" stroke="#023eb8"/>
<path d="M149.8 133.2L162.2 137.5L162.7 135.3L150.4 131.2Z" fill="#0345ce" stroke="#0345ce"/>
<path d="M162.2 137.5L175 140L175.3 137.8L162.7 135.3Z" fill="#044fea" stroke="#044fea"/>
<path d="M175 140L188 141L188.2 138.8L175.3 137.8Z" fill="#0659ff" stroke="#0659ff"/>
<path d="M188 141L201 140.6L201.1 138.4L188.2 138.8Z" fill="#0661ff" stroke="#0661ff"/>
<path d="M201 140.6L214 139L214 136.7L201.1 138.4Z" fill="#0767ff" stroke="#0767ff"/>
<path d="M214 139L226.7 136.2L226.6 133.9L214 136.7Z" fill="#076aff" stroke="#076aff"/>
<path d="M226.7 136.2L239.2 132.4L239 130.2L226.6 133.9Z" fill="#076bff" stroke="#076bff"/>
<path d="M239.2 132.4L251.5 127.9L251.1 125.7L239 130.2Z" fill="#076bff" stroke="#076bff"/>
<path d="M251.5 127.9L263.5 122.8L263 120.7L251.1 125.7Z" fill="#066bff" stroke="#066bff"/>
<path d="M263.5 122.8L275.4 117.3L274.7 115.3L263 120.7Z" fill="#066cff" stroke="#066cff"/>
<path d="M275.4 117.3L287.1 111.6L286.4 109.6L274.7 115.3Z" fill="#066cff" stroke="#066cff"/>
<path d="M138.8 125.6L150.4 131.2L151.1 129.1L139.5 123.6Z" fill="#0236b9" stroke="#0236b9"/>
<path d="M150.4 131.2L162.7 135.3L163.2 133.2L151.1 129.1Z" fill="#033bcf" stroke="#033bcf"/>
<path d="M162.7 135.3L175.3 137.8L175.7 135.6L163.2 133.2Z" fill="#0444eb" stroke="#0444eb"/>
<path d="M175.3 137.8L188.2 138.8L188.5 136.6L175.7 135.6Z" fill="#064cff" stroke="#064cff"/>
<path d="M188.2 138.8L201.1 138.4L201.3 136.1L188.5 136.6Z" fill="#0654ff" stroke="#0654ff"/>
<path d="M201.1 138.4L214 136.7L213.9 134.4L201.3 136.1Z" fill="#0759ff" stroke="#0759ff"/>
<path d="M214 136.7L226.6 133.9L226.4 131.7L213.9 134.4Z" fill="#075cff" stroke="#075cff"/>
<path d="M226.6 133.9L239 130.2L238.7 128L226.4 131.7Z" fill="#075cff" stroke="#075cff"/>
<path d="M239 130.2L251.1 125.7L250.7 123.6L238.7 128Z" fill="#075cff" stroke="#075cff"/>
<path d="M251.1 125.7L263 120.7L262.5 118.6L250.7 123.6Z" fill="#065dff" stroke="#065dff"/>
<path d="M263 120.7L274.7 115.3L274.1 113.3L262.5 118.6Z" fill="#065dff" stroke="#065dff"/>
<path d="M274.7 115.3L286.4 109.6L285.7 107.7L274.1 113.3Z" fill="#065dff" stroke="#065dff"/>
<path d="M139.5 123.6L151.1 129.1L151.7 127L140.3 121.6Z" fill="#022dba" stroke="#022dba"/>
<path d="M151.1 129.1L163.2 133.2L163.7 131L151.7 127Z" fill="#0332d0" stroke="#0332d0"/>
<path d="M163.2 133.2L175.7 135.6L176.1 133.4L163.7 131Z" fill="#0439ec" stroke="#0439ec"/>
<path d="M175.7 135.6L188.5 136.6L188.8 134.3L176.1 133.4Z" fill="#0640ff" stroke="#0640ff"/>
<path d="M188.5 136.6L201.3 136.1L201.4 133.9L188.8 134.3Z" fill="#0646ff" stroke="#0646ff"/>
<path d="M201.3 136.1L213.9 134.4L213.9 132.2L201.4 133.9Z" fill="#074bff" stroke="#074bff"/>
<path d="M213.9 134.4L226.4 131.7L226.3 129.4L213.9 132.2Z" fill="#074dff" stroke="#074dff"/>
<path d="M226.4 131.7L238.7 128L238.4 125.8L226.3 129.4Z" fill="#074dff" stroke="#074dff"/>
<path d="M238.7 128L250.7 123.6L250.3 121.4L238.4 125.8Z" fill="#074eff" stroke="#074eff"/>
<path d="M250.7 123.6L262.5 118.6L262 116.5L250.3 121.4Z" fill="#064eff" stroke="#064eff"/>
<path d="M262.5 118.6L274.1 113.3L273.5 111.3L262 116.5Z" fill="#064eff" stroke="#064eff"/>
<path d="M274.1 113.3L285.7 107.7L284.9 105.8L273.5 111.3Z" fill="#064eff" stroke="#064eff"/>
<path d="M140.3 121.6L151.7 127L152.3 124.9L141 119.6Z" fill="#0224bb" stroke="#0224bb"/>
<path d="M151.7 127L163.7 131L164.2 128.9L152.3 124.9Z" fill="#0328d1" stroke="#0328d1"/>
<path d="M163.7 131L176.1 133.4L176.5 131.2L164.2 128.9Z" fill="#042eed" stroke="#042eed"/>
<path d="M176.1 133.4L188.8 134.3L189 132.1L176.5 131.2Z" fill="#0634ff" stroke="#0634ff"/>
<path d="M188.8 134.3L201.4 133.9L201.5 131.6L189 132.1Z" fill="#0639ff" stroke="#0639ff"/>
<path d="M201.4 133.9L213.9 132.2L214 129.9L201.5 131.6Z" fill="#073cff" stroke="#073cff"/>
<path d="M213.9 132.2L226.3 129.4L226.2 127.2L214 129.9Z" fill="#073eff" stroke="#073eff"/>
<path d="M226.3 129.4L238.4 125.8L238.2 123.6L226.2 127.2Z" fill="#073eff" stroke="#073eff"/>
<path d="M238.4 125.8L250.3 121.4L249.9 119.3L238.2 123.6Z" fill="#073fff" stroke="#073fff"/>
<path d="M250.3 121.4L262 116.5L261.5 114.5L249.9 119.3Z" fill="#063fff" stroke="#063fff"/>
<path d="M262 116.5L273.5 111.3L272.9 109.3L261.5 114.5Z" fill="#063fff" stroke="#063fff"/>
<path d="M273.5 111.3L284.9 105.8L284.2 103.9L272.9 109.3Z" fill="#063fff" stroke="#063fff"/>
<path d="M141 119.6L152.3 124.9L153 122.9L141.8 117.6Z" fill="#021bbc" stroke="#021bbc"/>
<path d="M152.3 124.9L164.2 128.9L164.8 126.7L153 122.9Z" fill="#031ed2" stroke="#031ed2"/>
<path d="M164.2 128.9L176.5 131.2L176.9 129L164.8 126.7Z" fill="#0423ee" stroke="#0423ee"/>
<path d="M176.5 131.2L189 132.1L189.3 129.8L176.9 129Z" fill="#0627ff" stroke="#0627ff"/>
<path d="M189 132.1L201.5 131.6L201.7 129.3L189.3 129.8Z" fill="#072bff" stroke="#072bff"/>
<path d="M201.5 131.6L214 129.9L214 127.6L201.7 129.3Z" fill="#072eff" stroke="#072eff"/>
<path d="M214 129.9L226.2 127.2L226.1 124.9L214 127.6Z" fill="#072fff" stroke="#072fff"/>
<path d="M226.2 127.2L238.2 123.6L237.9 121.4L226.1 124.9Z" fill="#0730ff" stroke="#0730ff"/>
<path d="M238.2 123.6L249.9 119.3L249.6 117.1L237.9 121.4Z" fill="#0730ff" stroke="#0730ff"/>
<path d="M249.9 119.3L261.5 114.5L261 112.4L249.6 117.1Z" fill="#0630ff" stroke="#0630ff"/>
<path d="M261.5 114.5L272.9 109.3L272.3 107.3L261 112.4Z" fill="#0631ff" stroke="#0631ff"/>
<path d="M272.9 109.3L284.2 103.9L283.5 101.9L272.3 107.3Z" fill="#0631ff" stroke="#0631ff"/>
<path d="M141.8 117.6L153 122.9L153.7 120.8L142.5 115.6Z" fill="#0212bd" stroke="#0212bd"/>
<path d="M153 122.9L164.8 126.7L165.3 124.6L153.7 120.8Z" fill="#0314d3" stroke="#0314d3"/>
<path d="M164.8 126.7L176.9 129L177.4 126.8L165.3 124.6Z" fill="#0517ef" stroke="#0517ef"/>
<path d="M176.9 129L189.3 129.8L189.6 127.6L177.4 126.8Z" fill="#061bff" stroke="#061bff"/>
<path d="M189.3 129.8L201.7 129.3L201.8 127.1L189.6 127.6Z" fill="#071eff" stroke="#071eff"/>
<path d="M201.7 129.3L214 127.6L214 125.4L201.8 127.1Z" fill="#0720ff" stroke="#0720ff"/>
<path d="M214 127.6L226.1 124.9L225.9 122.7L214 125.4Z" fill="#0721ff" stroke="#0721ff"/>
<path d="M226.1 124.9L237.9 121.4L237.7 119.2L225.9 122.7Z" fill="#0721ff" stroke="#0721ff"/>
<path d="M237.9 121.4L249.6 117.1L249.2 115L237.7 119.2Z" fill="#0721ff" stroke="#0721ff"/>
<path d="M249.6 117.1L261 112.4L260.5 110.3L249.2 115Z" fill="#0622ff" stroke="#0622ff"/>
<path d="M261 112.4L272.3 107.3L271.7 105.3L260.5 110.3Z" fill="#0622ff" stroke="#0622ff"/>
<path d="M272.3 107.3L283.5 101.9L282.8 100L271.7 105.3Z" fill="#0622ff" stroke="#0622ff"/>
<path d="M142.5 115.6L153.7 120.8L154.3 118.7L143.3 113.6Z" fill="#0209be" stroke="#0209be"/>
<path d="M153.7 120.8L165.3 124.6L165.9 122.4L154.3 118.7Z" fill="#030ad4" stroke="#030ad4"/>
<path d="M165.3 124.6L177.4 126.8L177.8 124.6L165.9 122.4Z" fill="#050cf0" stroke="#050cf0"/>
<path d="M177.4 126.8L189.6 127.6L189.9 125.3L177.8 124.6Z" fill="#060eff" stroke="#060eff"/>
<path d="M189.6 127.6L201.8 127.1L202 124.8L189.9 125.3Z" fill="#0710ff" stroke="#0710ff"/>
<path d="M201.8 127.1L214 125.4L214 123.1L202 124.8Z" fill="#0711ff" stroke="#0711ff"/>
<path d="M214 125.4L225.9 122.7L225.8 120.4L214 123.1Z" fill="#0712ff" stroke="#0712ff"/>
<path d="M225.9 122.7L237.7 119.2L237.4 116.9L225.8 120.4Z" fill="#0712ff" stroke="#0712ff"/>
<path d="M237.7 119.2L249.2 115L248.8 112.8L237.4 116.9Z" fill="#0713ff" stroke="#0713ff"/>
<path d="M249.2 115L260.5 110.3L260 108.2L248.8 112.8Z" fill="#0613ff" stroke="#0613ff"/>
<path d="M260.5 110.3L271.7 105.3L271.1 103.3L260 108.2Z" fill="#0613ff" stroke="#0613ff"/>
<path d="M271.7 105.3L282.8 100L282.1 98.1L271.1 103.3Z" fill="#0613ff" stroke="#0613ff"/>
<path d="M143.3 113.6L154.3 118.7L155 116.6L144.1 111.6Z" fill="#0503bf" stroke="#0503bf"/>
<path d="M154.3 118.7L165.9 122.4L166.4 120.2L155 116.6Z" fill="#0703d5" stroke="#0703d5"/>
<path d="M165.9 122.4L177.8 124.6L178.2 122.4L166.4 120.2Z" fill="#0905f1" stroke="#0905f1"/>
<path d="M177.8 124.6L189.9 125.3L190.2 123.1L178.2 122.4Z" fill="#0a06ff" stroke="#0a06ff"/>
<path d="M189.9 125.3L202 124.8L202.1 122.5L190.2 123.1Z" fill="#0b07ff" stroke="#0b07ff"/>
<path d="M202 124.8L214 123.1L214 120.8L202.1 122.5Z" fill="#0b07ff" stroke="#0b07ff"/>
<path d="M214 123.1L225.8 120.4L225.7 118.2L214 120.8Z" fill="#0b07ff" stroke="#0b07ff"/>
<path d="M225.8 120.4L237.4 116.9L237.2 114.7L225.7 118.2Z" fill="#0a07ff" stroke="#0a07ff"/>
<path d="M237.4 116.9L248.8 112.8L248.5 110.7L237.2 114.7Z" fill="#0907ff" stroke="#0907ff"/>
<path d="M248.8 112.8L260 108.2L259.6 106.1L248.5 110.7Z" fill="#0906ff" stroke="#0906ff"/>
<path d="M260 108.2L271.1 103.3L270.5 101.2L259.6 106.1Z" fill="#0806ff" stroke="#0806ff"/>
<path d="M271.1 103.3L282.1 98.1L281.4 96.1L270.5 101.2Z" fill="#0806ff" stroke="#0806ff"/>
<path d="M144.1 111.6L155 116.6L155.7 114.5L144.9 109.6Z" fill="#0e03c0" stroke="#0e03c0"/>
<path d="M155 116.6L166.4 120.2L167 118.1L155.7 114.5Z" fill="#1103d6" stroke="#1103d6"/>
<path d="M166.4 120.2L178.2 122.4L178.6 120.1L167 118.1Z" fill="#1405f2" stroke="#1405f2"/>
<path d="M178.2 122.4L190.2 123.1L190.5 120.8L178.6 120.1Z" fill="#1706ff" stroke="#1706ff"/>
<path d="M190.2 123.1L202.1 122.5L202.3 120.2L190.5 120.8Z" fill="#1907ff" stroke="#1907ff"/>
<path d="M202.1 122.5L214 120.8L214 118.6L202.3 120.2Z" fill="#1a07ff" stroke="#1a07ff"/>
<path d="M214 120.8L225.7 118.2L225.6 115.9L214 118.6Z" fill="#1907ff" stroke="#1907ff"/>
<path d="M225.7 118.2L237.2 114.7L237 112.5L225.6 115.9Z" fill="#1907ff" stroke="#1907ff"/>
<path d="M237.2 114.7L248.5 110.7L248.1 108.5L237 112.5Z" fill="#1807ff" stroke="#1807ff"/>
<path d="M248.5 110.7L259.6 106.1L259.1 104L248.1 108.5Z" fill="#1706ff" stroke="#1706ff"/>
<path d="M259.6 106.1L270.5 101.2L269.9 99.2L259.1 104Z" fill="#1706ff" stroke="#1706ff"/>
<path d="M270.5 101.2L281.4 96.1L280.7 94.2L269.9 99.2Z" fill="#1606ff" stroke="#1606ff"/>
<path d="M144.9 109.6L155.7 114.5L156.4 112.4L145.7 107.5Z" fill="#1803c1" stroke="#1803c1"/>
<path d="M155.7 114.5L167 118.1L167.5 115.9L156.4 112.4Z" fill="#1c03d8" stroke="#1c03d8"/>
<path d="M167 118.1L178.6 120.1L179.1 117.9L167.5 115.9Z" fill="#2005f3" stroke="#2005f3"/>
<path d="M178.6 120.1L190.5 120.8L190.8 118.5L179.1 117.9Z" fill="#2406ff" stroke="#2406ff"/>
<path d="M190.5 120.8L202.3 120.2L202.5 118L190.8 118.5Z" fill="#2707ff" stroke="#2707ff"/>
<path d="M202.3 120.2L214 118.6L214.1 116.3L202.5 118Z" fill="#2807ff" stroke="#2807ff"/>
<path d="M214 118.6L225.6 115.9L225.5 113.7L214.1 116.3Z" fill="#2807ff" stroke="#2807ff"/>
<path d="M225.6 115.9L237 112.5L236.7 110.3L225.5 113.7Z" fill="#2707ff" stroke="#2707ff"/>
<path d="M237 112.5L248.1 108.5L247.7 106.4L236.7 110.3Z" fill="#2707ff" stroke="#2707ff"/>
<path d="M248.1 108.5L259.1 104L258.6 101.9L247.7 106.4Z" fill="#2606ff" stroke="#2606ff"/>
<path d="M259.1 104L269.9 99.2L269.3 97.2L258.6 101.9Z" fill="#2606ff" stroke="#2606ff"/>
<path d="M269.9 99.2L280.7 94.2L280 92.3L269.3 97.2Z" fill="#2506ff" stroke="#2506ff"/>
<path d="M145.7 107.5L156.4 112.4L157.1 110.3L146.5 105.5Z" fill="#2103c2" stroke="#2103c2"/>
<path d="M156.4 112.4L167.5 115.9L168.1 113.7L157.1 110.3Z" fill="#2604d9" stroke="#2604d9"/>
<path d="M167.5 115.9L179.1 117.9L179.5 115.7L168.1 113.7Z" fill="#2c05f5" stroke="#2c05f5"/>
<path d="M179.1 117.9L190.8 118.5L191.1 116.3L179.5 115.7Z" fill="#3106ff" stroke="#3106ff"/>
<path d="M190.8 118.5L202.5 118L202.7 115.7L191.1 116.3Z" fill="#3507ff" stroke="#3507ff"/>
<path d="M202.5 118L214.1 116.3L214.1 114L202.7 115.7Z" fill="#3707ff" stroke="#3707ff"/>
<path d="M214.1 116.3L225.5 113.7L225.4 111.4L214.1 114Z" fill="#3707ff" stroke="#3707ff"/>
<path d="M225.5 113.7L236.7 110.3L236.5 108.1L225.4 111.4Z" fill="#3607ff" stroke="#3607ff"/>
<path d="M236.7 110.3L247.7 106.4L247.4 104.2L236.5 108.1Z" fill="#3507ff" stroke="#3507ff"/>
<path d="M247.7 106.4L258.6 101.9L258.1 99.9L247.4 104.2Z" fill="#3506ff" stroke="#3506ff"/>
<path d="M258.6 101.9L269.3 97.2L268.7 95.2L258.1 99.9Z" fill="#3406ff" stroke="#3406ff"/>
<path d="M269.3 97.2L280 92.3L279.2 90.4L268.7 95.2Z" fill="#3406ff" stroke="#3406ff"/>
<path d="M146.5 105.5L157.1 110.3L157.8 108.1L147.4 103.5Z" fill="#2b03c4" stroke="#2b03c4"/>
<path d="M157.1 110.3L168.1 113.7L168.7 111.5L157.8 108.1Z" fill="#3104da" stroke="#3104da"/>
<path d="M168.1 113.7L179.5 115.7L180 113.4L168.7 111.5Z" fill="#3805f6" stroke="#3805f6"/>
<path d="M179.5 115.7L191.1 116.3L191.4 114L180 113.4Z" fill="#3e06ff" stroke="#3e06ff"/>
<path d="M191.1 116.3L202.7 115.7L202.8 113.4L191.4 114Z" fill="#4307ff" stroke="#4307ff"/>
<path d="M202.7 115.7L214.1 114L214.1 111.7L202.8 113.4Z" fill="#4507ff" stroke="#4507ff"/>
<path d="M214.1 114L225.4 111.4L225.3 109.2L214.1 111.7Z" fill="#4507ff" stroke="#4507ff"/>
<path d="M225.4 111.4L236.5 108.1L236.3 105.9L225.3 109.2Z" fill="#4507ff" stroke="#4507ff"/>
<path d="M236.5 108.1L247.4 104.2L247 102L236.3 105.9Z" fill="#4407ff" stroke="#4407ff"/>
<path d="M247.4 104.2L258.1 99.9L257.6 97.8L247 102Z" fill="#4306ff" stroke="#4306ff"/>
<path d="M258.1 99.9L268.7 95.2L268.1 93.2L257.6 97.8Z" fill="#4306ff" stroke="#4306ff"/>
<path d="M268.7 95.2L279.2 90.4L278.5 88.4L268.1 93.2Z" fill="#4206ff" stroke="#4206ff"/>
<path d="M147.4 103.5L157.8 108.1L158.5 106L148.2 101.5Z" fill="#3503c5" stroke="#3503c5"/>
<path d="M157.8 108.1L168.7 111.5L169.3 109.3L158.5 106Z" fill="#3c04dc" stroke="#3c04dc"/>
<path d="M168.7 111.5L180 113.4L180.5 111.2L169.3 109.3Z" fill="#4405f8" stroke="#4405f8"/>
<path d="M180 113.4L191.4 114L191.7 111.7L180.5 111.2Z" fill="#4b06ff" stroke="#4b06ff"/>
<path d="M191.4 114L202.8 113.4L203 111.1L191.7 111.7Z" fill="#5107ff" stroke="#5107ff"/>
<path d="M202.8 113.4L214.1 111.7L214.2 109.4L203 111.1Z" fill="#5407ff" stroke="#5407ff"/>
<path d="M214.1 111.7L225.3 109.2L225.2 106.9L214.2 109.4Z" fill="#5407ff" stroke="#5407ff"/>
<path d="M225.3 109.2L236.3 105.9L236 103.7L225.2 106.9Z" fill="#5307ff" stroke="#5307ff"/>
<path d="M236.3 105.9L247 102L246.7 99.9L236 103.7Z" fill="#5207ff" stroke="#5207ff"/>
<path d="M247 102L257.6 97.8L257.2 95.7L246.7 99.9Z" fill="#5206ff" stroke="#5206ff"/>
<path d="M257.6 97.8L268.1 93.2L267.5 91.2L257.2 95.7Z" fill="#5106ff" stroke="#5106ff"/>
<path d="M268.1 93.2L278.5 88.4L277.8 86.5L267.5 91.2Z" fill="#5106ff" stroke="#5106ff"/>
<path d="M148.2 101.5L158.5 106L159.3 103.9L149.1 99.4Z" fill="#3e03c7" stroke="#3e03c7"/>
<path d="M158.5 106L169.3 109.3L169.9 107.1L159.3 103.9Z" fill="#4704de" stroke="#4704de"/>
<path d="M169.3 109.3L180.5 111.2L180.9 108.9L169.9 107.1Z" fill="#5005f9" stroke="#5005f9"/>
<path d="M180.5 111.2L191.7 111.7L192.1 109.4L180.9 108.9Z" fill="#5906ff" stroke="#5906ff"/>
<path d="M191.7 111.7L203 111.1L203.2 108.8L192.1 109.4Z" fill="#5f07ff" stroke="#5f07ff"/>
<path d="M203 111.1L214.2 109.4L214.2 107.1L203.2 108.8Z" fill="#6307ff" stroke="#6307ff"/>
<path d="M214.2 109.4L225.2 106.9L225.1 104.6L214.2 107.1Z" fill="#6207ff" stroke="#6207ff"/>
<path d="M225.2 106.9L236 103.7L235.8 101.5L225.1 104.6Z" fill="#6207ff" stroke="#6207ff"/>
<path d="M236 103.7L246.7 99.9L246.3 97.7L235.8 101.5Z" fill="#6107ff" stroke="#6107ff"/>
<path d="M246.7 99.9L257.2 95.7L256.7 93.6L246.3 97.7Z" fill="#6006ff" stroke="#6006ff"/>
<path d="M257.2 95.7L267.5 91.2L266.9 89.2L256.7 93.6Z" fill="#6006ff" stroke="#6006ff"/>
<path d="M267.5 91.2L277.8 86.5L277.1 84.6L266.9 89.2Z" fill="#6006ff" stroke="#6006ff"/>
<path d="M149.1 99.4L159.3 103.9L160 101.8L149.9 97.4Z" fill="#4903c8" stroke="#4903c8"/>
<path d="M159.3 103.9L169.9 107.1L170.6 104.9L160 101.8Z" fill="#5204df" stroke="#5204df"/>
<path d="M169.9 107.1L180.9 108.9L181.4 106.7L170.6 104.9Z" fill="#5c05fb" stroke="#5c05fb"/>
<path d="M180.9 108.9L192.1 109.4L192.4 107.1L181.4 106.7Z" fill="#6606ff" stroke="#6606ff"/>
<path d="M192.1 109.4L203.2 108.8L203.4 106.5L192.4 107.1Z" fill="#6d07ff" stroke="#6d07ff"/>
<path d="M203.2 108.8L214.2 107.1L214.3 104.8L203.4 106.5Z" fill="#7107ff" stroke="#7107ff"/>
<path d="M214.2 107.1L225.1 104.6L225 102.4L214.3 104.8Z" fill="#7107ff" stroke="#7107ff"/>
<path d="M225.1 104.6L235.8 101.5L235.6 99.2L225 102.4Z" fill="#7007ff" stroke="#7007ff"/>
<path d="M235.8 101.5L246.3 97.7L246 95.6L235.6 99.2Z" fill="#7007ff" stroke="#7007ff"/>
<path d="M246.3 97.7L256.7 93.6L256.2 91.5L246 95.6Z" fill="#6f06ff" stroke="#6f06ff"/>
<path d="M256.7 93.6L266.9 89.2L266.3 87.2L256.2 91.5Z" fill="#6f06ff" stroke="#6f06ff"/>
<path d="M266.9 89.2L277.1 84.6L276.4 82.7L266.3 87.2Z" fill="#6e06ff" stroke="#6e06ff"/>
<path d="M149.9 97.4L160 101.8L160.8 99.6L150.8 95.3Z" fill="#5303ca" stroke="#5303ca"/>
<path d="M160 101.8L170.6 104.9L171.2 102.7L160.8 99.6Z" fill="#5d04e1" stroke="#5d04e1"/>
<path d="M170.6 104.9L181.4 106.7L181.9 104.4L171.2 102.7Z" fill="#6905fc" stroke="#6905fc"/>
<path d="M181.4 106.7L192.4 107.1L192.8 104.9L181.9 104.4Z" fill="#7306ff" stroke="#7306ff"/>
<path d="M192.4 107.1L203.4 106.5L203.6 104.2L192.8 104.9Z" fill="#7b07ff" stroke="#7b07ff"/>
<path d="M203.4 106.5L214.3 104.8L214.4 102.5L203.6 104.2Z" fill="#8007ff" stroke="#8007ff"/>
<path d="M214.3 104.8L225 102.4L225 100.1L214.4 102.5Z" fill="#7f07ff" stroke="#7f07ff"/>
<path d="M225 102.4L235.6 99.2L235.4 97L225 100.1Z" fill="#7f07ff" stroke="#7f07ff"/>
<path d="M235.6 99.2L246 95.6L245.6 93.4L235.4 97Z" fill="#7e07ff" stroke="#7e07ff"/>
<path d="M246 95.6L256.2 91.5L255.7 89.4L245.6 93.4Z" fill="#7e06ff" stroke="#7e06ff"/>
<path d="M256.2 91.5L266.3 87.2L265.7 85.2L255.7 89.4Z" fill="#7d06ff" stroke="#7d06ff"/>
<path d="M266.3 87.2L276.4 82.7L275.6 80.7L265.7 85.2Z" fill="#7d06ff" stroke="#7d06ff"/>
<path d="M150.8 95.3L160.8 99.6L161.6 97.5L151.7 93.3Z" fill="#5d03cc" stroke="#5d03cc"/>
<path d="M160.8 99.6L171.2 102.7L171.9 100.5L161.6 97.5Z" fill="#6804e3" stroke="#6804e3"/>
<path d="M171.2 102.7L181.9 104.4L182.4 102.1L171.9 100.5Z" fill="#7505fe" stroke="#7505fe"/>
<path d="M181.9 104.4L192.8 104.9L193.2 102.6L182.4 102.1Z" fill="#8106ff" stroke="#8106ff"/>
<path d="M192.8 104.9L203.6 104.2L203.8 101.9L193.2 102.6Z" fill="#8a07ff" stroke="#8a07ff"/>
<path d="M203.6 104.2L214.4 102.5L214.4 100.3L203.8 101.9Z" fill="#8e07ff" stroke="#8e07ff"/>
<path d="M214.4 102.5L225 100.1L224.9 97.8L214.4 100.3Z" fill="#8e07ff" stroke="#8e07ff"/>
<path d="M225 100.1L235.4 97L235.2 94.8L224.9 97.8Z" fill="#8d07ff" stroke="#8d07ff"/>
<path d="M235.4 97L245.6 93.4L245.3 91.3L235.2 94.8Z" fill="#8d07ff" stroke="#8d07ff"/>
<path d="M245.6 93.4L255.7 89.4L255.3 87.4L245.3 91.3Z" fill="#8c06ff" stroke="#8c06ff"/>
<path d="M255.7 89.4L265.7 85.2L265.1 83.2L255.3 87.4Z" fill="#8c06ff" stroke="#8c06ff"/>
<path d="M265.7 85.2L275.6 80.7L274.9 78.8L265.1 83.2Z" fill="#8b06ff" stroke="#8b06ff"/>
<path d="M151.7 93.3L161.6 97.5L162.4 95.4L152.6 91.2Z" fill="#6803ce" stroke="#6803ce"/>
<path d="M161.6 97.5L171.9 100.5L172.5 98.3L162.4 95.4Z" fill="#7404e5" stroke="#7404e5"/>
<path d="M171.9 100.5L182.4 102.1L183 99.9L172.5 98.3Z" fill="#8205ff" stroke="#8205ff"/>
<path d="M182.4 102.1L193.2 102.6L193.5 100.3L183 99.9Z" fill="#8f06ff" stroke="#8f06ff"/>
<path d="M193.2 102.6L203.8 101.9L204.1 99.6L193.5 100.3Z" fill="#9807ff" stroke="#9807ff"/>
<path d="M203.8 101.9L214.4 100.3L214.5 98L204.1 99.6Z" fill="#9d07ff" stroke="#9d07ff"/>
<path d="M214.4 100.3L224.9 97.8L224.8 95.6L214.5 98Z" fill="#9c07ff" stroke="#9c07ff"/>
<path d="M224.9 97.8L235.2 94.8L235 92.6L224.8 95.6Z" fill="#9c07ff" stroke="#9c07ff"/>
<path d="M235.2 94.8L245.3 91.3L244.9 89.1L235 92.6Z" fill="#9b07ff" stroke="#9b07ff"/>
<path d="M245.3 91.3L255.3 87.4L254.8 85.3L244.9 89.1Z" fill="#9a07ff" stroke="#9a07ff"/>
<path d="M255.3 87.4L265.1 83.2L264.5 81.2L254.8 85.3Z" fill="#9a06ff" stroke="#9a06ff"/>
<path d="M265.1 83.2L274.9 78.8L274.2 76.9L264.5 81.2Z" fill="#9a06ff" stroke="#9a06ff"/>
<path d="M152.6 91.2L162.4 95.4L163.2 93.2L153.6 89.2Z" fill="#7203d0" stroke="#7203d0"/>
<path d="M162.4 95.4L172.5 98.3L173.2 96L163.2 93.2Z" fill="#8004e6" stroke="#8004e6"/>
<path d="M172.5 98.3L183 99.9L183.5 97.6L173.2 96Z" fill="#8f05ff" stroke="#8f05ff"/>
<path d="M183 99.9L193.5 100.3L193.9 97.9L183.5 97.6Z" fill="#9d06ff" stroke="#9d06ff"/>
<path d="M193.5 100.3L204.1 99.6L204.3 97.2L193.9 97.9Z" fill="#a707ff" stroke="#a707ff"/>
<path d="M204.1 99.6L214.5 98L214.6 95.7L204.3 97.2Z" fill="#ab07ff" stroke="#ab07ff"/>
<path d="M214.5 98L224.8 95.6L224.8 93.3L214.6 95.7Z" fill="#ab07ff" stroke="#ab07ff"/>
<path d="M224.8 95.6L235 92.6L234.8 90.4L224.8 93.3Z" fill="#aa07ff" stroke="#aa07ff"/>
<path d="M235 92.6L244.9 89.1L244.6 87L234.8 90.4Z" fill="#a907ff" stroke="#a907ff"/>
<path d="M244.9 89.1L254.8 85.3L254.3 83.2L244.6 87Z" fill="#a907ff" stroke="#a907ff"/>
<path d="M254.8 85.3L264.5 81.2L263.9 79.2L254.3 83.2Z" fill="#a806ff" stroke="#a806ff"/>
<path d="M264.5 81.2L274.2 76.9L273.5 75L263.9 79.2Z" fill="#a806ff" stroke="#a806ff"/>
<path d="M153.6 89.2L163.2 93.2L164 91L154.5 87.1Z" fill="#7d03d2" stroke="#7d03d2"/>
<path d="M163.2 93.2L173.2 96L173.9 93.8L164 91Z" fill="#8c04e8" stroke="#8c04e8"/>
<path d="M173.2 96L183.5 97.6L184.1 95.3L173.9 93.8Z" fill="#9c05ff" stroke="#9c05ff"/>
<path d="M183.5 97.6L193.9 97.9L194.3 95.6L184.1 95.3Z" fill="#ab06ff" stroke="#ab06ff"/>
<path d="M193.9 97.9L204.3 97.2L204.5 94.9L194.3 95.6Z" fill="#b507ff" stroke="#b507ff"/>
<path d="M204.3 97.2L214.6 95.7L214.7 93.3L204.5 94.9Z" fill="#b907ff" stroke="#b907ff"/>
<path d="M214.6 95.7L224.8 93.3L224.7 91L214.7 93.3Z" fill="#b907ff" stroke="#b907ff"/>
<path d="M224.8 93.3L234.8 90.4L234.5 88.2L224.7 91Z" fill="#b807ff" stroke="#b807ff"/>
<path d="M234.8 90.4L244.6 87L244.3 84.8L234.5 88.2Z" fill="#b807ff" stroke="#b807ff"/>
<path d="M244.6 87L254.3 83.2L253.8 81.1L244.3 84.8Z" fill="#b707ff" stroke="#b707ff"/>
<path d="M254.3 83.2L263.9 79.2L263.3 77.2L253.8 81.1Z" fill="#b706ff" stroke="#b706ff"/>
<path d="M263.9 79.2L273.5 75L272.7 73L263.3 77.2Z" fill="#b606ff" stroke="#b606ff"/>
<path d="M154.5 87.1L164 91L164.9 88.9L155.5 85Z" fill="#8903d4" stroke="#8903d4"/>
<path d="M164 91L173.9 93.8L174.6 91.6L164.9 88.9Z" fill="#9804eb" stroke="#9804eb"/>
<path d="M173.9 93.8L184.1 95.3L184.6 93L174.6 91.6Z" fill="#a905ff" stroke="#a905ff"/>
<path d="M184.1 95.3L194.3 95.6L194.7 93.3L184.6 93Z" fill="#b906ff" stroke="#b906ff"/>
<path d="M194.3 95.6L204.5 94.9L204.8 92.6L194.7 93.3Z" fill="#c407ff" stroke="#c407ff"/>
<path d="M204.5 94.9L214.7 93.3L214.8 91L204.8 92.6Z" fill="#c807ff" stroke="#c807ff"/>
<path d="M214.7 93.3L224.7 91L224.6 88.8L214.8 91Z" fill="#c707ff" stroke="#c707ff"/>
<path d="M224.7 91L234.5 88.2L234.4 85.9L224.6 88.8Z" fill="#c707ff" stroke="#c707ff"/>
<path d="M234.5 88.2L244.3 84.8L243.9 82.7L234.4 85.9Z" fill="#c607ff" stroke="#c607ff"/>
<path d="M244.3 84.8L253.8 81.1L253.4 79L243.9 82.7Z" fill="#c607ff" stroke="#c607ff"/>
<path d="M253.8 81.1L263.3 77.2L262.7 75.2L253.4 79Z" fill="#c506ff" stroke="#c506ff"/>
<path d="M263.3 77.2L272.7 73L272 71.1L262.7 75.2Z" fill="#c506ff" stroke="#c506ff"/>
<path d="M155.5 85L164.9 88.9L165.7 86.7L156.5 83Z" fill="#9403d6" stroke="#9403d6"/>
<path d="M164.9 88.9L174.6 91.6L175.3 89.3L165.7 86.7Z" fill="#a404ed" stroke="#a404ed"/>
<path d="M174.6 91.6L184.6 93L185.2 90.7L175.3 89.3Z" fill="#b705ff" stroke="#b705ff"/>
<path d="M184.6 93L194.7 93.3L195.1 91L185.2 90.7Z" fill="#c707ff" stroke="#c707ff"/>
<path d="M194.7 93.3L204.8 92.6L205.1 90.3L195.1 91Z" fill="#d307ff" stroke="#d307ff"/>
<path d="M204.8 92.6L214.8 91L214.9 88.7L205.1 90.3Z" fill="#d607ff" stroke="#d607ff"/>
<path d="M214.8 91L224.6 88.8L224.6 86.5L214.9 88.7Z" fill="#d507ff" stroke="#d507ff"/>
<path d="M224.6 88.8L234.4 85.9L234.2 83.7L224.6 86.5Z" fill="#d507ff" stroke="#d507ff"/>
<path d="M234.4 85.9L243.9 82.7L243.6 80.5L234.2 83.7Z" fill="#d407ff" stroke="#d407ff"/>
<path d="M243.9 82.7L253.4 79L252.9 77L243.6 80.5Z" fill="#d407ff" stroke="#d407ff"/>
<path d="M253.4 79L262.7 75.2L262.1 73.2L252.9 77Z" fill="#d306ff" stroke="#d306ff"/>
<path d="M262.7 75.2L272 71.1L271.2 69.2L262.1 73.2Z" fill="#d306ff" stroke="#d306ff"/>
<path d="M156.5 83L165.7 86.7L166.6 84.6L157.6 80.9Z" fill="#a003d9" stroke="#a003d9"/>
<path d="M165.7 86.7L175.3 89.3L176.1 87.1L166.6 84.6Z" fill="#b104ef" stroke="#b104ef"/>
<path d="M175.3 89.3L185.2 90.7L185.8 88.4L176.1 87.1Z" fill="#c406ff" stroke="#c406ff"/>
<path d="M185.2 90.7L195.1 91L195.6 88.7L185.8 88.4Z" fill="#d507ff" stroke="#d507ff"/>
<path d="M195.1 91L205.1 90.3L205.3 87.9L195.6 88.7Z" fill="#e207ff" stroke="#e207ff"/>
<path d="M205.1 90.3L214.9 88.7L215 86.4L205.3 87.9Z" fill="#e407ff" stroke="#e407ff"/>
<path d="M214.9 88.7L224.6 86.5L224.6 84.2L215 86.4Z" fill="#e407ff" stroke="#e407ff"/>
<path d="M224.6 86.5L234.2 83.7L234 81.5L224.6 84.2Z" fill="#e307ff" stroke="#e307ff"/>
<path d="M234.2 83.7L243.6 80.5L243.2 78.3L234 81.5Z" fill="#e207ff" stroke="#e207ff"/>
<path d="M243.6 80.5L252.9 77L252.4 74.9L243.2 78.3Z" fill="#e207ff" stroke="#e207ff"/>
<path d="M252.9 77L262.1 73.2L261.5 71.2L252.4 74.9Z" fill="#e206ff" stroke="#e206ff"/>
<path d="M262.1 73.2L271.2 69.2L270.5 67.3L261.5 71.2Z" fill="#e106ff" stroke="#e106ff"/>
<path d="M157.6 80.9L166.6 84.6L167.5 82.4L158.6 78.8Z" fill="#ac03db" stroke="#ac03db"/>
<path d="M166.6 84.6L176.1 87.1L176.9 84.8L167.5 82.4Z" fill="#be04f1" stroke="#be04f1"/>
<path d="M176.1 87.1L185.8 88.4L186.4 86.1L176.9 84.8Z" fill="#d206ff" stroke="#d206ff"/>
<path d="M185.8 88.4L195.6 88.7L196 86.3L186.4 86.1Z" fill="#e407ff" stroke="#e407ff"/>
<path d="M195.6 88.7L205.3 87.9L205.6 85.6L196 86.3Z" fill="#f107ff" stroke="#f107ff"/>
<path d="M205.3 87.9L215 86.4L215.1 84.1L205.6 85.6Z" fill="#f207ff" stroke="#f207ff"/>
<path d="M215 86.4L224.6 84.2L224.5 81.9L215.1 84.1Z" fill="#f207ff" stroke="#f207ff"/>
<path d="M224.6 84.2L234 81.5L233.8 79.3L224.5 81.9Z" fill="#f107ff" stroke="#f107ff"/>
<path d="M234 81.5L243.2 78.3L242.9 76.2L233.8 79.3Z" fill="#f107ff" stroke="#f107ff"/>
<path d="M243.2 78.3L252.4 74.9L251.9 72.8L242.9 76.2Z" fill="#f007ff" stroke="#f007ff"/>
<path d="M252.4 74.9L261.5 71.2L260.8 69.2L251.9 72.8Z" fill="#f007ff" stroke="#f007ff"/>
<path d="M261.5 71.2L270.5 67.3L269.7 65.4L260.8 69.2Z" fill="#f006ff" stroke="#f006ff"/>
<path d="M158.6 78.8L167.5 82.4L168.5 80.2L159.7 76.7Z" fill="#b803de" stroke="#b803de"/>
<path d="M167.5 82.4L176.9 84.8L177.6 82.6L168.5 80.2Z" fill="#cb04f4" stroke="#cb04f4"/>
<path d="M176.9 84.8L186.4 86.1L187 83.8L177.6 82.6Z" fill="#e006ff" stroke="#e006ff"/>
<path d="M186.4 86.1L196 86.3L196.5 84L187 83.8Z" fill="#f307ff" stroke="#f307ff"/>
<path d="M196 86.3L205.6 85.6L205.9 83.3L196.5 84Z" fill="#ff07ff" stroke="#ff07ff"/>
<path d="M205.6 85.6L215.1 84.1L215.3 81.8L205.9 83.3Z" fill="#ff07ff" stroke="#ff07ff"/>
<path d="M215.1 84.1L224.5 81.9L224.5 79.7L215.3 81.8Z" fill="#ff07ff" stroke="#ff07ff"/>
<path d="M224.5 81.9L233.8 79.3L233.6 77L224.5 79.7Z" fill="#ff07ff" stroke="#ff07ff"/>
<path d="M233.8 79.3L242.9 76.2L242.6 74L233.6 77Z" fill="#ff07ff" stroke="#ff07ff"/>
<path d="M242.9 76.2L251.9 72.8L251.4 70.7L242.6 74Z" fill="#fe07ff" stroke="#fe07ff"/>
<path d="M251.9 72.8L260.8 69.2L260.2 67.2L251.4 70.7Z" fill="#fe07ff" stroke="#fe07ff"/>
<path d="M260.8 69.2L269.7 65.4L268.9 63.5L260.2 67.2Z" fill="#fe06ff" stroke="#fe06ff"/>
<path d="M159.7 76.7L168.5 80.2L169.4 78L160.8 74.6Z" fill="#c403e0" stroke="#c403e0"/>
<path d="M168.5 80.2L177.6 82.6L178.4 80.3L169.4 78Z" fill="#d805f6" stroke="#d805f6"/>
<path d="M177.6 82.6L187 83.8L187.7 81.5L178.4 80.3Z" fill="#ee06ff" stroke="#ee06ff"/>
<path d="M187 83.8L196.5 84L197 81.7L187.7 81.5Z" fill="#ff07ff" stroke="#ff07ff"/>
<path d="M196.5 84L205.9 83.3L206.2 80.9L197 81.7Z" fill="#ff07ff" stroke="#ff07ff"/>
<path d="M205.9 83.3L215.3 81.8L215.4 79.5L206.2 80.9Z" fill="#ff08ff" stroke="#ff08ff"/>
<path d="M215.3 81.8L224.5 79.7L224.5 77.4L215.4 79.5Z" fill="#ff07ff" stroke="#ff07ff"/>
<path d="M224.5 79.7L233.6 77L233.4 74.8L224.5 77.4Z" fill="#ff07ff" stroke="#ff07ff"/>
<path d="M233.6 77L242.6 74L242.2 71.9L233.4 74.8Z" fill="#ff07ff" stroke="#ff07ff"/>
<path d="M242.6 74L251.4 70.7L250.9 68.6L242.2 71.9Z" fill="#ff07ff" stroke="#ff07ff"/>
<path d="M251.4 70.7L260.2 67.2L259.6 65.2L250.9 68.6Z" fill="#ff07ff" stroke="#ff07ff"/>
<path d="M260.2 67.2L268.9 63.5L268.2 61.6L259.6 65.2Z" fill="#ff06ff" stroke="#ff06ff"/>
<path d="M160.8 74.6L169.4 78L170.4 75.8L161.9 72.5Z" fill="#d104e3" stroke="#d104e3"/>
<path d="M169.4 78L178.4 80.3L179.3 78.1L170.4 75.8Z" fill="#e605f9" stroke="#e605f9"/>
<path d="M178.4 80.3L187.7 81.5L188.3 79.2L179.3 78.1Z" fill="#fc06ff" stroke="#fc06ff"/>
<path d="M187.7 81.5L197 81.7L197.5 79.3L188.3 79.2Z" fill="#ff07ff" stroke="#ff07ff"/>
<path d="M197 81.7L206.2 80.9L206.5 78.6L197.5 79.3Z" fill="#ff07ff" stroke="#ff07ff"/>
<path d="M206.2 80.9L215.4 79.5L215.6 77.1L206.5 78.6Z" fill="#ff08ff" stroke="#ff08ff"/>
<path d="M215.4 79.5L224.5 77.4L224.5 75.1L215.6 77.1Z" fill="#ff07ff" stroke="#ff07ff"/>
<path d="M224.5 77.4L233.4 74.8L233.2 72.6L224.5 75.1Z" fill="#ff07ff" stroke="#ff07ff"/>
<path d="M233.4 74.8L242.2 71.9L241.9 69.7L233.2 72.6Z" fill="#ff07ff" stroke="#ff07ff"/>
<path d="M242.2 71.9L250.9 68.6L250.5 66.6L241.9 69.7Z" fill="#ff07ff" stroke="#ff07ff"/>
<path d="M250.9 68.6L259.6 65.2L258.9 63.2L250.5 66.6Z" fill="#ff07ff" stroke="#ff07ff"/>
<path d="M259.6 65.2L268.2 61.6L267.4 59.7L258.9 63.2Z" fill="#ff06ff" stroke="#ff06ff"/>
<path d="M161.9 72.5L170.4 75.8L171.5 73.6L163.1 70.4Z" fill="#de04e6" stroke="#de04e6"/>
<path d="M170.4 75.8L179.3 78.1L180.1 75.8L171.5 73.6Z" fill="#f305fc" stroke="#f305fc"/>
<path d="M179.3 78.1L188.3 79.2L189 76.9L180.1 75.8Z" fill="#ff06ff" stroke="#ff06ff"/>
<path d="M188.3 79.2L197.5 79.3L198 77L189 76.9Z" fill="#ff07ff" stroke="#ff07ff"/>
<path d="M197.5 79.3L206.5 78.6L206.9 76.2L198 77Z" fill="#ff07ff" stroke="#ff07ff"/>
<path d="M206.5 78.6L215.6 77.1L215.7 74.8L206.9 76.2Z" fill="#ff08ff" stroke="#ff08ff"/>
<path d="M215.6 77.1L224.5 75.1L224.4 72.8L215.7 74.8Z" fill="#ff07ff" stroke="#ff07ff"/>
<path d="M224.5 75.1L233.2 72.6L233.1 70.4L224.4 72.8Z" fill="#ff07ff" stroke="#ff07ff"/>
<path d="M233.2 72.6L241.9 69.7L241.6 67.6L233.1 70.4Z" fill="#ff07ff" stroke="#ff07ff"/>
<path d="M241.9 69.7L250.5 66.6L250 64.5L241.6 67.6Z" fill="#ff07ff" stroke="#ff07ff"/>
<path d="M250.5 66.6L258.9 63.2L258.3 61.2L250 64.5Z" fill="#ff07ff" stroke="#ff07ff"/>
<path d="M258.9 63.2L267.4 59.7L266.6 57.8L258.3 61.2Z" fill="#ff07ff" stroke="#ff07ff"/>
<path d="M163.1 70.4L171.5 73.6L172.5 71.4L164.3 68.3Z" fill="#e904e6" stroke="#e904e6"/>
<path d="M171.5 73.6L180.1 75.8L181 73.5L172.5 71.4Z" fill="#fe05fb" stroke="#fe05fb"/>
<path d="M180.1 75.8L189 76.9L189.7 74.5L181 73.5Z" fill="#ff06ff" stroke="#ff06ff"/>
<path d="M189 76.9L198 77L198.5 74.6L189.7 74.5Z" fill="#ff07ff" stroke="#ff07ff"/>
<path d="M198 77L206.9 76.2L207.2 73.9L198.5 74.6Z" fill="#ff07ff" stroke="#ff07ff"/>
<path d="M206.9 76.2L215.7 74.8L215.9 72.5L207.2 73.9Z" fill="#ff08ff" stroke="#ff08ff"/>
<path d="M215.7 74.8L224.4 72.8L224.4 70.5L215.9 72.5Z" fill="#ff08ff" stroke="#ff08ff"/>
<path d="M224.4 72.8L233.1 70.4L232.9 68.1L224.4 70.5Z" fill="#ff07ff" stroke="#ff07ff"/>
<path d="M233.1 70.4L241.6 67.6L241.2 65.4L232.9 68.1Z" fill="#ff07ff" stroke="#ff07ff"/>
<path d="M241.6 67.6L250 64.5L249.5 62.4L241.2 65.4Z" fill="#ff07ff" stroke="#ff07ff"/>
<path d="M250 64.5L258.3 61.2L257.6 59.2L249.5 62.4Z" fill="#ff07ff" stroke="#ff07ff"/>
<path d="M258.3 61.2L266.6 57.8L265.8 55.9L257.6 59.2Z" fill="#ff07ff" stroke="#ff07ff"/>
<path d="M164.3 68.3L172.5 71.4L173.6 69.2L165.5 66.2Z" fill="#ec04df" stroke="#ec04df"/>
<path d="M172.5 71.4L181 73.5L181.9 71.2L173.6 69.2Z" fill="#ff05f3" stroke="#ff05f3"/>
<path d="M181 73.5L189.7 74.5L190.5 72.2L181.9 71.2Z" fill="#ff06ff" stroke="#ff06ff"/>
<path d="M189.7 74.5L198.5 74.6L199 72.2L190.5 72.2Z" fill="#ff07ff" stroke="#ff07ff"/>
<path d="M198.5 74.6L207.2 73.9L207.6 71.5L199 72.2Z" fill="#ff08ff" stroke="#ff08ff"/>
<path d="M207.2 73.9L215.9 72.5L216.1 70.1L207.6 71.5Z" fill="#ff08ff" stroke="#ff08ff"/>
<path d="M215.9 72.5L224.4 70.5L224.5 68.2L216.1 70.1Z" fill="#ff08ff" stroke="#ff08ff"/>
<path d="M224.4 70.5L232.9 68.1L232.7 65.9L224.5 68.2Z" fill="#ff07ff" stroke="#ff07ff"/>
<path d="M232.9 68.1L241.2 65.4L240.9 63.2L232.7 65.9Z" fill="#ff07ff" stroke="#ff07ff"/>
<path d="M241.2 65.4L249.5 62.4L249 60.3L240.9 63.2Z" fill="#ff07ff" stroke="#ff07ff"/>
<path d="M249.5 62.4L257.6 59.2L257 57.2L249 60.3Z" fill="#ff07ff" stroke="#ff07ff"/>
<path d="M257.6 59.2L265.8 55.9L264.9 54L257 57.2Z" fill="#ff07ff" stroke="#ff07ff"/>
<path d="M165.5 66.2L173.6 69.2L174.7 67L166.8 64.1Z" fill="#ef04d7" stroke="#ef04d7"/>
<path d="M173.6 69.2L181.9 71.2L182.9 68.9L174.7 67Z" fill="#ff05ea" stroke="#ff05ea"/>
<path d="M181.9 71.2L190.5 72.2L191.2 69.8L182.9 68.9Z" fill="#ff06ff" stroke="#ff06ff"/>
<path d="M190.5 72.2L199 72.2L199.6 69.8L191.2 69.8Z" fill="#ff07ff" stroke="#ff07ff"/>
<path d="M199 72.2L207.6 71.5L208 69.1L199.6 69.8Z" fill="#ff08ff" stroke="#ff08ff"/>
<path d="M207.6 71.5L216.1 70.1L216.3 67.8L208 69.1Z" fill="#ff08ff" stroke="#ff08ff"/>
<path d="M216.1 70.1L224.5 68.2L224.5 65.9L216.3 67.8Z" fill="#ff08ff" stroke="#ff08ff"/>
<path d="M224.5 68.2L232.7 65.9L232.6 63.7L224.5 65.9Z" fill="#ff07ff" stroke="#ff07ff"/>
<path d="M232.7 65.9L240.9 63.2L240.6 61.1L232.6 63.7Z" fill="#ff07ff" stroke="#ff07ff"/>
<path d="M240.9 63.2L249 60.3L248.5 58.3L240.6 61.1Z" fill="#ff07ff" stroke="#ff07ff"/>
<path d="M249 60.3L257 57.2L256.3 55.3L248.5 58.3Z" fill="#ff07ff" stroke="#ff07ff"/>
<path d="M257 57.2L264.9 54L264.1 52.1L256.3 55.3Z" fill="#ff07ff" stroke="#ff07ff"/>
<path d="M166.8 64.1L174.7 67L175.9 64.7L168.1 61.9Z" fill="#f204d0" stroke="#f204d0"/>
<path d="M174.7 67L182.9 68.9L183.8 66.6L175.9 64.7Z" fill="#ff05e1" stroke="#ff05e1"/>
<path d="M182.9 68.9L191.2 69.8L192 67.4L183.8 66.6Z" fill="#ff06f4" stroke="#ff06f4"/>
<path d="M191.2 69.8L199.6 69.8L200.2 67.5L192 67.4Z" fill="#ff07ff" stroke="#ff07ff"/>
<path d="M199.6 69.8L208 69.1L208.4 66.7L200.2 67.5Z" fill="#ff08ff" stroke="#ff08ff"/>
<path d="M208 69.1L216.3 67.8L216.5 65.4L208.4 66.7Z" fill="#ff08ff" stroke="#ff08ff"/>
<path d="M216.3 67.8L224.5 65.9L224.5 63.6L216.5 65.4Z" fill="#ff08ff" stroke="#ff08ff"/>
<path d="M224.5 65.9L232.6 63.7L232.4 61.4L224.5 63.6Z" fill="#ff07ff" stroke="#ff07ff"/>
<path d="M232.6 63.7L240.6 61.1L240.2 58.9L232.4 61.4Z" fill="#ff07ff" stroke="#ff07ff"/>
<path d="M240.6 61.1L248.5 58.3L248 56.2L240.2 58.9Z" fill="#ff07ff" stroke="#ff07ff"/>
<path d="M248.5 58.3L256.3 55.3L255.6 53.3L248 56.2Z" fill="#ff07ff" stroke="#ff07ff"/>
<path d="M256.3 55.3L264.1 52.1L263.3 50.2L255.6 53.3Z" fill="#ff07ff" stroke="#ff07ff"/>
<path d="M168.1 61.9L175.9 64.7L177 62.5L169.5 59.8Z" fill="#f604c8" stroke="#f604c8"/>
<path d="M175.9 64.7L183.8 66.6L184.9 64.3L177 62.5Z" fill="#ff05d8" stroke="#ff05d8"/>
<path d="M183.8 66.6L192 67.4L192.8 65.1L184.9 64.3Z" fill="#ff06ea" stroke="#ff06ea"/>
<path d="M192 67.4L200.2 67.5L200.8 65.1L192.8 65.1Z" fill="#ff07f9" stroke="#ff07f9"/>
<path d="M200.2 67.5L208.4 66.7L208.8 64.4L200.8 65.1Z" fill="#ff08fb" stroke="#ff08fb"/>
<path d="M208.4 66.7L216.5 65.4L216.7 63.1L208.8 64.4Z" fill="#ff08fc" stroke="#ff08fc"/>
<path d="M216.5 65.4L224.5 63.6L224.5 61.3L216.7 63.1Z" fill="#ff08fc" stroke="#ff08fc"/>
<path d="M224.5 63.6L232.4 61.4L232.3 59.2L224.5 61.3Z" fill="#ff07fc" stroke="#ff07fc"/>
<path d="M232.4 61.4L240.2 58.9L239.9 56.8L232.3 59.2Z" fill="#ff07fc" stroke="#ff07fc"/>
<path d="M240.2 58.9L248 56.2L247.5 54.1L239.9 56.8Z" fill="#ff07fc" stroke="#ff07fc"/>
<path d="M248 56.2L255.6 53.3L254.9 51.3L247.5 54.1Z" fill="#ff07fc" stroke="#ff07fc"/>
<path d="M255.6 53.3L263.3 50.2L262.4 48.3L254.9 51.3Z" fill="#ff07fb" stroke="#ff07fb"/>
<path d="M169.5 59.8L177 62.5L178.3 60.2L170.9 57.7Z" fill="#f904c0" stroke="#f904c0"/>
<path d="M177 62.5L184.9 64.3L185.9 61.9L178.3 60.2Z" fill="#ff05cf" stroke="#ff05cf"/>
<path d="M184.9 64.3L192.8 65.1L193.7 62.7L185.9 61.9Z" fill="#ff06df" stroke="#ff06df"/>
<path d="M192.8 65.1L200.8 65.1L201.5 62.7L193.7 62.7Z" fill="#ff07ed" stroke="#ff07ed"/>
<path d="M200.8 65.1L208.8 64.4L209.3 62L201.5 62.7Z" fill="#ff08ee" stroke="#ff08ee"/>
<path d="M208.8 64.4L216.7 63.1L217 60.7L209.3 62Z" fill="#ff08ee" stroke="#ff08ee"/>
<path d="M216.7 63.1L224.5 61.3L224.6 59L217 60.7Z" fill="#ff08ee" stroke="#ff08ee"/>
<path d="M224.5 61.3L232.3 59.2L232.1 57L224.6 59Z" fill="#ff07ee" stroke="#ff07ee"/>
<path d="M232.3 59.2L239.9 56.8L239.6 54.6L232.1 57Z" fill="#ff07ee" stroke="#ff07ee"/>
<path d="M239.9 56.8L247.5 54.1L246.9 52.1L239.6 54.6Z" fill="#ff07ee" stroke="#ff07ee"/>
<path d="M247.5 54.1L254.9 51.3L254.3 49.3L246.9 52.1Z" fill="#ff07ee" stroke="#ff07ee"/>
<path d="M254.9 51.3L262.4 48.3L261.5 46.5L254.3 49.3Z" fill="#ff07ee" stroke="#ff07ee"/>
<path d="M170.9 57.7L178.3 60.2L179.6 58L172.4 55.5Z" fill="#fd04b8" stroke="#fd04b8"/>
<path d="M178.3 60.2L185.9 61.9L187 59.6L179.6 58Z" fill="#ff05c6" stroke="#ff05c6"/>
<path d="M185.9 61.9L193.7 62.7L194.6 60.3L187 59.6Z" fill="#ff06d5" stroke="#ff06d5"/>
<path d="M193.7 62.7L201.5 62.7L202.2 60.3L194.6 60.3Z" fill="#ff07e0" stroke="#ff07e0"/>
<path d="M201.5 62.7L209.3 62L209.7 59.6L202.2 60.3Z" fill="#ff08e1" stroke="#ff08e1"/>
<path d="M209.3 62L217 60.7L217.2 58.4L209.7 59.6Z" fill="#ff08e1" stroke="#ff08e1"/>
<path d="M217 60.7L224.6 59L224.6 56.7L217.2 58.4Z" fill="#ff08e1" stroke="#ff08e1"/>
<path d="M224.6 59L232.1 57L232 54.7L224.6 56.7Z" fill="#ff08e1" stroke="#ff08e1"/>
<path d="M232.1 57L239.6 54.6L239.2 52.5L232 54.7Z" fill="#ff07e1" stroke="#ff07e1"/>
<path d="M239.6 54.6L246.9 52.1L246.4 50L239.2 52.5Z" fill="#ff07e1" stroke="#ff07e1"/>
<path d="M246.9 52.1L254.3 49.3L253.5 47.4L246.4 50Z" fill="#ff07e1" stroke="#ff07e1"/>
<path d="M254.3 49.3L261.5 46.5L260.6 44.6L253.5 47.4Z" fill="#ff07e1" stroke="#ff07e1"/>
<path d="M172.4 55.5L179.6 58L180.9 55.7L173.9 53.4Z" fill="#ff04af" stroke="#ff04af"/>
<path d="M179.6 58L187 59.6L188.1 57.2L180.9 55.7Z" fill="#ff05bc" stroke="#ff05bc"/>
<path d="M187 59.6L194.6 60.3L195.5 57.9L188.1 57.2Z" fill="#ff06ca" stroke="#ff06ca"/>
<path d="M194.6 60.3L202.2 60.3L202.9 57.8L195.5 57.9Z" fill="#ff07d3" stroke="#ff07d3"/>
<path d="M202.2 60.3L209.7 59.6L210.2 57.2L202.9 57.8Z" fill="#ff08d4" stroke="#ff08d4"/>
<path d="M209.7 59.6L217.2 58.4L217.5 56L210.2 57.2Z" fill="#ff08d4" stroke="#ff08d4"/>
<path d="M217.2 58.4L224.6 56.7L224.7 54.4L217.5 56Z" fill="#ff08d4" stroke="#ff08d4"/>
<path d="M224.6 56.7L232 54.7L231.8 52.5L224.7 54.4Z" fill="#ff08d4" stroke="#ff08d4"/>
<path d="M232 54.7L239.2 52.5L238.9 50.3L231.8 52.5Z" fill="#ff07d4" stroke="#ff07d4"/>
<path d="M239.2 52.5L246.4 50L245.9 47.9L238.9 50.3Z" fill="#ff07d4" stroke="#ff07d4"/>
<path d="M246.4 50L253.5 47.4L252.8 45.4L245.9 47.9Z" fill="#ff07d4" stroke="#ff07d4"/>
<path d="M253.5 47.4L260.6 44.6L259.7 42.7L252.8 45.4Z" fill="#ff07d4" stroke="#ff07d4"/>
<path d="M173.9 53.4L180.9 55.7L182.3 53.4L175.5 51.2Z" fill="#ff04a7" stroke="#ff04a7"/>
<path d="M180.9 55.7L188.1 57.2L189.3 54.9L182.3 53.4Z" fill="#ff05b3" stroke="#ff05b3"/>
<path d="M188.1 57.2L195.5 57.9L196.4 55.5L189.3 54.9Z" fill="#ff06bf" stroke="#ff06bf"/>
<path d="M195.5 57.9L202.9 57.8L203.6 55.4L196.4 55.5Z" fill="#ff07c7" stroke="#ff07c7"/>
<path d="M202.9 57.8L210.2 57.2L210.7 54.7L203.6 55.4Z" fill="#ff08c7" stroke="#ff08c7"/>
<path d="M210.2 57.2L217.5 56L217.8 53.6L210.7 54.7Z" fill="#ff08c7" stroke="#ff08c7"/>
<path d="M217.5 56L224.7 54.4L224.8 52.1L217.8 53.6Z" fill="#ff08c7" stroke="#ff08c7"/>
<path d="M224.7 54.4L231.8 52.5L231.7 50.2L224.8 52.1Z" fill="#ff08c7" stroke="#ff08c7"/>
<path d="M231.8 52.5L238.9 50.3L238.6 48.2L231.7 50.2Z" fill="#ff07c7" stroke="#ff07c7"/>
<path d="M238.9 50.3L245.9 47.9L245.3 45.9L238.6 48.2Z" fill="#ff07c7" stroke="#ff07c7"/>
<path d="M245.9 47.9L252.8 45.4L252.1 43.4L245.3 45.9Z" fill="#ff07c7" stroke="#ff07c7"/>
<path d="M252.8 45.4L259.7 42.7L258.8 40.9L252.1 43.4Z" fill="#ff07c7" stroke="#ff07c7"/>
<path d="M175.5 51.2L182.3 53.4L183.8 51.1L177.2 49Z" fill="#ff059e" stroke="#ff059e"/>
<path d="M182.3 53.4L189.3 54.9L190.6 52.5L183.8 51.1Z" fill="#ff05a9" stroke="#ff05a9"/>
<path d="M189.3 54.9L196.4 55.5L197.5 53.1L190.6 52.5Z" fill="#ff06b4" stroke="#ff06b4"/>
<path d="M196.4 55.5L203.6 55.4L204.4 53L197.5 53.1Z" fill="#ff07ba" stroke="#ff07ba"/>
<path d="M203.6 55.4L210.7 54.7L211.3 52.3L204.4 53Z" fill="#ff08ba" stroke="#ff08ba"/>
<path d="M210.7 54.7L217.8 53.6L218.1 51.2L211.3 52.3Z" fill="#ff08bb" stroke="#ff08bb"/>
<path d="M217.8 53.6L224.8 52.1L224.9 49.8L218.1 51.2Z" fill="#ff08bb" stroke="#ff08bb"/>
<path d="M224.8 52.1L231.7 50.2L231.6 48L224.9 49.8Z" fill="#ff08bb" stroke="#ff08bb"/>
<path d="M231.7 50.2L238.6 48.2L238.2 46L231.6 48Z" fill="#ff07bb" stroke="#ff07bb"/>
<path d="M238.6 48.2L245.3 45.9L244.8 43.8L238.2 46Z" fill="#ff07bb" stroke="#ff07bb"/>
<path d="M245.3 45.9L252.1 43.4L251.3 41.5L244.8 43.8Z" fill="#ff07bb" stroke="#ff07bb"/>
<path d="M252.1 43.4L258.8 40.9L257.8 39L251.3 41.5Z" fill="#ff07bb" stroke="#ff07bb"/>
<path d="M177.2 49L183.8 51.1L185.3 48.8L178.9 46.8Z" fill="#ff0596" stroke="#ff0596"/>
<path d="M183.8 51.1L190.6 52.5L191.9 50.1L185.3 48.8Z" fill="#ff069f" stroke="#ff069f"/>
<path d="M190.6 52.5L197.5 53.1L198.5 50.6L191.9 50.1Z" fill="#ff06a9" stroke="#ff06a9"/>
<path d="M197.5 53.1L204.4 53L205.2 50.5L198.5 50.6Z" fill="#ff07ad" stroke="#ff07ad"/>
<path d="M204.4 53L211.3 52.3L211.9 49.9L205.2 50.5Z" fill="#ff08ae" stroke="#ff08ae"/>
<path d="M211.3 52.3L218.1 51.2L218.5 48.8L211.9 49.9Z" fill="#ff08ae" stroke="#ff08ae"/>
<path d="M218.1 51.2L224.9 49.8L225 47.4L218.5 48.8Z" fill="#ff08ae" stroke="#ff08ae"/>
<path d="M224.9 49.8L231.6 48L231.5 45.7L225 47.4Z" fill="#ff08ae" stroke="#ff08ae"/>
<path d="M231.6 48L238.2 46L237.9 43.8L231.5 45.7Z" fill="#ff08ae" stroke="#ff08ae"/>
<path d="M238.2 46L244.8 43.8L244.2 41.7L237.9 43.8Z" fill="#ff07ae" stroke="#ff07ae"/>
<path d="M244.8 43.8L251.3 41.5L250.6 39.5L244.2 41.7Z" fill="#ff07ae" stroke="#ff07ae"/>
<path d="M251.3 41.5L257.8 39L256.8 37.2L250.6 39.5Z" fill="#ff07ae" stroke="#ff07ae"/>
<path d="M178.9 46.8L185.3 48.8L186.9 46.5L180.7 44.6Z" fill="#ff058d" stroke="#ff058d"/>
<path d="M185.3 48.8L191.9 50.1L193.2 47.7L186.9 46.5Z" fill="#ff0695" stroke="#ff0695"/>
<path d="M191.9 50.1L198.5 50.6L199.6 48.2L193.2 47.7Z" fill="#ff069e" stroke="#ff069e"/>
<path d="M198.5 50.6L205.2 50.5L206.1 48.1L199.6 48.2Z" fill="#ff07a1" stroke="#ff07a1"/>
<path d="M205.2 50.5L211.9 49.9L212.5 47.5L206.1 48.1Z" fill="#ff08a1" stroke="#ff08a1"/>
<path d="M211.9 49.9L218.5 48.8L218.8 46.4L212.5 47.5Z" fill="#ff08a2" stroke="#ff08a2"/>
<path d="M218.5 48.8L225 47.4L225.1 45.1L218.8 46.4Z" fill="#ff08a2" stroke="#ff08a2"/>
<path d="M225 47.4L231.5 45.7L231.4 43.5L225.1 45.1Z" fill="#ff08a2" stroke="#ff08a2"/>
<path d="M231.5 45.7L237.9 43.8L237.6 41.7L231.4 43.5Z" fill="#ff08a2" stroke="#ff08a2"/>
<path d="M237.9 43.8L244.2 41.7L243.7 39.7L237.6 41.7Z" fill="#ff07a2" stroke="#ff07a2"/>
<path d="M244.2 41.7L250.6 39.5L249.8 37.6L243.7 39.7Z" fill="#ff07a2" stroke="#ff07a2"/>
<path d="M250.6 39.5L256.8 37.2L255.8 35.3L249.8 37.6Z" fill="#ff07a2" stroke="#ff07a2"/>
<path d="M180.7 44.6L186.9 46.5L188.6 44.2L182.6 42.4Z" fill="#ff0584" stroke="#ff0584"/>
<path d="M186.9 46.5L193.2 47.7L194.6 45.3L188.6 44.2Z" fill="#ff068b" stroke="#ff068b"/>
<path d="M193.2 47.7L199.6 48.2L200.8 45.7L194.6 45.3Z" fill="#ff0693" stroke="#ff0693"/>
<path d="M199.6 48.2L206.1 48.1L207 45.6L200.8 45.7Z" fill="#ff0795" stroke="#ff0795"/>
<path d="M206.1 48.1L212.5 47.5L213.1 45L207 45.6Z" fill="#ff0895" stroke="#ff0895"/>
<path d="M212.5 47.5L218.8 46.4L219.2 44L213.1 45Z" fill="#ff0895" stroke="#ff0895"/>
<path d="M218.8 46.4L225.1 45.1L225.3 42.8L219.2 44Z" fill="#ff0896" stroke="#ff0896"/>
<path d="M225.1 45.1L231.4 43.5L231.3 41.2L225.3 42.8Z" fill="#ff0896" stroke="#ff0896"/>
<path d="M231.4 43.5L237.6 41.7L237.2 39.5L231.3 41.2Z" fill="#ff0896" stroke="#ff0896"/>
<path d="M237.6 41.7L243.7 39.7L243.1 37.6L237.2 39.5Z" fill="#ff0796" stroke="#ff0796"/>
<path d="M243.7 39.7L249.8 37.6L249 35.6L243.1 37.6Z" fill="#ff0795" stroke="#ff0795"/>
<path d="M249.8 37.6L255.8 35.3L254.8 33.5L249 35.6Z" fill="#ff0795" stroke="#ff0795"/>
<path d="M182.6 42.4L188.6 44.2L190.3 41.8L184.6 40.2Z" fill="#ff057b" stroke="#ff057b"/>
<path d="M188.6 44.2L194.6 45.3L196.1 42.8L190.3 41.8Z" fill="#ff0681" stroke="#ff0681"/>
<path d="M194.6 45.3L200.8 45.7L202 43.2L196.1 42.8Z" fill="#ff0688" stroke="#ff0688"/>
<path d="M200.8 45.7L207 45.6L207.9 43.1L202 43.2Z" fill="#ff0789" stroke="#ff0789"/>
<path d="M207 45.6L213.1 45L213.8 42.5L207.9 43.1Z" fill="#ff0789" stroke="#ff0789"/>
<path d="M213.1 45L219.2 44L219.7 41.6L213.8 42.5Z" fill="#ff0889" stroke="#ff0889"/>
<path d="M219.2 44L225.3 42.8L225.5 40.4L219.7 41.6Z" fill="#ff088a" stroke="#ff088a"/>
<path d="M225.3 42.8L231.3 41.2L231.2 39L225.5 40.4Z" fill="#ff088a" stroke="#ff088a"/>
<path d="M231.3 41.2L237.2 39.5L236.9 37.4L231.2 39Z" fill="#ff088a" stroke="#ff088a"/>
<path d="M237.2 39.5L243.1 37.6L242.5 35.6L236.9 37.4Z" fill="#ff0789" stroke="#ff0789"/>
<path d="M243.1 37.6L249 35.6L248.1 33.7L242.5 35.6Z" fill="#ff0789" stroke="#ff0789"/>
<path d="M249 35.6L254.8 33.5L253.7 31.7L248.1 33.7Z" fill="#ff0789" stroke="#ff0789"/>
<path d="M184.6 40.2L190.3 41.8L192.2 39.5L186.8 37.9Z" fill="#ff0571" stroke="#ff0571"/>
<path d="M190.3 41.8L196.1 42.8L197.7 40.4L192.2 39.5Z" fill="#ff0677" stroke="#ff0677"/>
<path d="M196.1 42.8L202 43.2L203.3 40.7L197.7 40.4Z" fill="#ff067c" stroke="#ff067c"/>
<path d="M202 43.2L207.9 43.1L209 40.6L203.3 40.7Z" fill="#ff077d" stroke="#ff077d"/>
<path d="M207.9 43.1L213.8 42.5L214.6 40.1L209 40.6Z" fill="#ff077d" stroke="#ff077d"/>
<path d="M213.8 42.5L219.7 41.6L220.1 39.2L214.6 40.1Z" fill="#ff087e" stroke="#ff087e"/>
<path d="M219.7 41.6L225.5 40.4L225.7 38.1L220.1 39.2Z" fill="#ff087e" stroke="#ff087e"/>
<path d="M225.5 40.4L231.2 39L231.1 36.7L225.7 38.1Z" fill="#ff087e" stroke="#ff087e"/>
<path d="M231.2 39L236.9 37.4L236.5 35.2L231.1 36.7Z" fill="#ff087e" stroke="#ff087e"/>
<path d="M236.9 37.4L242.5 35.6L241.9 33.6L236.5 35.2Z" fill="#ff077e" stroke="#ff077e"/>
<path d="M242.5 35.6L248.1 33.7L247.3 31.8L241.9 33.6Z" fill="#ff077e" stroke="#ff077e"/>
<path d="M248.1 33.7L253.7 31.7L252.6 29.9L247.3 31.8Z" fill="#ff077e" stroke="#ff077e"/>
<path d="M186.8 37.9L192.2 39.5L194.1 37.1L189 35.7Z" fill="#ff0568" stroke="#ff0568"/>
<path d="M192.2 39.5L197.7 40.4L199.4 37.9L194.1 37.1Z" fill="#ff066d" stroke="#ff066d"/>
<path d="M197.7 40.4L203.3 40.7L204.7 38.2L199.4 37.9Z" fill="#ff0671" stroke="#ff0671"/>
<path d="M203.3 40.7L209 40.6L210.1 38.1L204.7 38.2Z" fill="#ff0771" stroke="#ff0771"/>
<path d="M209 40.6L214.6 40.1L215.4 37.6L210.1 38.1Z" fill="#ff0772" stroke="#ff0772"/>
<path d="M214.6 40.1L220.1 39.2L220.6 36.8L215.4 37.6Z" fill="#ff0772" stroke="#ff0772"/>
<path d="M220.1 39.2L225.7 38.1L225.9 35.7L220.6 36.8Z" fill="#ff0872" stroke="#ff0872"/>
<path d="M225.7 38.1L231.1 36.7L231.1 34.5L225.9 35.7Z" fill="#ff0872" stroke="#ff0872"/>
<path d="M231.1 36.7L236.5 35.2L236.2 33.1L231.1 34.5Z" fill="#ff0872" stroke="#ff0872"/>
<path d="M236.5 35.2L241.9 33.6L241.3 31.5L236.2 33.1Z" fill="#ff0772" stroke="#ff0772"/>
<path d="M241.9 33.6L247.3 31.8L246.4 29.9L241.3 31.5Z" fill="#ff0772" stroke="#ff0772"/>
<path d="M247.3 31.8L252.6 29.9L251.4 28.1L246.4 29.9Z" fill="#ff0772" stroke="#ff0772"/>
<path d="M189 35.7L194.1 37.1L196.2 34.7L191.4 33.4Z" fill="#ff055e" stroke="#ff055e"/>
<path d="M194.1 37.1L199.4 37.9L201.2 35.4L196.2 34.7Z" fill="#ff0663" stroke="#ff0663"/>
<path d="M199.4 37.9L204.7 38.2L206.2 35.7L201.2 35.4Z" fill="#ff0665" stroke="#ff0665"/>
<path d="M204.7 38.2L210.1 38.1L211.2 35.5L206.2 35.7Z" fill="#ff0766" stroke="#ff0766"/>
<path d="M210.1 38.1L215.4 37.6L216.2 35.1L211.2 35.5Z" fill="#ff0766" stroke="#ff0766"/>
<path d="M215.4 37.6L220.6 36.8L221.2 34.3L216.2 35.1Z" fill="#ff0767" stroke="#ff0767"/>
<path d="M220.6 36.8L225.9 35.7L226.1 33.4L221.2 34.3Z" fill="#ff0767" stroke="#ff0767"/>
<path d="M225.9 35.7L231.1 34.5L231 32.2L226.1 33.4Z" fill="#ff0767" stroke="#ff0767"/>
<path d="M231.1 34.5L236.2 33.1L235.9 30.9L231 32.2Z" fill="#ff0767" stroke="#ff0767"/>
<path d="M236.2 33.1L241.3 31.5L240.7 29.5L235.9 30.9Z" fill="#ff0767" stroke="#ff0767"/>
<path d="M241.3 31.5L246.4 29.9L245.5 28L240.7 29.5Z" fill="#ff0767" stroke="#ff0767"/>
<path d="M246.4 29.9L251.4 28.1L250.2 26.3L245.5 28Z" fill="#ff0767" stroke="#ff0767"/>
<path d="M191.4 33.4L196.2 34.7L198.4 32.2L193.9 31.1Z" fill="#ff0555" stroke="#ff0555"/>
<path d="M196.2 34.7L201.2 35.4L203.1 32.9L198.4 32.2Z" fill="#ff0659" stroke="#ff0659"/>
<path d="M201.2 35.4L206.2 35.7L207.8 33.1L203.1 32.9Z" fill="#ff065a" stroke="#ff065a"/>
<path d="M206.2 35.7L211.2 35.5L212.5 33L207.8 33.1Z" fill="#ff075b" stroke="#ff075b"/>
<path d="M211.2 35.5L216.2 35.1L217.1 32.6L212.5 33Z" fill="#ff075b" stroke="#ff075b"/>
<path d="M216.2 35.1L221.2 34.3L221.8 31.9L217.1 32.6Z" fill="#ff075b" stroke="#ff075b"/>
<path d="M221.2 34.3L226.1 33.4L226.4 31L221.8 31.9Z" fill="#ff075c" stroke="#ff075c"/>
<path d="M226.1 33.4L231 32.2L231 29.9L226.4 31Z" fill="#ff075c" stroke="#ff075c"/>
<path d="M231 32.2L235.9 30.9L235.5 28.8L231 29.9Z" fill="#ff075c" stroke="#ff075c"/>
<path d="M235.9 30.9L240.7 29.5L240 27.5L235.5 28.8Z" fill="#ff075c" stroke="#ff075c"/>
<path d="M240.7 29.5L245.5 28L244.5 26.1L240 27.5Z" fill="#ff075c" stroke="#ff075c"/>
<path d="M245.5 28L250.2 26.3L249 24.6L244.5 26.1Z" fill="#ff075c" stroke="#ff075c"/>
<path d="M193.9 31.1L198.4 32.2L200.8 29.8L196.6 28.8Z" fill="#ff054c" stroke="#ff054c"/>
<path d="M198.4 32.2L203.1 32.9L205.1 30.3L200.8 29.8Z" fill="#ff054e" stroke="#ff054e"/>
<path d="M203.1 32.9L207.8 33.1L209.4 30.5L205.1 30.3Z" fill="#ff0650" stroke="#ff0650"/>
<path d="M207.8 33.1L212.5 33L213.8 30.4L209.4 30.5Z" fill="#ff0650" stroke="#ff0650"/>
<path d="M212.5 33L217.1 32.6L218.1 30L213.8 30.4Z" fill="#ff0750" stroke="#ff0750"/>
<path d="M217.1 32.6L221.8 31.9L222.4 29.4L218.1 30Z" fill="#ff0751" stroke="#ff0751"/>
<path d="M221.8 31.9L226.4 31L226.7 28.6L222.4 29.4Z" fill="#ff0751" stroke="#ff0751"/>
<path d="M226.4 31L231 29.9L230.9 27.7L226.7 28.6Z" fill="#ff0751" stroke="#ff0751"/>
<path d="M231 29.9L235.5 28.8L235.2 26.6L230.9 27.7Z" fill="#ff0751" stroke="#ff0751"/>
<path d="M235.5 28.8L240 27.5L239.4 25.4L235.2 26.6Z" fill="#ff0751" stroke="#ff0751"/>
<path d="M240 27.5L244.5 26.1L243.5 24.2L239.4 25.4Z" fill="#ff0751" stroke="#ff0751"/>
<path d="M244.5 26.1L249 24.6L247.7 22.9L243.5 24.2Z" fill="#ff0751" stroke="#ff0751"/>
<path d="M196.6 28.8L200.8 29.8L203.3 27.3L199.4 26.4Z" fill="#ff0542" stroke="#ff0542"/>
<path d="M200.8 29.8L205.1 30.3L207.3 27.8L203.3 27.3Z" fill="#ff0545" stroke="#ff0545"/>
<path d="M205.1 30.3L209.4 30.5L211.2 27.9L207.3 27.8Z" fill="#ff0645" stroke="#ff0645"/>
<path d="M209.4 30.5L213.8 30.4L215.2 27.8L211.2 27.9Z" fill="#ff0646" stroke="#ff0646"/>
<path d="M213.8 30.4L218.1 30L219.2 27.5L215.2 27.8Z" fill="#ff0746" stroke="#ff0746"/>
<path d="M218.1 30L222.4 29.4L223.1 26.9L219.2 27.5Z" fill="#ff0746" stroke="#ff0746"/>
<path d="M222.4 29.4L226.7 28.6L227 26.2L223.1 26.9Z" fill="#ff0746" stroke="#ff0746"/>
<path d="M226.7 28.6L230.9 27.7L230.9 25.4L227 26.2Z" fill="#ff0747" stroke="#ff0747"/>
<path d="M230.9 27.7L235.2 26.6L234.8 24.5L230.9 25.4Z" fill="#ff0747" stroke="#ff0747"/>
<path d="M235.2 26.6L239.4 25.4L238.7 23.4L234.8 24.5Z" fill="#ff0747" stroke="#ff0747"/>
<path d="M239.4 25.4L243.5 24.2L242.5 22.3L238.7 23.4Z" fill="#ff0747" stroke="#ff0747"/>
<path d="M243.5 24.2L247.7 22.9L246.3 21.1L242.5 22.3Z" fill="#ff0747" stroke="#ff0747"/>
<path d="M199.4 26.4L203.3 27.3L206 24.8L202.5 24.1Z" fill="#ff0539" stroke="#ff0539"/>
<path d="M203.3 27.3L207.3 27.8L209.6 25.2L206 24.8Z" fill="#ff053b" stroke="#ff053b"/>
<path d="M207.3 27.8L211.2 27.9L213.1 25.3L209.6 25.2Z" fill="#ff063b" stroke="#ff063b"/>
<path d="M211.2 27.9L215.2 27.8L216.7 25.2L213.1 25.3Z" fill="#ff063c" stroke="#ff063c"/>
<path d="M215.2 27.8L219.2 27.5L220.3 24.9L216.7 25.2Z" fill="#ff063c" stroke="#ff063c"/>
<path d="M219.2 27.5L223.1 26.9L223.9 24.5L220.3 24.9Z" fill="#ff073c" stroke="#ff073c"/>
<path d="M223.1 26.9L227 26.2L227.4 23.9L223.9 24.5Z" fill="#ff073c" stroke="#ff073c"/>
<path d="M227 26.2L230.9 25.4L230.9 23.1L227.4 23.9Z" fill="#ff073d" stroke="#ff073d"/>
<path d="M230.9 25.4L234.8 24.5L234.4 22.3L230.9 23.1Z" fill="#ff073d" stroke="#ff073d"/>
<path d="M234.8 24.5L238.7 23.4L237.9 21.4L234.4 22.3Z" fill="#ff073d" stroke="#ff073d"/>
<path d="M238.7 23.4L242.5 22.3L241.4 20.5L237.9 21.4Z" fill="#ff073d" stroke="#ff073d"/>
<path d="M242.5 22.3L246.3 21.1L244.8 19.4L241.4 20.5Z" fill="#ff073d" stroke="#ff073d"/>
<path d="M202.5 24.1L206 24.8L208.9 22.3L205.7 21.7Z" fill="#ff0530" stroke="#ff0530"/>
<path d="M206 24.8L209.6 25.2L212 22.6L208.9 22.3Z" fill="#ff0531" stroke="#ff0531"/>
<path d="M209.6 25.2L213.1 25.3L215.2 22.7L212 22.6Z" fill="#ff0632" stroke="#ff0632"/>
<path d="M213.1 25.3L216.7 25.2L218.4 22.6L215.2 22.7Z" fill="#ff0632" stroke="#ff0632"/>
<path d="M216.7 25.2L220.3 24.9L221.5 22.4L218.4 22.6Z" fill="#ff0632" stroke="#ff0632"/>
<path d="M220.3 24.9L223.9 24.5L224.7 22L221.5 22.4Z" fill="#ff0633" stroke="#ff0633"/>
<path d="M223.9 24.5L227.4 23.9L227.8 21.5L224.7 22Z" fill="#ff0633" stroke="#ff0633"/>
<path d="M227.4 23.9L230.9 23.1L231 20.9L227.8 21.5Z" fill="#ff0733" stroke="#ff0733"/>
<path d="M230.9 23.1L234.4 22.3L234.1 20.2L231 20.9Z" fill="#ff0733" stroke="#ff0733"/>
<path d="M234.4 22.3L237.9 21.4L237.1 19.4L234.1 20.2Z" fill="#ff0733" stroke="#ff0733"/>
<path d="M237.9 21.4L241.4 20.5L240.2 18.6L237.1 19.4Z" fill="#ff0733" stroke="#ff0733"/>
<path d="M241.4 20.5L244.8 19.4L243.3 17.8L240.2 18.6Z" fill="#ff0733" stroke="#ff0733"/>
<path d="M205.7 21.7L208.9 22.3L211.9 19.7L209.2 19.3Z" fill="#ff0528" stroke="#ff0528"/>
<path d="M208.9 22.3L212 22.6L214.6 20L211.9 19.7Z" fill="#ff0529" stroke="#ff0529"/>
<path d="M212 22.6L215.2 22.7L217.4 20.1L214.6 20Z" fill="#ff0529" stroke="#ff0529"/>
<path d="M215.2 22.7L218.4 22.6L220.1 20L217.4 20.1Z" fill="#ff0629" stroke="#ff0629"/>
<path d="M218.4 22.6L221.5 22.4L222.8 19.8L220.1 20Z" fill="#ff0629" stroke="#ff0629"/>
<path d="M221.5 22.4L224.7 22L225.6 19.5L222.8 19.8Z" fill="#ff062a" stroke="#ff062a"/>
<path d="M224.7 22L227.8 21.5L228.3 19.1L225.6 19.5Z" fill="#ff062a" stroke="#ff062a"/>
<path d="M227.8 21.5L231 20.9L231 18.6L228.3 19.1Z" fill="#ff062a" stroke="#ff062a"/>
<path d="M231 20.9L234.1 20.2L233.6 18.1L231 18.6Z" fill="#ff062a" stroke="#ff062a"/>
<path d="M234.1 20.2L237.1 19.4L236.3 17.5L233.6 18.1Z" fill="#ff072a" stroke="#ff072a"/>
<path d="M237.1 19.4L240.2 18.6L239 16.8L236.3 17.5Z" fill="#ff072a" stroke="#ff072a"/>
<path d="M240.2 18.6L243.3 17.8L241.6 16.1L239 16.8Z" fill="#ff072a" stroke="#ff072a"/>
<path d="M209.2 19.3L211.9 19.7L215.2 17.2L212.9 16.8Z" fill="#ff0520" stroke="#ff0520"/>
<path d="M211.9 19.7L214.6 20L217.4 17.4L215.2 17.2Z" fill="#ff0520" stroke="#ff0520"/>
<path d="M214.6 20L217.4 20.1L219.7 17.4L217.4 17.4Z" fill="#ff0520" stroke="#ff0520"/>
<path d="M217.4 20.1L220.1 20L222 17.4L219.7 17.4Z" fill="#ff0521" stroke="#ff0521"/>
<path d="M220.1 20L222.8 19.8L224.2 17.2L222 17.4Z" fill="#ff0621" stroke="#ff0621"/>
<path d="M222.8 19.8L225.6 19.5L226.5 17L224.2 17.2Z" fill="#ff0621" stroke="#ff0621"/>
<path d="M225.6 19.5L228.3 19.1L228.7 16.7L226.5 17Z" fill="#ff0621" stroke="#ff0621"/>
<path d="M228.3 19.1L231 18.6L231 16.4L228.7 16.7Z" fill="#ff0621" stroke="#ff0621"/>
<path d="M231 18.6L233.6 18.1L233.2 16L231 16.4Z" fill="#ff0621" stroke="#ff0621"/>
<path d="M233.6 18.1L236.3 17.5L235.4 15.5L233.2 16Z" fill="#ff0622" stroke="#ff0622"/>
<path d="M236.3 17.5L239 16.8L237.6 15L235.4 15.5Z" fill="#ff0622" stroke="#ff0622"/>
<path d="M239 16.8L241.6 16.1L239.8 14.5L237.6 15Z" fill="#ff0622" stroke="#ff0622"/>
<path d="M212.9 16.8L215.2 17.2L218.6 14.6L216.9 14.4Z" fill="#ff0518" stroke="#ff0518"/>
<path d="M215.2 17.2L217.4 17.4L220.4 14.8L218.6 14.6Z" fill="#ff0519" stroke="#ff0519"/>
<path d="M217.4 17.4L219.7 17.4L222.1 14.8L220.4 14.8Z" fill="#ff0519" stroke="#ff0519"/>
<path d="M219.7 17.4L222 17.4L223.9 14.8L222.1 14.8Z" fill="#ff0519" stroke="#ff0519"/>
<path d="M222 17.4L224.2 17.2L225.7 14.7L223.9 14.8Z" fill="#ff0519" stroke="#ff0519"/>
<path d="M224.2 17.2L226.5 17L227.4 14.6L225.7 14.7Z" fill="#ff0519" stroke="#ff0519"/>
<path d="M226.5 17L228.7 16.7L229.2 14.4L227.4 14.6Z" fill="#ff0619" stroke="#ff0619"/>
<path d="M228.7 16.7L231 16.4L230.9 14.1L229.2 14.4Z" fill="#ff0619" stroke="#ff0619"/>
<path d="M231 16.4L233.2 16L232.7 13.9L230.9 14.1Z" fill="#ff061a" stroke="#ff061a"/>
<path d="M233.2 16L235.4 15.5L234.4 13.6L232.7 13.9Z" fill="#ff061a" stroke="#ff061a"/>
<path d="M235.4 15.5L237.6 15L236.1 13.2L234.4 13.6Z" fill="#ff061a" stroke="#ff061a"/>
<path d="M237.6 15L239.8 14.5L237.9 12.9L236.1 13.2Z" fill="#ff061a" stroke="#ff061a"/>
<path d="M216.9 14.4L218.6 14.6L222.2 12.1L221 12Z" fill="#ff0412" stroke="#ff0412"/>
<path d="M218.6 14.6L220.4 14.8L223.4 12.2L222.2 12.1Z" fill="#ff0512" stroke="#ff0512"/>
<path d="M220.4 14.8L222.1 14.8L224.7 12.2L223.4 12.2Z" fill="#ff0512" stroke="#ff0512"/>
<path d="M222.1 14.8L223.9 14.8L225.9 12.2L224.7 12.2Z" fill="#ff0512" stroke="#ff0512"/>
<path d="M223.9 14.8L225.7 14.7L227.1 12.2L225.9 12.2Z" fill="#ff0512" stroke="#ff0512"/>
<path d="M225.7 14.7L227.4 14.6L228.3 12.1L227.1 12.2Z" fill="#ff0512" stroke="#ff0512"/>
<path d="M227.4 14.6L229.2 14.4L229.6 12L228.3 12.1Z" fill="#ff0512" stroke="#ff0512"/>
<path d="M229.2 14.4L230.9 14.1L230.8 11.9L229.6 12Z" fill="#ff0512" stroke="#ff0512"/>
<path d="M230.9 14.1L232.7 13.9L232 11.8L230.8 11.9Z" fill="#ff0512" stroke="#ff0512"/>
<path d="M232.7 13.9L234.4 13.6L233.2 11.6L232 11.8Z" fill="#ff0512" stroke="#ff0512"/>
<path d="M234.4 13.6L236.1 13.2L234.4 11.4L233.2 11.6Z" fill="#ff0613" stroke="#ff0613"/>
<path d="M236.1 13.2L237.9 12.9L235.7 11.2L234.4 11.4Z" fill="#ff0613" stroke="#ff0613"/>
<path d="M221 12L222.2 12.1L225.8 9.7L225.2 9.7Z" fill="#ff040c" stroke="#ff040c"/>
<path d="M222.2 12.1L223.4 12.2L226.5 9.8L225.8 9.7Z" fill="#ff040c" stroke="#ff040c"/>
<path d="M223.4 12.2L224.7 12.2L227.1 9.8L226.5 9.8Z" fill="#ff050c" stroke="#ff050c"/>
<path d="M224.7 12.2L225.9 12.2L227.8 9.8L227.1 9.8Z" fill="#ff050c" stroke="#ff050c"/>
<path d="M225.9 12.2L227.1 12.2L228.4 9.8L227.8 9.8Z" fill="#ff050c" stroke="#ff050c"/>
<path d="M227.1 12.2L228.3 12.1L229.1 9.8L228.4 9.8Z" fill="#ff050c" stroke="#ff050c"/>
<path d="M228.3 12.1L229.6 12L229.7 9.8L229.1 9.8Z" fill="#ff050c" stroke="#ff050c"/>
<path d="M229.6 12L230.8 11.9L230.4 9.7L229.7 9.8Z" fill="#ff050c" stroke="#ff050c"/>
<path d="M230.8 11.9L232 11.8L231.1 9.7L230.4 9.7Z" fill="#ff050c" stroke="#ff050c"/>
<path d="M232 11.8L233.2 11.6L231.7 9.6L231.1 9.7Z" fill="#ff050c" stroke="#ff050c"/>
<path d="M233.2 11.6L234.4 11.4L232.4 9.6L231.7 9.6Z" fill="#ff050c" stroke="#ff050c"/>
<path d="M234.4 11.4L235.7 11.2L233 9.5L232.4 9.6Z" fill="#ff050c" stroke="#ff050c"/>
<path d="M225.2 9.7L225.8 9.7L229.3 7.5Z" fill="#ff0407" stroke="#ff0407"/>
<path d="M225.8 9.7L226.5 9.8L229.3 7.5Z" fill="#ff0407" stroke="#ff0407"/>
<path d="M226.5 9.8L227.1 9.8L229.3 7.5Z" fill="#ff0407" stroke="#ff0407"/>
<path d="M227.1 9.8L227.8 9.8L229.3 7.5Z" fill="#ff0407" stroke="#ff0407"/>
<path d="M227.8 9.8L228.4 9.8L229.3 7.5Z" fill="#ff0407" stroke="#ff0407"/>
<path d="M228.4 9.8L229.1 9.8L229.3 7.5Z" fill="#ff0407" stroke="#ff0407"/>
<path d="M229.1 9.8L229.7 9.8L229.3 7.5Z" fill="#ff0407" stroke="#ff0407"/>
<path d="M229.7 9.8L230.4 9.7L229.3 7.5Z" fill="#ff0407" stroke="#ff0407"/>
<path d="M230.4 9.7L231.1 9.7L229.3 7.5Z" fill="#ff0507" stroke="#ff0507"/>
<path d="M231.1 9.7L231.7 9.6L229.3 7.5Z" fill="#ff0507" stroke="#ff0507"/>
<path d="M231.7 9.6L232.4 9.6L229.3 7.5Z" fill="#ff0506" stroke="#ff0506"/>
<path d="M232.4 9.6L233 9.5L229.3 7.5Z" fill="#ff0506" stroke="#ff0506"/>
</g>
<g stroke="#000" stroke-opacity="0.85" stroke-width="1.05" fill="none" stroke-linejoin="round" stroke-linecap="round">
<polyline points="72.8,264.2 75.5,261.3 78.1,258.2 80.7,255 83.3,251.6 85.9,248.1 88.4,244.4 91,240.6 93.5,236.6 95.9,232.4 98.4,227.9 100.8,223.3 103.2,218.5 105.6,213.4 108,208.2 110.4,202.7 112.7,197 115,191.2 117.4,185.2 119.7,179 122,172.7 124.3,166.2 126.6,159.7 128.9,153.1 131.3,146.5 133.6,139.9 136,133.3 138.3,126.8 140.7,120.4 143.1,114.1 145.5,108 148,102 150.4,96.2 152.9,90.6 155.4,85.3 157.9,80.2 160.4,75.3 163,70.6 165.5,66.2 168.1,62 170.7,58.1 173.2,54.3 175.8,50.8 178.4,47.5 181,44.3 183.6,41.3 186.2,38.5 188.8,35.9 191.3,33.4 193.9,31.1 196.5,28.8 199.1,26.7 201.6,24.7 204.2,22.8 206.8,21 209.3,19.2 211.8,17.6 214.4,16 216.9,14.4 219.4,12.9 221.9,11.5 224.4,10.1 226.8,8.8 229.3,7.5"/>
<polyline points="72.8,264.2 74.9,265.9 77,267.5 79.2,269.2 81.3,270.9 83.5,272.6 85.7,274.4 87.9,276.2 90.1,278 92.3,279.8 94.5,281.7 96.8,283.6 99,285.6 101.3,287.5 103.6,289.5 105.9,291.5 108.2,293.6 110.5,295.7 112.8,297.8 115.2,299.9 117.5,302 119.9,304.1 122.3,306.3 124.6,308.4 127,310.6 129.4,312.7 131.8,314.9 134.3,317.1 136.7,319.2 139.1,321.4 141.6,323.6 144.1,325.7 146.5,327.9 149,330.1 151.5,332.2 154,334.4 156.5,336.5 159.1,338.7 161.6,340.9 164.1,343 166.7,345.2 169.3,347.3 171.9,349.5 174.5,351.7 177.1,353.8 179.7,356 182.3,358.2 185,360.3 187.6,362.5 190.3,364.7 193,366.9 195.7,369.1 198.4,371.3 201.2,373.5 203.9,375.7 206.7,377.9 209.4,380.2 212.2,382.4 215,384.6 217.9,386.9 220.7,389.1 223.5,391.4 226.4,393.7 229.3,396"/>
<polyline points="81.2,270.8 83.9,267.8 86.5,264.7 89.2,261.5 91.8,258.1 94.4,254.6 97,250.9 99.5,247.1 102,243 104.5,238.8 107,234.4 109.5,229.7 111.9,224.9 114.3,219.8 116.7,214.6 119.1,209.1 121.5,203.5 123.9,197.6 126.2,191.6 128.6,185.4 131,179.1 133.3,172.7 135.7,166.2 138,159.6 140.4,153 142.8,146.4 145.2,139.9 147.6,133.4 150,127 152.5,120.7 154.9,114.6 157.4,108.6 159.9,102.8 162.4,97.3 164.9,91.9 167.4,86.8 170,81.9 172.6,77.3 175.1,72.9 177.7,68.7 180.3,64.7 182.9,61 185.5,57.4 188.1,54.1 190.7,50.9 193.3,48 195.9,45.1 198.5,42.5 201.1,40 203.7,37.6 206.3,35.4 208.8,33.2 211.4,31.2 214,29.3 216.5,27.4 219.1,25.7 221.6,24 224.1,22.4 226.6,20.8 229.1,19.3 231.6,17.9 234.1,16.5 236.6,15.1 239,13.8"/>
<polyline points="83.2,251.8 85.3,253.5 87.4,255.1 89.6,256.8 91.8,258.5 94,260.2 96.2,261.9 98.4,263.7 100.6,265.6 102.8,267.5 105.1,269.4 107.4,271.4 109.6,273.4 111.9,275.4 114.3,277.5 116.6,279.6 118.9,281.8 121.2,284 123.6,286.2 126,288.4 128.3,290.7 130.7,292.9 133.1,295.2 135.5,297.5 137.9,299.8 140.4,302.1 142.8,304.4 145.2,306.6 147.7,308.9 150.2,311.2 152.6,313.5 155.1,315.7 157.6,318 160.1,320.2 162.6,322.5 165.1,324.7 167.6,326.9 170.2,329.2 172.7,331.4 175.3,333.6 177.9,335.8 180.4,338 183,340.2 185.6,342.4 188.3,344.6 190.9,346.8 193.5,348.9 196.2,351.1 198.9,353.3 201.5,355.5 204.2,357.7 206.9,359.9 209.7,362.1 212.4,364.3 215.2,366.5 217.9,368.7 220.7,371 223.5,373.2 226.3,375.4 229.1,377.6 231.9,379.9 234.8,382.1 237.7,384.4 240.5,386.7"/>
<polyline points="89.8,277.8 92.5,274.8 95.2,271.7 97.8,268.5 100.5,265.1 103.1,261.6 105.7,258 108.3,254.2 110.8,250.2 113.4,246 115.9,241.6 118.4,237 120.8,232.3 123.3,227.3 125.7,222.1 128.2,216.8 130.6,211.2 133,205.5 135.4,199.6 137.8,193.5 140.2,187.3 142.6,181 145,174.6 147.4,168.2 149.8,161.7 152.3,155.3 154.7,148.9 157.1,142.5 159.6,136.2 162.1,130.1 164.6,124.1 167.1,118.3 169.6,112.6 172.2,107.2 174.7,101.9 177.3,96.9 179.8,92.1 182.4,87.6 185,83.2 187.6,79.1 190.2,75.2 192.8,71.5 195.4,68 198,64.7 200.6,61.6 203.2,58.7 205.8,55.9 208.4,53.3 211,50.8 213.6,48.4 216.2,46.2 218.8,44 221.3,42 223.9,40.1 226.4,38.2 229,36.5 231.5,34.8 234,33.2 236.5,31.6 239,30.1 241.5,28.6 244,27.2 246.4,25.8 248.9,24.5"/>
<polyline points="93.1,237.1 95.3,238.7 97.5,240.3 99.7,241.9 101.9,243.6 104.1,245.4 106.3,247.2 108.5,249 110.8,250.9 113.1,252.9 115.3,254.9 117.6,257 120,259.1 122.3,261.3 124.6,263.5 127,265.8 129.3,268.1 131.7,270.5 134.1,272.9 136.5,275.3 138.9,277.8 141.3,280.2 143.7,282.7 146.2,285.2 148.6,287.7 151.1,290.1 153.5,292.6 156,295.1 158.5,297.5 160.9,300 163.4,302.4 165.9,304.8 168.4,307.2 170.9,309.6 173.5,312 176,314.3 178.5,316.7 181.1,319 183.7,321.3 186.2,323.6 188.8,325.9 191.4,328.1 194,330.4 196.6,332.7 199.2,334.9 201.9,337.2 204.5,339.4 207.2,341.6 209.9,343.8 212.6,346.1 215.3,348.3 218,350.5 220.7,352.7 223.4,355 226.2,357.2 228.9,359.4 231.7,361.6 234.5,363.8 237.3,366.1 240.1,368.3 243,370.5 245.8,372.8 248.7,375 251.6,377.3"/>
<polyline points="98.6,285.2 101.3,282.3 104,279.2 106.7,276.1 109.4,272.8 112,269.4 114.7,265.8 117.3,262.1 119.8,258.2 122.4,254.1 125,249.9 127.5,245.5 130,240.9 132.5,236.1 135,231.1 137.5,225.9 139.9,220.6 142.4,215.1 144.8,209.4 147.3,203.6 149.7,197.7 152.2,191.7 154.6,185.6 157.1,179.4 159.5,173.3 162,167.1 164.5,161 167,154.9 169.5,149 172,143.1 174.5,137.4 177.1,131.8 179.6,126.4 182.2,121.2 184.8,116.2 187.3,111.4 189.9,106.9 192.5,102.5 195.1,98.3 197.7,94.4 200.3,90.6 202.9,87.1 205.5,83.7 208.2,80.5 210.8,77.5 213.4,74.6 215.9,71.9 218.5,69.4 221.1,66.9 223.7,64.6 226.3,62.4 228.8,60.3 231.4,58.3 233.9,56.4 236.4,54.6 238.9,52.8 241.5,51.1 244,49.5 246.4,47.9 248.9,46.4 251.4,44.9 253.8,43.5 256.3,42.1 258.7,40.7"/>
<polyline points="102.8,219.4 105,221 107.2,222.6 109.4,224.2 111.6,225.9 113.8,227.7 116.1,229.5 118.4,231.5 120.7,233.4 123,235.5 125.3,237.7 127.6,239.9 130,242.2 132.3,244.6 134.7,247 137.1,249.6 139.5,252.1 141.9,254.8 144.3,257.4 146.8,260.1 149.2,262.9 151.7,265.6 154.1,268.4 156.6,271.1 159.1,273.9 161.5,276.6 164,279.4 166.5,282.1 169,284.8 171.5,287.5 174,290.2 176.6,292.8 179.1,295.4 181.6,298 184.1,300.5 186.7,303 189.2,305.6 191.8,308 194.4,310.5 197,312.9 199.6,315.3 202.2,317.7 204.8,320.1 207.4,322.4 210,324.8 212.7,327.1 215.3,329.4 218,331.7 220.7,334 223.4,336.3 226.1,338.6 228.8,340.8 231.5,343.1 234.2,345.3 237,347.6 239.8,349.8 242.5,352.1 245.3,354.3 248.2,356.6 251,358.8 253.8,361.1 256.7,363.3 259.5,365.6 262.4,367.8"/>
<polyline points="107.6,293.1 110.4,290.2 113.1,287.3 115.8,284.2 118.5,281.1 121.2,277.8 123.8,274.3 126.5,270.8 129.1,267.1 131.7,263.2 134.3,259.2 136.8,255 139.4,250.6 141.9,246.1 144.5,241.4 147,236.6 149.5,231.6 152,226.4 154.5,221.1 157,215.7 159.5,210.2 162,204.6 164.5,198.9 167,193.2 169.5,187.5 172,181.8 174.5,176.1 177,170.4 179.6,164.9 182.1,159.5 184.7,154.2 187.2,149 189.8,144 192.4,139.2 195,134.5 197.6,130 200.2,125.8 202.8,121.7 205.4,117.8 208,114.1 210.6,110.6 213.2,107.2 215.8,104 218.3,101 220.9,98.1 223.5,95.4 226.1,92.8 228.6,90.4 231.2,88 233.8,85.8 236.3,83.6 238.8,81.6 241.4,79.6 243.9,77.8 246.4,76 248.9,74.2 251.3,72.5 253.8,70.9 256.3,69.4 258.7,67.8 261.1,66.3 263.6,64.9 266,63.5 268.4,62.1"/>
<polyline points="112.1,198.5 114.3,200 116.6,201.6 118.8,203.3 121.1,205 123.3,206.8 125.6,208.8 127.9,210.8 130.3,212.9 132.6,215.1 135,217.5 137.4,219.9 139.8,222.4 142.2,225.1 144.6,227.8 147,230.7 149.5,233.6 151.9,236.6 154.4,239.6 156.9,242.7 159.4,245.8 161.8,248.9 164.3,252 166.8,255.2 169.3,258.3 171.9,261.4 174.4,264.5 176.9,267.6 179.4,270.6 181.9,273.6 184.5,276.6 187,279.5 189.6,282.4 192.1,285.3 194.7,288.1 197.2,290.8 199.8,293.5 202.4,296.2 205,298.9 207.5,301.5 210.1,304.1 212.8,306.6 215.4,309.1 218,311.6 220.6,314.1 223.3,316.5 226,319 228.6,321.4 231.3,323.7 234,326.1 236.7,328.5 239.4,330.8 242.1,333.1 244.9,335.4 247.6,337.7 250.4,340 253.2,342.3 256,344.6 258.8,346.9 261.6,349.2 264.4,351.4 267.3,353.7 270.2,356 273,358.2"/>
<polyline points="116.8,301.3 119.6,298.6 122.3,295.7 125,292.8 127.8,289.8 130.5,286.7 133.2,283.4 135.8,280 138.5,276.6 141.1,272.9 143.7,269.2 146.3,265.3 148.9,261.2 151.5,257 154.1,252.7 156.7,248.2 159.2,243.6 161.8,238.9 164.3,234.1 166.8,229.1 169.4,224.1 171.9,219 174.5,213.8 177,208.6 179.5,203.4 182.1,198.2 184.6,193.1 187.2,188 189.8,182.9 192.3,178 194.9,173.2 197.5,168.5 200.1,164 202.6,159.6 205.2,155.3 207.8,151.2 210.4,147.3 213,143.6 215.6,140 218.2,136.6 220.8,133.3 223.3,130.2 225.9,127.3 228.5,124.4 231.1,121.7 233.6,119.2 236.2,116.7 238.7,114.4 241.2,112.1 243.7,110 246.2,108 248.7,106 251.2,104.1 253.7,102.2 256.2,100.5 258.6,98.8 261.1,97.1 263.5,95.5 265.9,93.9 268.3,92.4 270.7,90.9 273.1,89.5 275.5,88.1 277.9,86.7"/>
<polyline points="121.3,174.6 123.5,176.2 125.8,177.8 128.1,179.4 130.4,181.2 132.7,183.1 135,185.1 137.4,187.3 139.8,189.6 142.1,192 144.6,194.6 147,197.3 149.4,200.1 151.9,203.1 154.4,206.2 156.8,209.4 159.3,212.8 161.8,216.2 164.3,219.7 166.9,223.2 169.4,226.8 171.9,230.4 174.4,234 177,237.6 179.5,241.2 182.1,244.7 184.6,248.3 187.1,251.8 189.7,255.2 192.2,258.6 194.8,262 197.4,265.2 199.9,268.5 202.5,271.6 205,274.7 207.6,277.8 210.2,280.8 212.8,283.7 215.4,286.6 218,289.5 220.6,292.3 223.2,295 225.8,297.7 228.5,300.4 231.1,303 233.8,305.6 236.4,308.1 239.1,310.7 241.8,313.2 244.5,315.6 247.2,318.1 249.9,320.5 252.6,322.9 255.4,325.3 258.1,327.7 260.9,330.1 263.7,332.4 266.5,334.7 269.3,337.1 272.1,339.4 274.9,341.7 277.8,344 280.6,346.3 283.5,348.6"/>
<polyline points="126.1,309.8 128.9,307.1 131.7,304.4 134.5,301.6 137.2,298.8 139.9,295.8 142.7,292.7 145.3,289.6 148,286.3 150.7,283 153.4,279.5 156,275.9 158.6,272.1 161.2,268.3 163.9,264.3 166.5,260.3 169.1,256.1 171.6,251.8 174.2,247.4 176.8,242.9 179.4,238.4 181.9,233.8 184.5,229.2 187.1,224.5 189.7,219.9 192.2,215.2 194.8,210.6 197.4,206 200,201.5 202.5,197.1 205.1,192.8 207.7,188.6 210.3,184.5 212.9,180.6 215.4,176.8 218,173.1 220.6,169.5 223.2,166.1 225.8,162.9 228.3,159.8 230.9,156.8 233.4,153.9 236,151.2 238.5,148.5 241.1,146 243.6,143.6 246.1,141.3 248.6,139.1 251.1,137 253.6,134.9 256.1,132.9 258.5,131 261,129.2 263.4,127.4 265.8,125.7 268.3,124 270.7,122.4 273.1,120.8 275.5,119.2 277.8,117.7 280.2,116.2 282.5,114.7 284.9,113.3 287.2,111.9"/>
<polyline points="130.4,149 132.7,150.5 135,152.1 137.3,153.8 139.7,155.6 142,157.6 144.4,159.7 146.8,162 149.2,164.5 151.7,167.1 154.1,170 156.6,173 159.1,176.2 161.6,179.6 164.1,183.1 166.6,186.8 169.2,190.6 171.7,194.5 174.3,198.5 176.8,202.5 179.4,206.6 182,210.8 184.5,214.9 187.1,219 189.6,223.1 192.2,227.2 194.8,231.2 197.3,235.2 199.9,239.1 202.5,243 205.1,246.7 207.6,250.4 210.2,254 212.8,257.5 215.3,261 217.9,264.4 220.5,267.7 223.1,270.9 225.7,274.1 228.3,277.1 230.9,280.2 233.5,283.1 236.2,286 238.8,288.9 241.4,291.7 244.1,294.5 246.8,297.2 249.4,299.8 252.1,302.5 254.8,305.1 257.5,307.6 260.2,310.2 262.9,312.7 265.7,315.1 268.4,317.6 271.2,320 274,322.5 276.8,324.9 279.6,327.2 282.4,329.6 285.2,332 288.1,334.3 290.9,336.6 293.8,339"/>
<polyline points="135.6,318.3 138.4,315.7 141.2,313.1 144,310.5 146.8,307.8 149.5,305 152.3,302.1 155,299.1 157.7,296.1 160.4,292.9 163.1,289.7 165.8,286.4 168.4,283 171.1,279.5 173.7,275.9 176.3,272.2 179,268.4 181.6,264.5 184.2,260.5 186.8,256.5 189.4,252.4 192,248.3 194.6,244.2 197.2,240 199.8,235.9 202.4,231.7 204.9,227.6 207.5,223.5 210.1,219.5 212.7,215.6 215.3,211.7 217.9,208 220.4,204.3 223,200.8 225.6,197.3 228.2,194 230.7,190.8 233.3,187.7 235.8,184.7 238.4,181.9 240.9,179.1 243.5,176.5 246,174 248.5,171.5 251,169.2 253.5,166.9 256,164.7 258.4,162.6 260.9,160.6 263.4,158.6 265.8,156.7 268.2,154.9 270.6,153.1 273,151.3 275.4,149.6 277.8,148 280.2,146.3 282.5,144.8 284.9,143.2 287.2,141.7 289.6,140.2 291.9,138.7 294.2,137.3 296.5,135.8"/>
<polyline points="139.7,123.2 142,124.7 144.3,126.3 146.7,128 149.1,129.9 151.5,131.9 153.9,134.2 156.4,136.6 158.8,139.3 161.3,142.2 163.8,145.3 166.3,148.7 168.9,152.2 171.4,156 174,160 176.5,164.1 179.1,168.4 181.7,172.8 184.3,177.3 186.9,181.9 189.4,186.6 192,191.3 194.6,195.9 197.2,200.6 199.8,205.2 202.4,209.8 205,214.4 207.5,218.8 210.1,223.2 212.7,227.5 215.3,231.7 217.8,235.7 220.4,239.7 223,243.6 225.6,247.4 228.2,251.1 230.7,254.7 233.3,258.2 235.9,261.7 238.5,265 241.1,268.3 243.8,271.5 246.4,274.6 249,277.6 251.7,280.6 254.3,283.5 257,286.4 259.6,289.2 262.3,292 265,294.7 267.7,297.4 270.4,300 273.1,302.6 275.9,305.2 278.6,307.7 281.4,310.2 284.1,312.7 286.9,315.2 289.7,317.6 292.5,320 295.3,322.4 298.2,324.8 301,327.2 303.9,329.5"/>
<polyline points="145.3,326.8 148.1,324.4 150.9,321.9 153.7,319.3 156.5,316.7 159.3,314 162,311.3 164.8,308.5 167.5,305.7 170.2,302.7 172.9,299.7 175.6,296.6 178.3,293.5 181,290.3 183.6,286.9 186.3,283.6 188.9,280.1 191.6,276.6 194.2,273 196.8,269.4 199.5,265.7 202.1,262 204.7,258.3 207.3,254.6 209.9,250.8 212.5,247.1 215.1,243.4 217.7,239.8 220.3,236.2 222.8,232.7 225.4,229.2 228,225.8 230.6,222.5 233.1,219.3 235.7,216.2 238.3,213.2 240.8,210.2 243.3,207.4 245.9,204.7 248.4,202 250.9,199.5 253.4,197 255.9,194.7 258.4,192.4 260.9,190.1 263.3,188 265.8,185.9 268.2,183.9 270.7,182 273.1,180.1 275.5,178.2 277.9,176.4 280.3,174.6 282.6,172.9 285,171.2 287.4,169.6 289.7,168 292,166.4 294.3,164.9 296.6,163.3 298.9,161.8 301.2,160.3 303.5,158.9 305.8,157.4"/>
<polyline points="149.2,99.1 151.6,100.5 154,102.1 156.4,103.9 158.8,105.8 161.2,108 163.7,110.3 166.2,112.9 168.7,115.8 171.2,118.9 173.7,122.3 176.3,126 178.8,129.9 181.4,134 184,138.4 186.6,142.9 189.2,147.7 191.8,152.6 194.4,157.6 197,162.7 199.6,167.8 202.2,173 204.8,178.2 207.4,183.4 210,188.5 212.5,193.5 215.1,198.5 217.7,203.4 220.3,208.2 222.9,212.9 225.4,217.5 228,222 230.6,226.3 233.1,230.5 235.7,234.6 238.3,238.6 240.9,242.5 243.5,246.3 246.1,249.9 248.7,253.5 251.3,257 253.9,260.4 256.5,263.7 259.1,266.9 261.7,270 264.4,273.1 267,276.1 269.7,279 272.3,281.9 275,284.7 277.7,287.5 280.4,290.3 283.1,292.9 285.9,295.6 288.6,298.2 291.3,300.8 294.1,303.3 296.9,305.8 299.7,308.3 302.5,310.8 305.3,313.2 308.1,315.6 310.9,318 313.8,320.4"/>
<polyline points="155.1,335.3 158,332.9 160.8,330.5 163.6,328 166.4,325.5 169.2,323 172,320.4 174.7,317.7 177.5,315 180.2,312.2 182.9,309.4 185.6,306.5 188.3,303.6 191,300.6 193.7,297.5 196.3,294.4 199,291.2 201.7,288 204.3,284.7 206.9,281.4 209.6,278.1 212.2,274.7 214.8,271.3 217.4,267.9 220,264.6 222.6,261.2 225.2,257.9 227.8,254.6 230.4,251.3 233,248.1 235.6,244.9 238.1,241.9 240.7,238.8 243.3,235.9 245.8,233 248.4,230.3 250.9,227.6 253.4,224.9 255.9,222.4 258.4,219.9 260.9,217.6 263.4,215.2 265.9,213 268.3,210.8 270.8,208.7 273.2,206.6 275.6,204.6 278.1,202.7 280.5,200.8 282.9,199 285.2,197.1 287.6,195.4 290,193.6 292.3,191.9 294.6,190.3 297,188.6 299.3,187 301.6,185.4 303.9,183.9 306.1,182.3 308.4,180.8 310.7,179.3 312.9,177.8 315.1,176.4"/>
<polyline points="159,78 161.4,79.4 163.8,81 166.3,82.8 168.7,84.8 171.2,87 173.7,89.4 176.2,92.2 178.7,95.2 181.2,98.5 183.8,102.1 186.4,106 189,110.2 191.5,114.7 194.1,119.4 196.7,124.3 199.4,129.5 202,134.7 204.6,140.2 207.2,145.7 209.8,151.3 212.4,156.9 215,162.5 217.5,168.1 220.1,173.6 222.7,179 225.3,184.4 227.8,189.7 230.4,194.8 233,199.9 235.5,204.8 238.1,209.5 240.7,214.2 243.2,218.7 245.8,223 248.3,227.3 250.9,231.4 253.5,235.4 256.1,239.2 258.6,243 261.2,246.6 263.8,250.2 266.4,253.6 269,257 271.7,260.2 274.3,263.4 276.9,266.5 279.6,269.6 282.2,272.5 284.9,275.5 287.6,278.3 290.3,281.1 293,283.9 295.7,286.6 298.4,289.2 301.1,291.8 303.9,294.4 306.7,297 309.4,299.5 312.2,302 315,304.5 317.8,306.9 320.7,309.3 323.5,311.7"/>
<polyline points="165.1,343.8 168,341.5 170.8,339.1 173.6,336.7 176.4,334.2 179.2,331.8 182,329.3 184.8,326.7 187.5,324.1 190.3,321.5 193,318.8 195.7,316.1 198.4,313.3 201.1,310.5 203.8,307.6 206.5,304.7 209.2,301.7 211.8,298.7 214.5,295.7 217.1,292.6 219.8,289.6 222.4,286.5 225,283.3 227.7,280.2 230.3,277.1 232.9,274 235.5,271 238.1,267.9 240.6,264.9 243.2,262 245.8,259.1 248.3,256.2 250.9,253.4 253.4,250.7 256,248.1 258.5,245.5 261,242.9 263.5,240.5 266,238.1 268.5,235.8 271,233.5 273.4,231.3 275.9,229.1 278.3,227 280.8,225 283.2,223 285.6,221.1 288,219.2 290.4,217.3 292.7,215.5 295.1,213.7 297.4,212 299.8,210.2 302.1,208.6 304.4,206.9 306.7,205.3 309,203.6 311.3,202 313.5,200.5 315.8,198.9 318,197.4 320.3,195.9 322.5,194.4 324.7,192.9"/>
<polyline points="169.1,60.5 171.5,61.9 173.9,63.5 176.4,65.3 178.8,67.3 181.3,69.5 183.8,72.1 186.4,74.9 188.9,78 191.5,81.5 194,85.3 196.6,89.4 199.2,93.8 201.8,98.5 204.4,103.5 207,108.7 209.6,114.1 212.2,119.7 214.8,125.4 217.4,131.3 220,137.2 222.5,143.1 225.1,149.1 227.7,155 230.3,160.8 232.8,166.6 235.4,172.2 237.9,177.8 240.5,183.2 243,188.5 245.5,193.6 248.1,198.6 250.6,203.5 253.2,208.2 255.7,212.7 258.2,217.2 260.8,221.4 263.3,225.6 265.9,229.6 268.5,233.5 271,237.2 273.6,240.9 276.2,244.5 278.8,247.9 281.4,251.3 284,254.5 286.6,257.7 289.3,260.8 291.9,263.9 294.6,266.8 297.2,269.8 299.9,272.6 302.6,275.4 305.3,278.1 308,280.8 310.8,283.5 313.5,286.1 316.2,288.7 319,291.2 321.8,293.7 324.6,296.2 327.4,298.7 330.2,301.1 333.1,303.5"/>
<polyline points="175.3,352.3 178.1,350 181,347.7 183.8,345.3 186.6,342.9 189.4,340.5 192.2,338 195,335.6 197.8,333.1 200.5,330.5 203.3,327.9 206,325.3 208.7,322.7 211.4,320 214.1,317.3 216.8,314.5 219.5,311.7 222.2,308.9 224.8,306 227.5,303.2 230.1,300.3 232.7,297.4 235.4,294.5 238,291.6 240.6,288.7 243.2,285.8 245.8,283 248.4,280.1 251,277.3 253.5,274.6 256.1,271.9 258.6,269.2 261.2,266.6 263.7,264 266.2,261.5 268.8,259 271.3,256.6 273.7,254.3 276.2,252 278.7,249.8 281.1,247.6 283.6,245.5 286,243.4 288.4,241.4 290.9,239.4 293.3,237.4 295.6,235.5 298,233.7 300.4,231.8 302.7,230 305.1,228.3 307.4,226.5 309.7,224.8 312,223.1 314.3,221.5 316.6,219.8 318.8,218.2 321.1,216.6 323.3,215 325.6,213.4 327.8,211.9 330,210.3 332.2,208.8 334.4,207.3"/>
<polyline points="179.2,46.4 181.7,47.9 184.1,49.4 186.6,51.2 189.1,53.2 191.6,55.5 194.1,58.1 196.6,60.9 199.2,64.2 201.7,67.7 204.3,71.6 206.9,75.9 209.5,80.4 212,85.3 214.6,90.5 217.2,95.9 219.8,101.5 222.4,107.3 225,113.3 227.5,119.4 230.1,125.5 232.6,131.7 235.2,137.8 237.7,143.9 240.3,150 242.8,156 245.3,161.8 247.9,167.6 250.4,173.2 252.9,178.7 255.4,184 257.9,189.1 260.4,194.1 262.9,199 265.5,203.7 268,208.2 270.5,212.6 273,216.8 275.6,221 278.1,224.9 280.7,228.8 283.2,232.5 285.8,236.2 288.4,239.7 291,243.1 293.6,246.4 296.2,249.6 298.8,252.8 301.4,255.9 304.1,258.9 306.7,261.8 309.4,264.7 312.1,267.5 314.8,270.3 317.5,273 320.2,275.6 322.9,278.3 325.6,280.8 328.4,283.4 331.2,285.9 334,288.4 336.7,290.8 339.6,293.3 342.4,295.7"/>
<polyline points="185.7,360.9 188.5,358.6 191.4,356.2 194.2,353.9 197,351.5 199.9,349.2 202.6,346.7 205.4,344.3 208.2,341.9 211,339.4 213.7,336.9 216.4,334.4 219.2,331.8 221.9,329.2 224.6,326.6 227.3,324 230,321.3 232.6,318.6 235.3,315.9 237.9,313.2 240.6,310.4 243.2,307.7 245.9,305 248.5,302.2 251.1,299.5 253.7,296.8 256.3,294.1 258.8,291.4 261.4,288.7 264,286.1 266.5,283.5 269.1,281 271.6,278.5 274.1,276.1 276.6,273.7 279.1,271.3 281.6,269 284.1,266.8 286.6,264.6 289,262.4 291.5,260.3 293.9,258.2 296.3,256.2 298.7,254.2 301.1,252.2 303.5,250.3 305.9,248.4 308.2,246.6 310.6,244.8 312.9,243 315.2,241.2 317.5,239.5 319.8,237.7 322.1,236.1 324.4,234.4 326.6,232.7 328.9,231.1 331.1,229.5 333.4,227.9 335.6,226.3 337.8,224.7 340,223.2 342.2,221.6 344.3,220.1"/>
<polyline points="189.4,35.3 191.9,36.7 194.3,38.2 196.8,40 199.3,42 201.8,44.3 204.3,46.9 206.9,49.8 209.4,53.1 212,56.7 214.5,60.6 217.1,65 219.7,69.6 222.2,74.6 224.8,79.9 227.4,85.5 229.9,91.2 232.5,97.2 235,103.3 237.6,109.5 240.1,115.8 242.6,122.1 245.2,128.4 247.7,134.7 250.2,140.9 252.7,147 255.2,153 257.7,158.9 260.1,164.6 262.6,170.2 265.1,175.6 267.6,180.8 270.1,185.9 272.6,190.9 275.1,195.6 277.6,200.3 280.1,204.7 282.6,209 285.1,213.2 287.6,217.2 290.1,221.1 292.7,224.9 295.2,228.6 297.8,232.1 300.4,235.6 302.9,238.9 305.5,242.2 308.1,245.3 310.8,248.4 313.4,251.5 316,254.4 318.7,257.3 321.3,260.1 324,262.9 326.7,265.6 329.4,268.2 332.1,270.9 334.9,273.4 337.6,276 340.3,278.5 343.1,281 345.9,283.4 348.7,285.8 351.5,288.2"/>
<polyline points="196.2,369.5 199.1,367.2 202,364.9 204.8,362.5 207.6,360.2 210.5,357.8 213.3,355.4 216,353 218.8,350.6 221.6,348.2 224.3,345.7 227.1,343.3 229.8,340.8 232.5,338.3 235.2,335.7 237.9,333.2 240.6,330.6 243.3,328 245.9,325.4 248.6,322.8 251.2,320.2 253.9,317.5 256.5,314.9 259.1,312.3 261.7,309.7 264.3,307.1 266.9,304.5 269.5,301.9 272,299.4 274.6,296.9 277.1,294.4 279.7,292 282.2,289.6 284.7,287.2 287.2,284.9 289.7,282.6 292.2,280.4 294.6,278.2 297.1,276 299.5,273.9 301.9,271.8 304.4,269.8 306.8,267.8 309.1,265.8 311.5,263.9 313.9,262 316.2,260.1 318.6,258.3 320.9,256.5 323.2,254.7 325.5,252.9 327.8,251.1 330.1,249.4 332.4,247.7 334.7,246 336.9,244.4 339.1,242.7 341.4,241.1 343.6,239.4 345.8,237.8 348,236.2 350.2,234.7 352.3,233.1 354.5,231.5"/>
<polyline points="199.6,26.3 202,27.7 204.5,29.2 207,31 209.5,33 212,35.3 214.5,37.9 217,40.8 219.6,44.1 222.1,47.7 224.7,51.8 227.2,56.1 229.8,60.8 232.3,65.9 234.9,71.2 237.4,76.9 239.9,82.7 242.5,88.7 245,94.9 247.5,101.2 250,107.6 252.5,114 255,120.4 257.4,126.8 259.9,133 262.4,139.2 264.8,145.3 267.3,151.2 269.7,157 272.2,162.7 274.7,168.2 277.1,173.5 279.6,178.6 282,183.6 284.5,188.4 287,193.1 289.4,197.6 291.9,201.9 294.4,206.1 296.9,210.1 299.4,214.1 302,217.9 304.5,221.5 307,225.1 309.6,228.6 312.1,231.9 314.7,235.2 317.3,238.4 319.9,241.5 322.5,244.5 325.1,247.4 327.8,250.3 330.4,253.1 333.1,255.9 335.8,258.6 338.4,261.2 341.2,263.8 343.9,266.4 346.6,268.9 349.3,271.4 352.1,273.9 354.9,276.3 357.7,278.7 360.5,281"/>
<polyline points="207,378.2 209.9,375.9 212.8,373.5 215.6,371.2 218.4,368.9 221.3,366.5 224.1,364.1 226.9,361.8 229.6,359.4 232.4,357 235.2,354.5 237.9,352.1 240.6,349.7 243.3,347.2 246,344.7 248.7,342.2 251.4,339.7 254.1,337.2 256.8,334.6 259.4,332.1 262.1,329.6 264.7,327 267.3,324.5 269.9,321.9 272.5,319.4 275.1,316.9 277.7,314.4 280.3,311.9 282.8,309.5 285.4,307 287.9,304.6 290.4,302.3 292.9,299.9 295.4,297.6 297.9,295.4 300.4,293.1 302.9,290.9 305.3,288.8 307.8,286.7 310.2,284.6 312.6,282.5 315,280.5 317.4,278.5 319.8,276.6 322.1,274.7 324.5,272.8 326.8,270.9 329.2,269 331.5,267.2 333.8,265.4 336.1,263.6 338.4,261.9 340.6,260.1 342.9,258.4 345.1,256.7 347.4,255 349.6,253.3 351.8,251.7 354,250 356.2,248.4 358.4,246.8 360.5,245.2 362.7,243.6 364.9,242"/>
<polyline points="209.6,19 212.1,20.3 214.5,21.9 217,23.6 219.5,25.6 222,27.9 224.6,30.5 227.1,33.4 229.6,36.7 232.1,40.4 234.7,44.4 237.2,48.8 239.7,53.5 242.3,58.6 244.8,64 247.3,69.6 249.8,75.5 252.3,81.6 254.8,87.8 257.2,94.2 259.7,100.6 262.2,107 264.6,113.4 267,119.8 269.5,126.2 271.9,132.4 274.3,138.5 276.8,144.5 279.2,150.3 281.6,156 284,161.5 286.4,166.8 288.9,172 291.3,177 293.7,181.8 296.2,186.4 298.6,191 301.1,195.3 303.6,199.5 306,203.6 308.5,207.5 311,211.3 313.5,215 316.1,218.5 318.6,222 321.1,225.3 323.7,228.6 326.3,231.7 328.9,234.8 331.5,237.8 334.1,240.8 336.7,243.6 339.3,246.4 342,249.2 344.6,251.8 347.3,254.5 350,257.1 352.7,259.6 355.4,262.1 358.2,264.6 360.9,267 363.7,269.4 366.4,271.8 369.2,274.1"/>
<polyline points="218,387 220.9,384.7 223.8,382.3 226.6,380 229.5,377.6 232.3,375.3 235.1,372.9 237.9,370.5 240.7,368.1 243.4,365.8 246.2,363.3 248.9,360.9 251.7,358.5 254.4,356.1 257.1,353.6 259.8,351.2 262.5,348.7 265.1,346.2 267.8,343.7 270.4,341.2 273.1,338.7 275.7,336.3 278.3,333.8 280.9,331.3 283.5,328.8 286.1,326.4 288.7,323.9 291.3,321.5 293.8,319.1 296.3,316.7 298.9,314.4 301.4,312.1 303.9,309.8 306.4,307.5 308.9,305.3 311.3,303.1 313.8,300.9 316.2,298.8 318.6,296.7 321.1,294.6 323.5,292.6 325.9,290.6 328.2,288.6 330.6,286.7 333,284.7 335.3,282.8 337.6,281 339.9,279.1 342.2,277.3 344.5,275.5 346.8,273.7 349.1,271.9 351.3,270.1 353.6,268.4 355.8,266.7 358.1,264.9 360.3,263.3 362.5,261.6 364.7,259.9 366.8,258.2 369,256.6 371.2,255 373.3,253.3 375.4,251.7"/>
<polyline points="219.5,12.8 222,14.2 224.5,15.7 227,17.4 229.4,19.4 231.9,21.6 234.5,24.2 237,27.1 239.5,30.4 242,34.1 244.5,38.1 247,42.5 249.5,47.2 252,52.3 254.5,57.7 257,63.3 259.5,69.2 261.9,75.3 264.4,81.6 266.8,87.9 269.2,94.3 271.7,100.8 274.1,107.2 276.5,113.6 278.9,120 281.3,126.2 283.7,132.3 286,138.3 288.4,144.1 290.8,149.8 293.2,155.3 295.6,160.6 298,165.8 300.4,170.8 302.8,175.6 305.2,180.3 307.7,184.8 310.1,189.1 312.5,193.3 315,197.3 317.5,201.3 319.9,205 322.4,208.7 324.9,212.3 327.5,215.7 330,219 332.5,222.3 335.1,225.4 337.6,228.5 340.2,231.5 342.8,234.4 345.4,237.2 348.1,240 350.7,242.7 353.3,245.4 356,248 358.7,250.5 361.4,253.1 364.1,255.5 366.8,258 369.5,260.4 372.3,262.8 375,265.1 377.8,267.4"/>
<polyline points="229.3,396 232.2,393.6 235,391.3 237.9,388.9 240.7,386.5 243.5,384.1 246.4,381.8 249.1,379.4 251.9,377 254.7,374.6 257.4,372.2 260.2,369.8 262.9,367.4 265.6,364.9 268.3,362.5 271,360.1 273.7,357.6 276.4,355.2 279,352.7 281.7,350.3 284.3,347.8 286.9,345.4 289.6,342.9 292.2,340.5 294.7,338.1 297.3,335.6 299.9,333.2 302.4,330.9 305,328.5 307.5,326.2 310,323.8 312.5,321.6 315,319.3 317.5,317.1 320,314.9 322.5,312.7 324.9,310.5 327.3,308.4 329.7,306.3 332.2,304.3 334.5,302.2 336.9,300.2 339.3,298.2 341.6,296.3 344,294.3 346.3,292.4 348.6,290.5 350.9,288.7 353.2,286.8 355.5,285 357.8,283.2 360,281.4 362.3,279.6 364.5,277.8 366.7,276.1 369,274.3 371.2,272.6 373.3,270.9 375.5,269.2 377.7,267.5 379.8,265.8 382,264.2 384.1,262.5 386.3,260.9"/>
<polyline points="229.3,7.5 231.8,8.8 234.2,10.3 236.7,12 239.2,13.9 241.7,16.2 244.2,18.7 246.7,21.7 249.2,24.9 251.7,28.6 254.2,32.6 256.7,36.9 259.2,41.7 261.6,46.7 264.1,52.1 266.6,57.7 269,63.6 271.4,69.7 273.8,75.9 276.2,82.3 278.6,88.7 281,95.1 283.4,101.5 285.7,107.9 288.1,114.3 290.4,120.5 292.8,126.6 295.1,132.5 297.5,138.4 299.9,144 302.2,149.5 304.6,154.8 306.9,160 309.3,165 311.7,169.8 314.1,174.4 316.5,178.9 318.9,183.2 321.3,187.4 323.8,191.4 326.2,195.3 328.7,199.1 331.2,202.7 333.6,206.2 336.1,209.7 338.6,213 341.2,216.2 343.7,219.3 346.3,222.3 348.8,225.3 351.4,228.2 354,231 356.6,233.8 359.2,236.5 361.9,239.1 364.5,241.7 367.2,244.2 369.9,246.7 372.6,249.2 375.3,251.6 378,254 380.7,256.3 383.5,258.6 386.3,260.9"/>
</g>
<path d="M229.3 406.4L229.3 187.4M229.3 187.4L39.6 77.9M229.3 187.4L418.9 77.9" stroke="#999" stroke-opacity="0.32" stroke-width="0.7" fill="none"/>
<path d="M71.4 282.2L73.7 280.8M78.4 287.6L80.7 286.3M85.5 293.2L87.8 291.8M92.7 298.9L95 297.5M100 304.6L103.7 302.3M107.4 310.5L109.7 309M115 316.4L117.3 314.9M122.6 322.4L125 320.9M130.4 328.6L132.8 327.1M138.4 334.8L142.1 332.4M146.4 341.2L148.8 339.6M154.6 347.6L157 346M163 354.2L165.3 352.6M171.5 360.9L173.8 359.2M180.1 367.7L183.9 365M188.9 374.6L191.2 372.9M197.8 381.7L200.2 379.9M206.9 388.8L209.3 387M216.2 396.1L218.6 394.3M225.7 403.6L229.4 400.6M382.7 285.6L380.4 284.3M373.8 292.6L371.5 291.3M364.7 299.8L361 297.6M355.4 307.1L353.1 305.7M345.9 314.6L343.6 313.1M336.2 322.2L333.9 320.7M326.3 330L324 328.5M316.2 338L312.5 335.5M305.9 346.1L303.5 344.5M295.3 354.4L293 352.8M284.6 362.9L282.2 361.2M273.5 371.6L271.2 369.9M262.3 380.5L258.5 377.7M250.7 389.6L248.4 387.8M238.9 398.8L236.6 397M68.3 276.7L72 274.6M67.1 268.2L69.4 266.9M65.9 259.6L68.2 258.3M64.6 250.8L67 249.5M63.3 241.9L65.7 240.6M62 232.9L65.9 230.8M60.7 223.7L63.1 222.4M59.3 214.4L61.8 213.1M58 204.9L60.5 203.6M56.6 195.3L59.1 194M55.2 185.5L59.2 183.5M53.7 175.5L56.3 174.3M52.3 165.4L54.8 164.2M50.8 155.1L53.4 153.9M49.3 144.6L51.9 143.4M47.7 134L52 132.1M46.2 123.2L48.9 122M44.6 112.2L47.3 111M43 101L45.7 99.8M41.3 89.6L44.1 88.4M39.6 77.9L44.1 76.2" stroke="#5a5a5a" stroke-width="0.8" fill="none"/>
<g font-size="13.8" fill="#000">
<text x="22.9" y="92.3" text-anchor="middle" >3.0</text>
<text x="31.1" y="149.3" text-anchor="middle" >2.5</text>
<text x="38.7" y="200.6" text-anchor="middle" >2.0</text>
<text x="46.0" y="248.8" text-anchor="middle" >1.5</text>
<text x="52.5" y="293.0" text-anchor="middle" >1.0</text>
<text x="85.3" y="320.0" text-anchor="middle" >50</text>
<text x="120.7" y="351.0" text-anchor="middle" >100</text>
<text x="163.0" y="383.8" text-anchor="middle" >150</text>
<text x="208.0" y="421.5" text-anchor="middle" >200</text>
<text x="267.0" y="397.0" text-anchor="middle" >0</text>
<text x="325.2" y="353.1" text-anchor="middle" >−1</text>
<text x="375.0" y="315.5" text-anchor="middle" >−2</text>
</g><g font-size="14" fill="#000">
<text x="15.3" y="211.7" text-anchor="middle" >OER</text>
<text x="25.0" y="363.1" text-anchor="start" textLength="92">LET (keV/<tspan font-style="italic">μ</tspan>m )</text>
<text x="336.5" y="363.1" text-anchor="start" textLength="63">log(%pO<tspan font-size="10" dy="3.2">2</tspan><tspan dy="-3.2">)</tspan></text>
</g>
<g clip-path="url(#cp)" stroke-width="1.3">
<polyline fill="none" points="27.6,430.6 31.1,430.6 34.5,430.7 38.0,430.7 41.5,430.7 45.0,430.8 48.4,430.8 51.9,430.9 55.4,430.9 58.9,431.0 62.3,431.0 65.8,431.1 69.3,431.2 72.8,431.3 76.2,431.3 79.7,431.5 83.2,431.6 86.7,431.7 90.1,431.9 93.6,432.0 97.1,432.2 100.6,432.4 104.0,432.6 107.5,432.9 111.0,433.1 114.5,433.5 117.9,433.8 121.4,434.2 124.9,434.6 128.4,435.1 131.8,435.6 135.3,436.1 138.8,436.8 142.3,437.5 145.7,438.3 149.2,439.1 152.7,440.1 156.1,441.1 159.6,442.3 163.1,443.6 166.6,445.0 170.0,446.6 173.5,448.3 177.0,450.1 180.5,452.2 183.9,454.4 187.4,456.9 190.9,459.6 194.4,462.5 197.8,465.7 201.3,469.1 204.8,472.8 208.3,476.7 211.7,481.0 215.2,485.6 218.7,490.4 222.2,495.6 225.6,501.1 229.1,506.8 232.6,512.8 236.1,519.1 239.5,525.7 243.0,532.5 246.5,539.4 250.0,546.6 253.4,553.9 256.9,561.2 260.4,568.7 263.9,576.1 267.3,583.6 270.8,590.9 274.3,598.2 277.8,605.3 281.2,612.3 284.7,619.1 288.2,625.6 291.6,631.9 295.1,638.0 298.6,643.7 302.1,649.2 305.5,654.3 309.0,659.2 312.5,663.8 316.0,668.0 319.4,672.0 322.9,675.7 326.4,679.1 329.9,682.3 333.3,685.2 336.8,687.8 340.3,690.3 343.8,692.5 347.2,694.6 350.7,696.5 354.2,698.2 357.7,699.7 361.1,701.1 364.6,702.4 368.1,703.6 371.6,704.6 375.0,705.6 378.5,706.5 382.0,707.2 385.5,707.9 388.9,708.6 392.4,709.1 395.9,709.7 399.4,710.1 402.8,710.5 406.3,710.9" stroke="#000"/>
<polyline fill="none" points="27.6,504.9 31.1,504.9 34.5,505.0 38.0,505.0 41.5,505.0 45.0,505.0 48.4,505.1 51.9,505.1 55.4,505.2 58.9,505.2 62.3,505.3 65.8,505.3 69.3,505.4 72.8,505.5 76.2,505.5 79.7,505.6 83.2,505.7 86.7,505.8 90.1,505.9 93.6,506.1 97.1,506.2 100.6,506.4 104.0,506.6 107.5,506.8 111.0,507.0 114.5,507.3 117.9,507.6 121.4,507.9 124.9,508.2 128.4,508.6 131.8,509.0 135.3,509.5 138.8,510.0 142.3,510.6 145.7,511.3 149.2,512.0 152.7,512.8 156.1,513.7 159.6,514.6 163.1,515.7 166.6,516.9 170.0,518.1 173.5,519.5 177.0,521.1 180.5,522.8 183.9,524.6 187.4,526.6 190.9,528.8 194.4,531.2 197.8,533.8 201.3,536.6 204.8,539.5 208.3,542.8 211.7,546.2 215.2,549.9 218.7,553.7 222.2,557.9 225.6,562.2 229.1,566.7 232.6,571.5 236.1,576.4 239.5,581.5 243.0,586.8 246.5,592.1 250.0,597.6 253.4,603.1 256.9,608.6 260.4,614.2 263.9,619.7 267.3,625.2 270.8,630.6 274.3,635.9 277.8,641.0 281.2,646.0 284.7,650.8 288.2,655.4 291.6,659.8 295.1,664.0 298.6,668.0 302.1,671.7 305.5,675.2 309.0,678.5 312.5,681.6 316.0,684.4 319.4,687.1 322.9,689.5 326.4,691.7 329.9,693.8 333.3,695.7 336.8,697.4 340.3,699.0 343.8,700.5 347.2,701.8 350.7,703.0 354.2,704.1 357.7,705.1 361.1,706.0 364.6,706.8 368.1,707.6 371.6,708.2 375.0,708.8 378.5,709.4 382.0,709.9 385.5,710.3 388.9,710.7 392.4,711.1 395.9,711.4 399.4,711.7 402.8,711.9 406.3,712.2" stroke="#00ff00" stroke-dasharray="5.3 2.8"/>
<polyline fill="none" points="27.6,582.4 31.1,582.4 34.5,582.5 38.0,582.5 41.5,582.5 45.0,582.5 48.4,582.5 51.9,582.6 55.4,582.6 58.9,582.6 62.3,582.7 65.8,582.7 69.3,582.8 72.8,582.8 76.2,582.9 79.7,582.9 83.2,583.0 86.7,583.1 90.1,583.2 93.6,583.3 97.1,583.4 100.6,583.5 104.0,583.6 107.5,583.8 111.0,583.9 114.5,584.1 117.9,584.3 121.4,584.5 124.9,584.8 128.4,585.1 131.8,585.4 135.3,585.7 138.8,586.1 142.3,586.5 145.7,587.0 149.2,587.5 152.7,588.1 156.1,588.7 159.6,589.4 163.1,590.1 166.6,591.0 170.0,591.9 173.5,592.9 177.0,594.0 180.5,595.2 183.9,596.5 187.4,597.9 190.9,599.4 194.4,601.1 197.8,602.9 201.3,604.8 204.8,606.9 208.3,609.1 211.7,611.5 215.2,614.0 218.7,616.6 222.2,619.4 225.6,622.3 229.1,625.4 232.6,628.5 236.1,631.8 239.5,635.2 243.0,638.6 246.5,642.1 250.0,645.6 253.4,649.1 256.9,652.7 260.4,656.2 263.9,659.6 267.3,663.0 270.8,666.3 274.3,669.6 277.8,672.7 281.2,675.7 284.7,678.5 288.2,681.3 291.6,683.8 295.1,686.3 298.6,688.6 302.1,690.7 305.5,692.7 309.0,694.6 312.5,696.3 316.0,697.9 319.4,699.4 322.9,700.8 326.4,702.0 329.9,703.2 333.3,704.2 336.8,705.2 340.3,706.0 343.8,706.8 347.2,707.6 350.7,708.2 354.2,708.8 357.7,709.4 361.1,709.8 364.6,710.3 368.1,710.7 371.6,711.0 375.0,711.4 378.5,711.7 382.0,711.9 385.5,712.2 388.9,712.4 392.4,712.6 395.9,712.7 399.4,712.9 402.8,713.0 406.3,713.2" stroke="#0000ff" stroke-dasharray="6 2.2 2 2.2"/>
<polyline fill="none" points="27.6,662.5 31.1,662.5 34.5,662.5 38.0,662.5 41.5,662.5 45.0,662.5 48.4,662.6 51.9,662.6 55.4,662.6 58.9,662.6 62.3,662.6 65.8,662.6 69.3,662.7 72.8,662.7 76.2,662.7 79.7,662.7 83.2,662.8 86.7,662.8 90.1,662.8 93.6,662.9 97.1,662.9 100.6,663.0 104.0,663.0 107.5,663.1 111.0,663.2 114.5,663.3 117.9,663.4 121.4,663.5 124.9,663.6 128.4,663.7 131.8,663.8 135.3,664.0 138.8,664.2 142.3,664.4 145.7,664.6 149.2,664.8 152.7,665.0 156.1,665.3 159.6,665.6 163.1,666.0 166.6,666.3 170.0,666.7 173.5,667.2 177.0,667.7 180.5,668.2 183.9,668.8 187.4,669.4 190.9,670.1 194.4,670.8 197.8,671.6 201.3,672.4 204.8,673.3 208.3,674.3 211.7,675.3 215.2,676.4 218.7,677.5 222.2,678.7 225.6,679.9 229.1,681.1 232.6,682.4 236.1,683.8 239.5,685.1 243.0,686.5 246.5,687.9 250.0,689.3 253.4,690.7 256.9,692.1 260.4,693.4 263.9,694.8 267.3,696.1 270.8,697.3 274.3,698.5 277.8,699.7 281.2,700.8 284.7,701.8 288.2,702.8 291.6,703.7 295.1,704.6 298.6,705.4 302.1,706.2 305.5,706.9 309.0,707.6 312.5,708.2 316.0,708.7 319.4,709.2 322.9,709.7 326.4,710.1 329.9,710.5 333.3,710.9 336.8,711.2 340.3,711.5 343.8,711.8 347.2,712.0 350.7,712.3 354.2,712.5 357.7,712.6 361.1,712.8 364.6,713.0 368.1,713.1 371.6,713.2 375.0,713.3 378.5,713.4 382.0,713.5 385.5,713.6 388.9,713.7 392.4,713.7 395.9,713.8 399.4,713.8 402.8,713.9 406.3,713.9" stroke="#ff0000" stroke-dasharray="2 2"/>
</g>
<path d="M282.9 586.7V657.4M279.3 586.7h7.2M279.3 657.4h7.2" stroke="#ff55ff" stroke-width="1.2" fill="none"/>
<path d="M282.9 615.6l4.0 7.1h-8.0z" fill="#ff00ff"/>
<path d="M250.5 544.3V578.3M247.0 544.3h7.0M247.0 578.3h7.0" stroke="#000" stroke-width="1.0" fill="none"/>
<circle cx="250.5" cy="561" r="3.3" fill="#000"/>
<path d="M289.8 630.0V650.2M286.3 630.0h7.0M286.3 650.2h7.0" stroke="#000" stroke-width="1.0" fill="none"/>
<circle cx="289.8" cy="640" r="3.3" fill="#000"/>
<path d="M296.0 637.6V655.0M292.5 637.6h7.0M292.5 655.0h7.0" stroke="#bc8f8f" stroke-width="1.0" fill="none"/>
<path d="M296.0 642.4l3.8 3.8l-3.8 3.8l-3.8 -3.8z" fill="#bc8f8f"/>
<path d="M250.5 633.6V663.8M247.0 633.6h7.0M247.0 663.8h7.0" stroke="#3333ff" stroke-width="1.0" fill="none"/>
<path d="M250.5 644.5l3.8 3.8l-3.8 3.8l-3.8 -3.8z" fill="#0000ff"/>
<g font-size="9">
<text x="243.6" y="555.6" text-anchor="middle">3</text>
<text x="296.6" y="634" text-anchor="middle">2</text>
<text x="302.6" y="645" text-anchor="middle" fill="#bc8f8f">1</text>
<text x="275.7" y="618" text-anchor="middle" fill="#ff00ff">1</text>
<text x="246" y="656.5" text-anchor="middle" fill="#0000ff">3</text>
</g>
<rect x="27.6" y="426.0" width="378.7" height="288.3" fill="none" stroke="#000" stroke-width="1.2"/>
<line x1="28.2" y1="714.3" x2="405.7" y2="714.3" stroke="#ffa500" stroke-width="2.4"/>
<path d="M94.7 714.3v-3.5M94.7 426.0v3.5M134.0 714.3v-3.5M134.0 426.0v3.5M161.8 714.3v-3.5M161.8 426.0v3.5M183.4 714.3v-7.0M183.4 426.0v7.0M201.0 714.3v-3.5M201.0 426.0v3.5M216.0 714.3v-3.5M216.0 426.0v3.5M228.9 714.3v-3.5M228.9 426.0v3.5M240.3 714.3v-3.5M240.3 426.0v3.5M250.5 714.3v-7.0M250.5 426.0v7.0M317.6 714.3v-3.5M317.6 426.0v3.5M356.8 714.3v-3.5M356.8 426.0v3.5M384.7 714.3v-3.5M384.7 426.0v3.5M27.6 689.7h3.5M406.3 689.7h-3.5M27.6 667.2h3.5M406.3 667.2h-3.5M27.6 646.5h3.5M406.3 646.5h-3.5M27.6 627.4h3.5M406.3 627.4h-3.5M27.6 609.5h3.5M406.3 609.5h-3.5M27.6 592.8h3.5M406.3 592.8h-3.5M27.6 577.2h3.5M406.3 577.2h-3.5M27.6 562.4h3.5M406.3 562.4h-3.5M27.6 548.4h3.5M406.3 548.4h-3.5M27.6 535.2h7.0M406.3 535.2h-7.0M27.6 522.6h3.5M406.3 522.6h-3.5M27.6 510.6h3.5M406.3 510.6h-3.5M27.6 499.1h3.5M406.3 499.1h-3.5M27.6 488.1h3.5M406.3 488.1h-3.5M27.6 477.5h3.5M406.3 477.5h-3.5M27.6 467.4h3.5M406.3 467.4h-3.5M27.6 457.6h3.5M406.3 457.6h-3.5M27.6 448.2h3.5M406.3 448.2h-3.5M27.6 439.2h3.5M406.3 439.2h-3.5M27.6 430.4h7.0M406.3 430.4h-7.0" stroke="#000" stroke-width="1.1" fill="none"/>
<g font-size="13" text-anchor="middle">
<text x="27.6" y="726.7">10</text>
<text x="183.4" y="726.7">50</text>
<text x="250.5" y="726.7">100</text>
<text x="406.3" y="726.7">500</text>
</g><g font-size="13" text-anchor="end">
<text x="24.8" y="718.3">1</text>
<text x="24.8" y="539.2">2</text>
<text x="24.8" y="434.4">3</text>
</g>
<text x="217" y="738.5" font-size="14.7" text-anchor="middle">dose av. LET (keV/μm)</text>
<text transform="translate(12.3 570.2) rotate(-90)" font-size="14.4" text-anchor="middle">OER (10%Survival)</text>
<rect x="290.7" y="431.1" width="105" height="164.3" fill="#fff" stroke="#222" stroke-width="1"/>
<g font-size="12.3">
<line x1="295" y1="441.4" x2="308.8" y2="441.4" stroke="#000" stroke-width="1.25"/>
<text x="316" y="444.6">pO<tspan font-size="9" dy="4.3">2</tspan><tspan dy="-4.3">=0%</tspan></text>
<line x1="295" y1="458.0" x2="308.8" y2="458.0" stroke="#00ff00" stroke-width="1.25" stroke-dasharray="5.3 2.8"/>
<text x="316" y="461.2">pO<tspan font-size="9" dy="4.3">2</tspan><tspan dy="-4.3">=0.15%</tspan></text>
<line x1="295" y1="474.8" x2="308.8" y2="474.8" stroke="#0000ff" stroke-width="1.25" stroke-dasharray="6 2.2 2 2.2"/>
<text x="316" y="478.0">pO<tspan font-size="9" dy="4.3">2</tspan><tspan dy="-4.3">=0.5%</tspan></text>
<line x1="295" y1="491.5" x2="308.8" y2="491.5" stroke="#ff0000" stroke-width="1.25" stroke-dasharray="2 2"/>
<text x="316" y="494.7">pO<tspan font-size="9" dy="4.3">2</tspan><tspan dy="-4.3">=2%</tspan></text>
<line x1="295" y1="508.4" x2="308.8" y2="508.4" stroke="#ffa500" stroke-width="1.25"/>
<text x="316" y="511.6">pO<tspan font-size="9" dy="4.3">2</tspan><tspan dy="-4.3">=21%</tspan></text>
<circle cx="302" cy="526" r="3.3" fill="#000"/>
<path d="M302.0 541.8l3.8 3.8l-3.8 3.8l-3.8 -3.8z" fill="#bc8f8f"/>
<path d="M302.0 561.0l4.0 7.1h-8.0z" fill="#ff00ff"/>
<path d="M302.0 580.2l3.8 3.8l-3.8 3.8l-3.8 -3.8z" fill="#0000ff"/>
<text x="316" y="530.6">exp. 0% (<tspan font-size="8" dy="-6.3">12</tspan><tspan dy="6.3">C)</tspan></text>
<text x="316" y="550.2">exp. 0% (<tspan font-size="8" dy="-6.3">14</tspan><tspan dy="6.3">N)</tspan></text>
<text x="316" y="569.4">exp. 0% (<tspan font-size="8" dy="-6.3">16</tspan><tspan dy="6.3">O)</tspan></text>
<text x="316" y="588.6">exp. 0.5% (<tspan font-size="8" dy="-6.3">12</tspan><tspan dy="6.3">C)</tspan></text>
</g>

</svg>
</body></html>
